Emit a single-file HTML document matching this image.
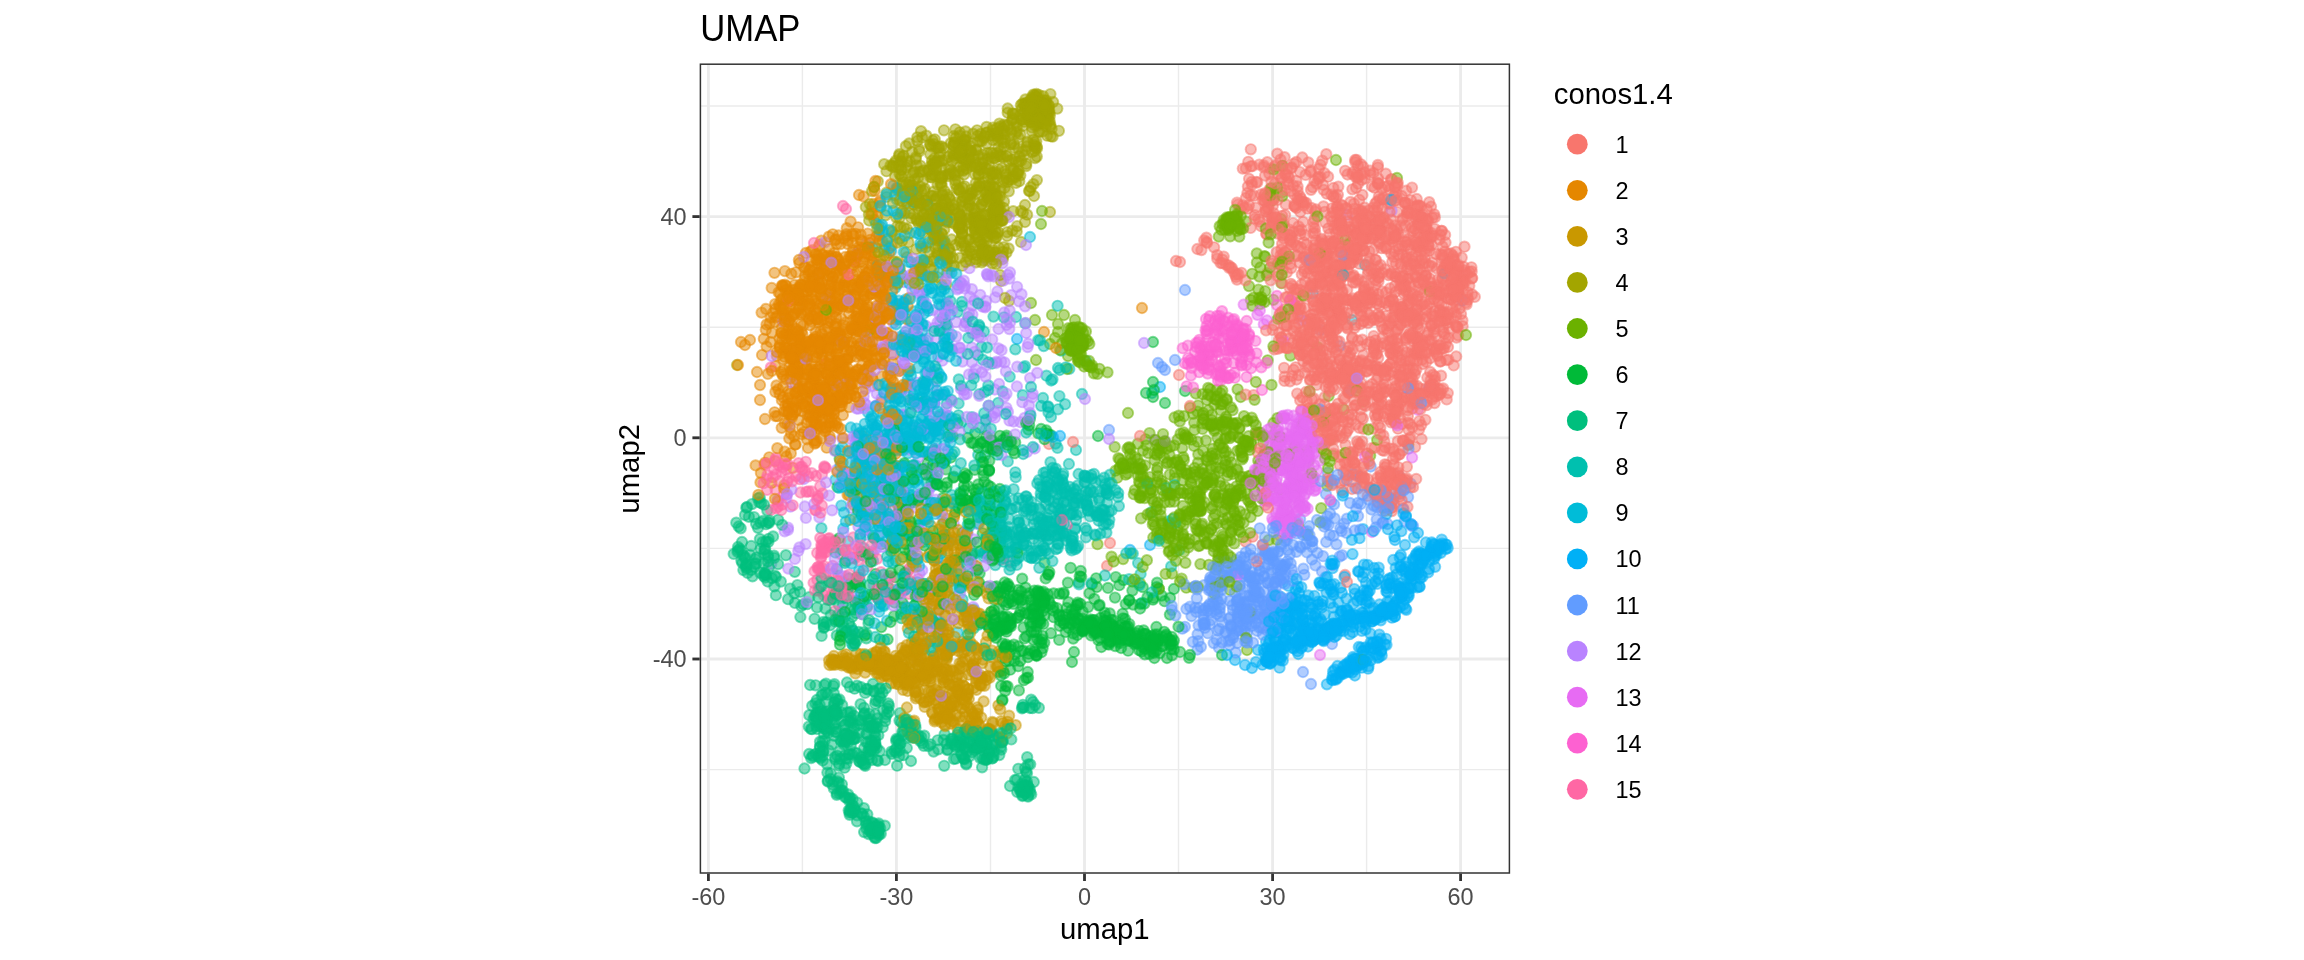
<!DOCTYPE html>
<html lang="en"><head><meta charset="utf-8"><title>UMAP</title>
<style>
html,body{margin:0;padding:0;background:#fff;overflow:hidden}
svg{display:block;will-change:transform}
text{font-family:"Liberation Sans",Arial,Helvetica,sans-serif}
.at{font-size:23.47px;fill:#4d4d4d}
.lt{font-size:23.47px;fill:#000}
.ti{font-size:29.33px;fill:#000}
.gM{stroke:#ebebeb;stroke-width:2.85}
.gm{stroke:#ebebeb;stroke-width:1.42}
.tk{stroke:#333;stroke-width:2.85}
.k1{marker:url(#m1)}
.k2{marker:url(#m2)}
.k3{marker:url(#m3)}
.k4{marker:url(#m4)}
.k5{marker:url(#m5)}
.k6{marker:url(#m6)}
.k7{marker:url(#m7)}
.k8{marker:url(#m8)}
.k9{marker:url(#m9)}
.k10{marker:url(#m10)}
.k11{marker:url(#m11)}
.k12{marker:url(#m12)}
.k13{marker:url(#m13)}
.k14{marker:url(#m14)}
.k15{marker:url(#m15)}
</style></head>
<body>
<svg width="2304" height="960" viewBox="0 0 2304 960">
<rect width="2304" height="960" fill="#fff"/>
<text transform="translate(700.3 41.2) scale(.985 1.06)" style="font-size:35.2px">UMAP</text>
<g id="grid">
<line class="gm" x1="802.4" x2="802.4" y1="64.2" y2="873.0"/>
<line class="gm" x1="990.5" x2="990.5" y1="64.2" y2="873.0"/>
<line class="gm" x1="1178.5" x2="1178.5" y1="64.2" y2="873.0"/>
<line class="gm" x1="1366.6" x2="1366.6" y1="64.2" y2="873.0"/>
<line class="gm" x1="700.4" x2="1509.4" y1="769.6" y2="769.6"/>
<line class="gm" x1="700.4" x2="1509.4" y1="548.4" y2="548.4"/>
<line class="gm" x1="700.4" x2="1509.4" y1="327.2" y2="327.2"/>
<line class="gm" x1="700.4" x2="1509.4" y1="106.0" y2="106.0"/>
<line class="gM" x1="708.4" x2="708.4" y1="64.2" y2="873.0"/>
<line class="gM" x1="896.4" x2="896.4" y1="64.2" y2="873.0"/>
<line class="gM" x1="1084.5" x2="1084.5" y1="64.2" y2="873.0"/>
<line class="gM" x1="1272.6" x2="1272.6" y1="64.2" y2="873.0"/>
<line class="gM" x1="1460.6" x2="1460.6" y1="64.2" y2="873.0"/>
<line class="gM" x1="700.4" x2="1509.4" y1="659.0" y2="659.0"/>
<line class="gM" x1="700.4" x2="1509.4" y1="437.8" y2="437.8"/>
<line class="gM" x1="700.4" x2="1509.4" y1="216.6" y2="216.6"/>
</g>
<defs>
<marker id="m1" markerUnits="userSpaceOnUse" markerWidth="14" markerHeight="14" refX="7" refY="7" overflow="visible"><circle cx="7" cy="7" r="5.2" fill="#F8766D" stroke="#F8766D" fill-opacity=".5" stroke-opacity=".5" stroke-width="1.9"/></marker>
<marker id="m2" markerUnits="userSpaceOnUse" markerWidth="14" markerHeight="14" refX="7" refY="7" overflow="visible"><circle cx="7" cy="7" r="5.2" fill="#E58700" stroke="#E58700" fill-opacity=".5" stroke-opacity=".5" stroke-width="1.9"/></marker>
<marker id="m3" markerUnits="userSpaceOnUse" markerWidth="14" markerHeight="14" refX="7" refY="7" overflow="visible"><circle cx="7" cy="7" r="5.2" fill="#C99800" stroke="#C99800" fill-opacity=".5" stroke-opacity=".5" stroke-width="1.9"/></marker>
<marker id="m4" markerUnits="userSpaceOnUse" markerWidth="14" markerHeight="14" refX="7" refY="7" overflow="visible"><circle cx="7" cy="7" r="5.2" fill="#A3A500" stroke="#A3A500" fill-opacity=".5" stroke-opacity=".5" stroke-width="1.9"/></marker>
<marker id="m5" markerUnits="userSpaceOnUse" markerWidth="14" markerHeight="14" refX="7" refY="7" overflow="visible"><circle cx="7" cy="7" r="5.2" fill="#6BB100" stroke="#6BB100" fill-opacity=".5" stroke-opacity=".5" stroke-width="1.9"/></marker>
<marker id="m6" markerUnits="userSpaceOnUse" markerWidth="14" markerHeight="14" refX="7" refY="7" overflow="visible"><circle cx="7" cy="7" r="5.2" fill="#00BA38" stroke="#00BA38" fill-opacity=".5" stroke-opacity=".5" stroke-width="1.9"/></marker>
<marker id="m7" markerUnits="userSpaceOnUse" markerWidth="14" markerHeight="14" refX="7" refY="7" overflow="visible"><circle cx="7" cy="7" r="5.2" fill="#00BF7D" stroke="#00BF7D" fill-opacity=".5" stroke-opacity=".5" stroke-width="1.9"/></marker>
<marker id="m8" markerUnits="userSpaceOnUse" markerWidth="14" markerHeight="14" refX="7" refY="7" overflow="visible"><circle cx="7" cy="7" r="5.2" fill="#00C0AF" stroke="#00C0AF" fill-opacity=".5" stroke-opacity=".5" stroke-width="1.9"/></marker>
<marker id="m9" markerUnits="userSpaceOnUse" markerWidth="14" markerHeight="14" refX="7" refY="7" overflow="visible"><circle cx="7" cy="7" r="5.2" fill="#00BCD8" stroke="#00BCD8" fill-opacity=".5" stroke-opacity=".5" stroke-width="1.9"/></marker>
<marker id="m10" markerUnits="userSpaceOnUse" markerWidth="14" markerHeight="14" refX="7" refY="7" overflow="visible"><circle cx="7" cy="7" r="5.2" fill="#00B0F6" stroke="#00B0F6" fill-opacity=".5" stroke-opacity=".5" stroke-width="1.9"/></marker>
<marker id="m11" markerUnits="userSpaceOnUse" markerWidth="14" markerHeight="14" refX="7" refY="7" overflow="visible"><circle cx="7" cy="7" r="5.2" fill="#619CFF" stroke="#619CFF" fill-opacity=".5" stroke-opacity=".5" stroke-width="1.9"/></marker>
<marker id="m12" markerUnits="userSpaceOnUse" markerWidth="14" markerHeight="14" refX="7" refY="7" overflow="visible"><circle cx="7" cy="7" r="5.2" fill="#B983FF" stroke="#B983FF" fill-opacity=".5" stroke-opacity=".5" stroke-width="1.9"/></marker>
<marker id="m13" markerUnits="userSpaceOnUse" markerWidth="14" markerHeight="14" refX="7" refY="7" overflow="visible"><circle cx="7" cy="7" r="5.2" fill="#E76BF3" stroke="#E76BF3" fill-opacity=".5" stroke-opacity=".5" stroke-width="1.9"/></marker>
<marker id="m14" markerUnits="userSpaceOnUse" markerWidth="14" markerHeight="14" refX="7" refY="7" overflow="visible"><circle cx="7" cy="7" r="5.2" fill="#FD61D1" stroke="#FD61D1" fill-opacity=".5" stroke-opacity=".5" stroke-width="1.9"/></marker>
<marker id="m15" markerUnits="userSpaceOnUse" markerWidth="14" markerHeight="14" refX="7" refY="7" overflow="visible"><circle cx="7" cy="7" r="5.2" fill="#FF67A4" stroke="#FF67A4" fill-opacity=".5" stroke-opacity=".5" stroke-width="1.9"/></marker>
</defs>
<g id="pts" fill="none" stroke="none">
<path class="k1" d="M1466.1 302.6 1431.6 233.1 1269.9 188.8 1287.8 175.6 1345.7 252.2 1270.3 168.7 1404.8 203.2 1457.8 294.4 1411.1 376.8 1399.8 381.9 1388.4 305.7 1458.9 289.6 1343.1 299.7 1437.8 285.1 1359.5 447.5 1355.4 474.3 1286.8 272.5 1327 267.9 1283.6 238.2 1356.5 308.4 1226.1 264.7 1325.9 291.8 1421.7 217.4 1308 414.7 1400.3 481.9 1434.9 376.6 1381.9 188.4 1336.7 375.6 1330.5 294.4 1412.4 427.3 1324.4 299.0 1344.2 480.8 1324.4 298.3 1333.7 409.7 1261.2 226.2 1430.2 371.9 1436.3 396.2 1418.5 237.3 1278.9 340.1 1268.3 207.4 1427.5 229.8 1388.1 203.9 1347.1 361.0 1355.6 424.4 1362.3 441.4 1351.5 419.5 1443.1 327.2 1281.3 177.8 1346.3 469.4 1299.9 196.3 1321.6 310.7 1450.6 284.1 1389.5 448.5 1366 238.7 1429.5 340.9 1442.3 277.8 1443.6 257.9 1321.7 284.7 1374.4 224.0 1389.6 189.7"/>
<path class="k2" d="M788.4 351.5 835.3 425.8 857.5 287.0 892.1 444.1 794.1 314.9 807.7 345.5 810.5 392.2 818.7 271.9 807.2 439.4 873.5 259.2 766.6 346.5 880.7 298.0 762 355.0 855.9 279.7 816.3 394.4 856.6 319.6 755.6 465.4 807.2 359.9 775.5 416.1 859.9 346.3 852.1 329.5 840 332.6 861.9 374.0 828.9 306.6 881.4 281.4 796 272.3 862.6 435.8 888.6 285.1 860.6 234.6 830.2 317.6 889.8 344.1 819.1 415.7 822.8 427.9 783.3 304.9 838 400.7 817.9 409.1 822.2 354.8 842.1 364.5 825.5 427.2 802.3 299.5 761.6 312.6 896 438.9 857.6 340.7 872.5 379.3 880.1 287.9 811.9 376.3 859.5 249.8 827.5 304.0 782.8 285.4 809.9 303.6 841.2 372.8 783.2 312.9"/>
<path class="k3" d="M982.1 678.2 869.1 662.1 925.5 655.7 947.9 705.1 959.3 669.1 955.8 579.7 939.3 573.0 915.5 653.1 977.2 721.1 829.1 660.3 906.8 651.4 913 678.4 939.7 711.7 945.9 542.5 908.3 684.4 916.6 657.4 930.6 594.2 1005.3 725.9"/>
<path class="k4" d="M936.6 208.5 1036.9 180.1 972.1 192.7 933.4 168.2 913.2 172.9 1042.8 123.2 967.2 140.7 1036.4 113.8 962.6 219.0 985.4 167.8 932.1 174.8 1040.2 113.4 1043 120.6 995.8 237.8 1044.5 110.8 891.4 230.9 991.5 212.8 955.8 154.3 976 190.3 914.8 273.3 1036.1 108.4 1009 301.0 998.2 169.1 980.7 134.0 1018.5 148.6 1036.4 94.0 1014 144.0 894.7 235.1 893.9 261.7 942.3 160.7 1031.6 109.8 962.5 206.3 922.1 171.6 999.8 155.2 961.8 220.8 980.9 216.2 946.8 213.5 967.6 256.3 949.9 217.7 973.5 155.4"/>
<path class="k5" d="M1174.8 533.9 1240.8 495.7 1236.5 468.9 1307 478.0 1079.2 344.1 1211.6 420.1 1129.1 447.2 1264.5 302.1 1215.2 514.2 1301.6 454.7 1226.7 217.5 1219.5 482.3 1180.3 465.6 1226.3 398.9 1246.3 221.6 1188.2 489.1 1408.3 444.8 1219.2 422.5 1074.9 341.6 1077.9 359.8 1140.6 497.6 1290.5 355.6 1072.9 338.3 1199.7 494.3 1185.4 562.8 1157.9 476.2 1228 554.6 1200.6 529.8 1194.2 504.6 1362.8 401.5 1083.2 332.9 1266.8 491.3 1190.5 481.9 1191.3 439.7"/>
<path class="k6" d="M1156.4 627.0 963.3 477.1 995.5 552.7 1018.3 589.9 1070.6 567.8 1133.1 604.6 1037.9 613.9 1142.7 646.9 978.2 484.4 1002.2 700.8 1093.3 620.1 996.6 626.8 1002.2 658.0 1091.9 584.3 950.8 457.5 1077.6 623.3 852.1 587.6 890.3 520.8 1100.1 638.1 883.8 477.2 1028.4 429.6 1000.5 625.4 1167 658.0 974.1 489.7"/>
<path class="k7" d="M1016.8 779.8 960.1 736.6 857 685.7 896.3 748.5 1023.7 707.3 771.9 578.2 914.6 736.8 760.1 572.8 919.1 610.2 946.7 743.8 765.2 577.5 794.4 593.3 812.2 705.8 947.3 750.1 855 633.7 957.5 734.9 850.5 735.1 923.7 649.0 980.8 732.5 837 793.4 994.3 744.0 819.4 726.2 838.2 614.7"/>
<path class="k8" d="M957.5 312.1 944.1 339.1 1060 514.4 927.6 611.9 992.3 533.8 928.6 617.7 912.2 494.9 1033.1 508.1 1084.6 482.4 992.2 363.5 995.5 553.8"/>
<path class="k9" d="M906.1 515.2 896.9 305.6 904.2 465.0 898.5 482.0 889.1 497.4 878 520.1 937.9 298.7 864.8 423.8 859.3 458.5 1352 320.0 932.3 485.9 864.9 519.9 928.2 310.9 893.9 436.6 911.6 447.3 948.1 255.8 879.1 234.2 896.7 263.6 870.5 477.1 898 473.2 922.3 416.3 912.5 443.2 907.8 453.3 941.3 305.5 890.3 534.1"/>
<path class="k10" d="M1347 616.9 1368.5 666.3 1422 564.1 1406.1 562.5 1373.6 648.7 1262.4 664.7 1310 635.8 1341.8 627.7 1330.8 634.8 1384.7 607.3 1314.5 596.0 1356.9 666.1 1362.8 617.6 1376.8 616.5 1366 603.6 1332.9 680.2 1404.5 569.0 1310.5 607.3 1294.2 623.8 1396.6 574.4 1358.1 571.2 1417.3 564.8"/>
<path class="k11" d="M1386 506.7 1209.7 604.0 1191.5 616.0 1211.6 581.3 1267.7 583.1 1400.1 494.0 1327.7 472.6 1254.5 583.8 1398.9 476.2 1251.9 616.4 1215.8 609.7 1249.2 595.3 1196.8 598.2 1271 618.9 1309.2 526.1 1219.6 611.7 1219 647.7 1370.7 466.5"/>
<path class="k12" d="M985.2 306.4 881.6 398.3 819 273.6 890.7 389.7 937.8 511.3 987.5 274.7 890.5 396.4 771.3 563.8 788 527.6 876.2 405.3 864 530.7 981.9 372.3 934.1 371.8 974.3 300.5 944.9 310.4"/>
<path class="k13" d="M1309.3 489.4 1268.5 487.1 1281.4 494.4 1295.9 461.2 1272.3 518.4 1270.5 500.1 1298.7 489.1 1238.5 337.5 1283.8 506.0 1310.6 447.6 1281.7 500.3 1264.2 500.7 1296.3 512.2 1302.4 458.9"/>
<path class="k14" d="M1255.4 340.9 1230.9 375.1 1242.3 340.7 1219.9 319.0"/>
<path class="k15" d="M824.4 466.4 786 465.2 826.9 551.9 856.7 579.1 838.2 575.6 775.5 489.6 818.3 566.8"/>
<path class="k1" d="M1366.7 293.7 1282.3 235.5 1446.6 297.9 1439.4 395.0 1341 315.2 1310.6 344.3 1443.1 388.4 1458.1 266.3 1333.2 410.9 1355.9 360.9 1412.6 332.8 1325.8 256.8 1425.8 239.8 1447.8 393.1 1300.8 347.2 1408.9 336.4 1431.6 244.8 1340.4 287.2 1405.4 202.3 1283.6 258.5 1340.5 274.4 1317.9 362.5 1332.1 252.9 1391.9 511.1 1319.8 404.2 1344.8 462.7 1330.4 425.7 1293.9 303.5 1380.7 265.2 1397.2 212.0 1372.9 274.3 1318.3 176.8 1402.4 307.1 1445.5 337.5 1327.2 363.7 1363.9 482.5 1357 249.2 1281.9 165.8 1362.3 339.7 1321.3 259.2 1366.1 395.9 1412.3 298.8 1348.2 347.7 1417.3 324.3 1350.5 353.1 1371.7 448.1 1364.8 288.9 1323.6 450.7 1407.9 410.2 1304.1 202.3 1429.2 202.2 1384.5 226.0 1284.1 367.8 1338.3 378.5 1347.5 368.8 1332.6 303.0 1391.1 274.2 1355.5 325.1 1333.7 196.4 1331.5 270.6 1411 282.6 1249.1 178.8 1290.1 300.4 1277.8 233.6 1379 404.6 1410.9 382.6 1398.1 233.7 1464.9 272.6 1301.2 343.2 1330.9 247.6"/>
<path class="k2" d="M841.6 405.8 795.7 289.6 795.4 341.3 856.1 383.8 860.9 503.6 818.9 385.3 819.7 244.6 809 392.3 864.8 314.8 878.6 277.0 891.3 414.5 818.5 341.2 830.4 321.2 802.2 383.1 852.6 330.0 874.2 326.9 848 371.7 881.7 270.5 800.4 284.7 842.5 343.9 789.4 336.3 856.1 356.5 806.8 374.4 845.4 281.6 795.8 392.8 787.9 321.3 881.6 401.9 811.2 369.2 765 419.0 873.3 364.3 840.4 244.1 798.1 330.9 822.9 315.6 868.8 307.3 825 364.5 858.6 369.9 831.1 402.6 840 305.1 800.1 343.3"/>
<path class="k3" d="M958.9 581.1 849.2 494.9 972.3 664.8 903 689.8 943 535.7 933.7 655.8 969.7 725.7 878.8 661.1 960.2 570.6 857.1 464.8 978.3 678.3 950.8 707.3 915.3 690.9 903.2 725.1 973.1 645.1 934.5 540.4 982 677.9 904.8 684.7 836 662.0 946.8 564.2 881.8 653.4 953.2 502.2 954.4 514.9 1015.7 725.2 857 663.7 966.9 696.5 997.8 666.0 977.9 709.8"/>
<path class="k4" d="M910.3 185.6 910.4 196.4 988.8 164.1 1027.6 108.0 1036.3 120.5 962.6 200.6 1002.2 220.5 895.9 160.7 1036.8 156.6 959.6 153.0 894.4 163.1 931.6 146.6 1042.5 119.1 1014.5 147.7 958.7 190.0 988.2 178.0 946.5 203.5 982.9 228.4 994.9 219.2 955.5 184.2 1037.1 125.7 949.9 258.5 975.1 230.0 942.3 195.3 909.2 143.4 938.4 148.0 865.8 207.0"/>
<path class="k5" d="M1172 573.5 1251.7 417.7 1343.8 409.5 1185.9 470.1 1197.7 530.7 1267.6 195.3 1184 416.2 1308.6 460.9 1068 356.0 1193.3 587.4 1260.1 304.1 1181.6 578.6 1161.6 445.3 1197.6 441.7 1186.3 587.7 1272.3 464.6 1273.4 299.8 1258.8 432.4 1228.6 230.2 1164.3 457.9 1231 532.9 1179.8 465.3 1226.1 416.8 1236.5 486.3 1239.7 522.0 1248 500.1 1281.5 283.2 1224.8 229.9 1313 478.6 1177.6 529.2 1153.6 501.8 1074.8 346.3 1082.8 346.1 1370.2 455.6 1325 458.6 1183.4 525.1 1276.4 446.2"/>
<path class="k6" d="M1042.9 604.8 945.4 459.3 976.9 498.9 1094.8 628.1 976.3 509.8 936.2 477.9 1129.6 633.1 1044.4 599.5 899.1 511.4 1006.3 437.6 1185 391.0 981.7 442.0 1129.6 640.1 1170.7 644.1 1157.1 634.5 1034.8 652.3 835.4 450.5 1044.5 562.6 990.4 534.1 1048.6 574.8 1044.3 599.3 987.1 536.7 868.7 517.4 1171.8 637.0 1088.6 621.1 1075.4 628.3"/>
<path class="k7" d="M825.3 715.5 866.4 638.3 1002.6 740.6 979.3 737.6 852.5 734.4 803.2 604.2 830.7 779.0 908.4 737.2 866.6 634.0 963.9 741.3 975.1 747.7 794.8 571.8 834.8 723.6 833.4 686.0 836.4 731.8 957.9 742.2 756.2 563.5 767.7 581.5 746 566.7 966.9 733.0 903.9 730.7 849.8 798.8"/>
<path class="k8" d="M942.8 425.4 1016 317.0 842.5 550.3 1066.1 540.4 1075.2 528.1 991.9 518.8 1041.5 554.6 1031.6 515.2 1107.2 502.7 1061.2 350.6 951.3 399.8 1003.5 491.2 1052.5 379.3 1000.9 526.9 1017.2 539.4 1081.2 512.6 888.5 532.1 1093.4 492.5 1063.8 533.4 908.5 419.3"/>
<path class="k9" d="M948.6 415.9 927.6 451.9 931.3 428.1 922.2 396.7 918.3 469.6 918.2 343.8 930.7 503.0 914.1 437.7 875.5 519.1 913.8 546.4 856.5 437.1 859 571.1 941.5 377.9 939.2 423.7 873 535.3 945.5 460.4 914.1 331.9 903.1 505.8 866.8 462.4 878.2 513.0 904.8 213.2 913.4 425.3 880.5 523.2 917.1 345.3 915.4 465.2"/>
<path class="k10" d="M1307.1 601.1 1393.3 611.2 1435.6 552.0 1309.5 639.3 1283.3 605.1 1301.3 587.2 1279.5 667.7 1420.1 578.5 1304.6 625.9 1392.3 577.5 1362.8 615.7 1418.7 573.0 1383.5 607.9 1399.7 557.4 1366 623.6 1417.1 587.3 1310.2 633.3 1374.7 648.7 1363.6 590.5 1411.4 574.3 1263.8 649.4 1389.6 578.4 1315.8 629.5 1311.6 628.2"/>
<path class="k11" d="M1220 586.6 1331.2 502.0 1217.3 587.9 1263.9 616.5 1213.7 643.1 1255 593.4 1306.1 543.8 1250.3 596.5 1232.5 565.5 1346.8 480.0 1198.6 625.5 1253.3 597.0 1199.3 608.0 1334.6 518.4"/>
<path class="k12" d="M878 475.9 903.9 282.1 835.1 372.9 938.2 430.8 895.8 487.3 917.2 660.4 985.6 429.6 965.8 322.9 866.1 534.9"/>
<path class="k13" d="M1264.7 450.1 1283.7 451.7 1299.5 454.3 1289.4 462.9 1310.9 434.8 1277.8 457.7 1294.7 439.8 1293.2 437.9 1273.7 476.8 1309.4 412.4 1292.1 493.4 1270.1 468.6"/>
<path class="k14" d="M1202.7 356.2 1225.6 329.0 1225.4 350.1 1245.7 343.3 1216.9 351.4 1236.5 324.1 1208.2 330.2"/>
<path class="k15" d="M833.9 547.7 829.5 546.1 848.2 590.7 772.9 477.2 1000 560.0 845.5 590.6 828.7 581.0"/>
<path class="k1" d="M1335.3 284.1 1431.2 313.8 1285.7 204.4 1397.8 441.2 1386.1 478.0 1285.6 251.4 1375.7 366.0 1445.4 272.6 1346.9 431.2 1323.7 422.5 1281.8 178.6 1415.2 266.5 1384.1 416.5 1251.9 184.8 1337.8 229.6 1387.8 497.9 1322.2 303.4 1434.3 299.1 1263.8 165.4 1431.9 266.4 1289.2 229.6 1403 508.2 1291.2 245.0 1419.3 206.0 1296.3 162.0 1448.2 266.7 1311 189.8 1437.9 279.6 1298.2 340.9 1390.9 353.3 1427.9 391.1 1382.3 208.2 1396.9 229.5 1348 244.3 1347.5 300.1 1370.9 295.0 1440.6 361.2 1439.8 310.8 1410.6 317.9 1395.8 276.5 1379.2 321.2 1355.7 234.0 1284.5 380.9 1379.9 230.5 1353.4 451.8 1311.2 319.1 1335.1 426.6 1417.3 354.7 1398.4 467.3 1347.6 378.5 1336.6 206.8 1415.2 245.5 1290.4 235.2 1308.5 366.3 1459.9 281.4 1250.6 227.9 1330.4 332.8 1419.6 289.7 1328.8 284.9 1284.6 309.2 1354.7 463.3 1297.6 186.5 1353.5 374.3 1315.2 233.1 1369.8 298.0 1377.3 370.1 1380.6 228.5 1310.9 261.1 1245.7 541.7 1240.8 209.5 1324.7 298.8 1324.7 332.4"/>
<path class="k2" d="M871.1 313.0 830 439.1 815.9 424.8 805.4 358.6 818.5 322.1 775.3 366.2 885.3 245.6 805.4 314.3 835.8 332.7 811.4 321.4 839.6 289.9 822.3 344.9 784.3 485.1 799.5 388.1 833.1 404.9 872.4 359.0 824.2 403.5 819.5 411.6 880.3 355.7 797.6 343.9 803.4 301.0 835.3 399.9 861.8 446.0 781.2 300.0 886 439.0 886.3 256.2 870.1 337.3 813.9 373.6 842.6 400.0 814.8 443.6 879.8 202.5 801.3 284.9 834.6 301.2 803.2 325.6 858.2 254.0 834.7 383.7 856.6 316.0 801.7 398.8 839.7 264.3 882.4 364.3 807.9 415.1 815 310.3 874.7 349.1 846.8 286.7 853.1 492.9 798.7 358.0"/>
<path class="k3" d="M985.8 651.4 832.7 664.8 921.2 658.4 907.8 628.5 937 552.2 891.4 662.6 840.7 663.0 919.4 679.9 936 568.7 992.3 721.9 943.2 625.9 836.9 660.9 998.8 592.2 948 569.9 949.1 684.4 891.1 683.3 935 719.7 955.1 697.7 876.8 673.6 941.7 594.5 947.8 675.4 855.4 673.4 952.8 701.2 954.2 722.4 897.1 662.1 916.7 649.5 898.2 505.9"/>
<path class="k4" d="M890.5 165.4 1029.7 113.8 971.2 150.9 959.4 189.7 1029.7 104.8 1009.2 179.8 1024.2 104.2 995.2 212.9 880.6 207.5 993.4 235.4 978.6 175.2 933.6 269.1 1001 281.0 994.6 188.2 941.1 167.4 1000.6 150.6 1001.1 157.0 959.9 257.9 985 258.3 933.5 143.9 908.4 242.2 1046.2 118.9 903.8 192.6 983 182.5 985.9 225.1 985.3 228.0 981.8 220.5 963.3 170.9 940.3 183.2 942.7 245.7"/>
<path class="k5" d="M1280.9 218.9 1139.9 583.0 1230.7 506.5 1084.1 366.5 1141.1 518.3 1265.1 256.7 1226.9 400.2 1296.8 482.0 1126.2 464.5 1170.5 494.6 1245.8 480.7 1070.5 350.0 1317.5 347.2 1068.5 328.2 1071.2 333.2 1313.2 411.2 1069.3 335.6 1272.1 200.5 1157.7 502.5 1052 315.0 1080.9 347.0 1062 343.0 1253.1 482.7"/>
<path class="k6" d="M1171.3 649.2 1095 625.9 1074 652.0 1073.2 638.6 917.5 559.2 1161.6 595.6 1067.9 582.7 1039.4 593.3 940 503.0 1113.7 635.0 1145.6 634.1 1093.9 633.6 1045.7 578.4 1108.9 644.7 1003.3 651.8 1112.2 634.1 1009.5 587.0 962.3 532.8 1074.2 621.0 1034.1 651.0 986.3 436.2 934.6 467.8 982.7 533.3 876 435.8 979 582.5 887.6 639.3 892.7 539.0 1009.9 625.1 880.7 603.7"/>
<path class="k7" d="M903.3 755.2 1033.8 782.0 862.6 614.3 901.3 722.2 741.4 550.8 933.6 751.6 848.2 587.8 1027.8 787.2 856.6 640.8 851.2 627.4 835.8 709.5 873.7 744.8 943.6 740.0 834 735.8 963.1 758.0 985.8 742.2 849.9 686.8 857 815.3 915.5 727.8 873.2 823.4 857 821.3 827.3 719.6 981.8 757.0 818 756.1 808.8 726.6 1027 773.2 930.5 744.3 746.5 565.3 854.6 688.7 980.7 740.2 876.7 747.8 875.2 703.7"/>
<path class="k8" d="M1042.6 487.5 1003.5 561.7 1011.3 547.2 1104.7 489.7 968.2 317.1 1023.4 544.1 962.5 506.0 1046 535.9 1005.4 531.3 917.9 525.3 1042.3 534.3 1034 524.2 1051 417.0 1069.6 495.0 1051.2 380.5 1074.1 505.9 1006.8 531.4 1063 482.6 981.5 346.8 1071.3 540.3 905.9 335.6 1045.9 494.0 1086.9 502.9"/>
<path class="k9" d="M901.4 392.6 901.8 508.8 867 481.2 835.5 479.7 896.6 199.3 872.8 451.5 931.6 476.1 900.9 408.1 908.1 483.6 920.8 231.2 848.1 541.3 865.5 478.7 895.2 287.8 871.6 463.4 899.3 347.0 1365 265.0 903.9 442.1 928.9 438.6 910.2 321.4 876.5 465.2"/>
<path class="k10" d="M1343.1 492.6 1381.7 655.4 1318.2 629.2 1324.6 614.5 1341.6 611.5 1367.9 618.2 1425.9 554.0 1424.5 559.7 1359.9 626.5 1245 665.0 1362.4 662.5 1270.5 662.7 1387.5 592.4 1299.6 625.5 1290.7 643.2 1349.8 634.2 1361.8 667.7 1280.9 630.5 1329 635.4 1292.4 603.1"/>
<path class="k11" d="M1230.6 617.1 1213.7 582.2 1259.3 611.1 1320 329.8 1184.9 626.8 1341.6 531.1 1222.5 584.8 1353.2 474.2 1245.8 552.3 1258.5 601.6 1192.8 641.8 1205.7 608.0 1280.1 608.9 1262.5 544.8 1236.4 631.3"/>
<path class="k12" d="M804.8 506.5 1027.6 347.1 1003.4 280.7 922.2 570.2 899.8 339.6 1016.9 386.4 874.3 498.0 863.7 396.3 980.2 294.9 976 571.5"/>
<path class="k13" d="M1296.5 426.6 1298.7 418.4 1284.3 418.3 1296.2 507.1 1292.1 528.9 1286.1 500.4 1286.3 537.3 1293.6 415.7 1298.8 477.9 1279.4 535.2"/>
<path class="k14" d="M1218 330.6 1233 348.1 1226 376.5 1206 319.0 1237.4 354.9"/>
<path class="k15" d="M820.2 486.2 822.1 567.9 852.4 558.4 908.9 593.8 855.1 600.3"/>
<path class="k1" d="M1393.8 196.0 1268.5 216.3 1444.5 333.7 1463 280.0 1361.2 315.7 1360.3 246.6 1397.5 406.7 1425.1 276.0 1418.3 282.4 1280.5 159.6 1321.4 367.4 1444 348.4 1301.6 201.8 1356.7 476.0 1351.8 377.6 1424.2 236.5 1411.9 312.9 1322 376.6 1305.1 281.5 1425.2 342.8 1299.4 230.9 1338.5 300.5 1323.1 350.7 1330.8 328.3 1416.2 252.1 1410.6 389.0 1393.9 238.8 1274.9 166.7 1398 374.6 1266 211.7 1299.3 351.4 1421.5 394.3 1459.6 308.5 1381.4 346.9 1413.8 397.7 1331.8 373.3 1334 427.6 1378 313.8 1377.4 477.7 1346 208.1 1464.4 270.4 1409.9 423.9 1355.8 258.1 1284.1 347.4 1379.6 317.3 1388.7 325.7 1438.5 346.0 1400.8 279.8 1342.6 228.2 1417.4 403.8 1408.1 444.4 1374.5 447.8 1380 496.8 1330.8 244.6 1430.1 286.6 1426.3 352.6 1302.7 354.3 1450.9 287.5 1415.8 277.1 1361.4 388.2 1334.3 228.4 1391.3 253.8 1336.3 197.7 1443.8 268.1 1308.3 162.4 1319.9 349.0 1421.2 305.5 1387.9 409.3 1394.9 286.0 1404.6 441.1 1436.9 292.0"/>
<path class="k2" d="M801.5 314.9 825.3 256.8 864.1 299.9 896.1 319.7 799.4 308.0 813 392.1 850.9 296.8 836.5 257.1 808.3 387.9 766.5 324.5 822.7 308.0 891.5 245.7 774.5 272.8 867.1 279.2 799 298.3 848.1 294.3 785.5 317.9 819.8 350.2 809.4 417.0 858.1 303.7 856.3 346.3 810.7 384.4 814.5 408.9 808.6 348.0 779.8 345.3 814.6 404.6 846.8 295.7 777.4 316.3 857 330.6 853.8 302.4 892.4 301.8 798.1 299.8 901.9 304.6 788.9 350.6 816.8 423.7 881.4 294.3 849.8 385.2 845 339.3 830.8 262.8 829 258.5"/>
<path class="k3" d="M860.2 476.8 895.2 661.3 915.8 698.4 893.7 476.0 962.6 641.7 918.5 691.5 907.1 508.7 903 676.1 969.7 708.6 971.3 614.1 954.7 686.8 983.6 701.4 991.4 730.6 909.5 623.5 866 665.1 868.2 663.4 929.8 553.6 967.4 694.8 936.4 666.2 868.2 666.7 927.2 557.2 904 680.1 948.6 717.6 947.6 552.9 900.8 517.0 919.2 661.2 896.4 674.8"/>
<path class="k4" d="M907 228.9 911.2 218.1 1007.7 112.7 964 174.5 962.5 227.6 961.9 233.7 973.4 218.8 907.2 165.3 1031.5 99.3 1033.4 184.2 971.2 189.6 935.5 199.5 901.7 191.2 1021 211.0 875.6 247.4 983.3 158.5 1042.4 105.3 986.7 143.7 918.5 223.2 936.9 236.4 953.6 156.2 916.3 249.1 930.3 226.9 984.1 138.0 1031.9 106.8 1020.9 105.0 941.1 240.0 958.8 228.5 957.9 145.1 994.5 133.6 1029.1 109.4 1042.6 112.2 940.6 211.2"/>
<path class="k5" d="M1184.8 438.0 1187.9 438.3 1216.5 390.1 1130.7 458.9 1073.8 327.3 1161 443.5 1266.6 473.0 1185.1 435.0 1089.3 343.9 1221.9 555.2 1140.2 483.5 1196.3 501.6 1092.2 365.5 1235.6 424.2 1073.7 340.9 1035 320.0 1267.7 360.3 1079.2 335.6 1224.2 575.8 1214.3 430.8 1261.5 471.2 1079 346.7 1218.5 553.8 1220.2 443.6 1203.2 413.0 1272.4 457.4"/>
<path class="k6" d="M1101.4 647.0 1167.9 638.5 987.5 620.0 943.7 522.6 1128.2 626.3 1053.1 606.9 970.3 618.0 1082.7 611.7 1123.4 580.1 1158.9 588.8 1036.6 656.0 1096.8 587.0 993.2 449.2 875.5 574.0 1111.3 619.8 952.7 436.2 1008.4 626.8 867.2 607.1 1101.9 631.3 1008.8 661.0 1026.3 636.4 1084.9 622.1 1125 619.1 1119 639.1 1099.6 604.9 1028 677.7 1149.2 642.9 879.8 639.3 1048.1 574.1 1001.5 653.0 1078.6 582.4 894.7 487.8 1031 614.3 835.1 541.0"/>
<path class="k7" d="M836.5 712.1 888.9 712.0 817.1 721.5 841.7 790.2 989.3 751.5 887.2 708.4 987.9 733.6 971.1 746.0 992.3 758.5 1022.4 791.7 837.4 781.4 824.2 626.9 852.5 723.2 971.8 734.8 821.6 635.9 971.9 752.2 840.8 791.7 828.2 732.9 759.8 497.5 815.7 753.8 861.2 720.6 761.2 503.2 1028 795.4 854 728.4 1030 792.4 842.6 739.5 975.2 744.8 869 727.2 815.5 703.4 822.3 725.8 844.3 597.5 914.4 735.3 827.7 781.5 869.3 713.7 901.1 614.1 794.9 602.9 768.6 538.8 918.8 738.7"/>
<path class="k8" d="M1073.1 513.6 1050.1 509.0 1063.2 473.7 1084.6 475.8 1025.1 532.8 1086 361.0 1077.8 485.4 980 516.8 1049.2 483.3 1005.8 502.3 1088 510.6 1055.8 468.7 1109.3 519.8 1138.1 563.1 1060.4 512.6 1095.6 482.3"/>
<path class="k9" d="M893.7 433.9 881.1 487.3 854 498.9 851.4 484.3 923.6 359.3 951.6 349.2 920.9 246.0 881.4 430.6 883.1 413.8 920.5 433.9"/>
<path class="k10" d="M1350.6 666.5 1386.9 608.5 1325 628.8 1275.3 641.3 1314.7 639.7 1395.7 602.2 1361 618.7 1378.7 567.6 1423.9 560.0 1435.1 566.8 1366.7 590.5 1280.2 619.4 1384 613.1 1270 663.9 1337.8 677.9 1315.4 636.2 1371.6 617.1 1374.1 615.9 1356.8 619.0 1285.1 604.8 1419.4 586.4 1297.6 651.2 1361.2 647.7 1357.4 663.2 1411.2 580.6 1370.3 616.5 1342 673.2 1362 599.7 1367.9 592.2 1394.4 536.7 1399.7 596.4"/>
<path class="k11" d="M1376.7 519.4 1255.9 593.0 1216.6 599.8 1281.3 546.4 1293.1 575.1 1342.1 555.2 1236.8 601.9 1243.9 576.1 1360.3 476.8 1284.5 565.4 1328.5 524.9"/>
<path class="k12" d="M890.8 425.4 788.3 568.6 915.4 428.1 985.6 420.9 931.7 431.5 928.7 474.8 1034.8 448.5 874.1 451.7 934.9 623.2 903.8 414.7 902.6 415.1 905.5 606.5 902.2 532.3 953.8 524.1 859.4 493.5"/>
<path class="k13" d="M1302.6 421.0 1302.9 485.5 1313.1 441.9 1293.5 459.1 1273.6 460.9 1271.6 472.2 1287.1 515.3 1312.6 441.7 1310.7 478.7"/>
<path class="k14" d="M1227.6 354.8 1246.5 377.0 1196.2 343.2"/>
<path class="k15" d="M826.2 363.7 815.2 510.2 811.6 473.1"/>
<path class="k1" d="M1427.1 401.4 1357.9 233.6 1398.6 493.4 1386.1 496.2 1398.9 249.0 1327.5 424.1 1286.9 325.9 1407.5 266.7 1374.4 187.7 1324.8 211.8 1303 202.1 1265.3 211.4 1416.2 218.8 1402.1 254.5 1352.9 298.4 1387.2 366.8 1110 543.0 1370.9 487.8 1328.1 382.7 1361.9 179.8 1411.4 386.6 1316.6 183.6 1417.7 327.5 1442.6 294.3 1261.1 194.4 1341.6 319.8 1280.2 318.5 1395.5 273.9 1294.8 206.5 1294.3 194.6 1455.5 270.6 1369.9 170.6 1451 253.5 1309.6 268.7 1400.8 263.9 1391.5 296.6 1357.6 177.6 1388.2 498.7 1377.9 415.7 1365.5 363.6 1300 172.1 1220.5 263.0 1318.8 168.7 1398.1 245.9 1311.4 285.8 1304.2 256.6 1438.9 294.9 1382.7 499.7 1422.9 246.2 1309.4 327.3 1329.2 312.6 1430.5 385.8 1371.2 365.4 1222.4 263.1 1426.1 285.9 1393.5 451.5 1408.3 303.6 1323.2 421.7 1321.3 308.7 1238.5 274.2 1343.4 275.5 1374.8 415.1 1453.6 277.8 1340.8 226.9 1313 267.2 1369.8 229.3 1422.2 359.6 1382.6 337.5"/>
<path class="k2" d="M809.1 280.7 884.9 317.2 796.2 373.1 877.4 216.0 875.5 349.8 879.9 276.6 795.1 412.1 863.6 196.4 812.5 250.1 802.4 334.3 831.8 282.1 785.4 290.1 844.1 303.8 822 297.2 784.9 321.1 858.1 435.5 880.3 200.4 839.4 402.7 824 361.1 787.9 313.1 822.5 372.5 797.2 369.4 808.3 274.1 849.2 346.2 797.3 355.2 812.6 392.2 791.8 325.0 893.2 308.6 741 342.0 809.2 319.5"/>
<path class="k3" d="M852.3 668.6 897.4 679.9 848.2 667.5 930.4 538.5 834 660.0 1003.2 670.8 957.6 728.6 872.5 653.5 955.3 557.6 960 716.6 833.9 656.0 882.5 490.9 968.2 645.1 942.2 653.9 841.8 665.4 942.6 639.0 946.9 715.7 944.2 677.8 905.5 521.4 957.3 611.8 934.1 589.9 967.9 727.1 883.7 488.6 974.8 715.3 859.6 666.5"/>
<path class="k4" d="M1019.8 115.7 1043.8 119.0 1034.2 113.5 884.2 164.2 944 130.3 979.7 241.7 1004 201.4 1040 108.0 933.4 217.8 948.6 209.7 937.6 277.2 948.1 176.2 1037.9 112.2 1027.9 112.2 1001.8 168.3 975.3 162.6 1041.4 113.6 946.2 284.8 1007.5 182.0 737 365.0 1031.5 112.3 1010.4 144.7 1034.1 112.1 953.4 145.3 999.7 205.5 874.5 219.9 986.9 191.5 1036.7 97.6 1019.3 181.2 995.3 200.9 1031.9 111.0 1004 146.8 1000 275.0"/>
<path class="k5" d="M1079.8 339.4 1069.8 339.3 1230.5 218.5 1217.1 523.6 1195.8 393.5 1154.6 460.2 1333.1 455.7 1207 400.0 1229.7 226.7 1201.6 525.5 1223.4 519.5 1115.6 470.7 1230 590.0 1314.8 412.3 1193.1 413.8 1078.4 343.3 1215.8 569.7 1228.1 494.4 1279.2 489.2 1227.9 499.8"/>
<path class="k6" d="M917.7 595.6 967.8 437.8 1023.2 599.5 1005.9 588.7 990.5 521.2 874.2 497.8 958.7 580.0 927.7 462.8 1149.5 654.1 1030.5 650.5 969 504.4 1134.5 641.9 1156.7 587.1 992.3 440.4 934.2 479.3 839.7 458.7 980.7 443.6 982.1 462.2 864.4 459.2 863.4 601.2 1128.9 639.9 1001 593.8 895 577.2 1009.5 653.7 935.4 549.9 993 492.1 865 635.4 983.8 516.8 973.5 442.9 1141.1 636.6 1000.2 544.5 1042.1 599.8 960.1 498.9 919.9 588.0 1153.6 641.0 979.6 573.3 942.8 498.2 1153 342.0 1013.2 603.9 957.5 423.2"/>
<path class="k7" d="M970 742.1 922.5 743.1 852.7 630.5 841.9 784.3 832.4 784.4 769 522.8 870.8 740.4 874.9 745.9 766 574.7 834 704.6 906.4 723.3 867 734.2 856.9 584.5 811.1 758.1 1000.6 747.3 819.8 753.0 835.3 759.4 964.5 730.5 844.7 755.5 848.5 736.1 998 737.7 833.8 788.3 918.5 735.7 848.7 754.3 878.1 831.2"/>
<path class="k8" d="M960.2 540.4 1053.7 501.9 917.4 347.1 952.2 454.2 981.5 518.3 947 325.6 1171.2 566.4 1009.6 534.9 1094.8 534.6 976.6 511.1 958.8 379.4 1118.2 493.0 1032.3 533.9 984.9 455.5 1023.7 522.4 995.3 565.1 1032.9 447.0 1030.6 507.2 1179.2 550.2 916.2 496.9 1085.4 527.9 1031.1 557.6"/>
<path class="k9" d="M925.6 381.8 941.1 376.8 947.1 263.3 936.9 395.1 926.3 468.9 916 350.3 879.2 611.7 882.8 521.2 893.7 450.5 914.7 502.2 903.7 533.9 922.7 304.5 896.2 465.7 869.1 473.6 889 471.4 907.6 440.5 960.9 647.0 879.2 526.5 948.3 293.4 925.2 401.7 908.6 503.8 903.9 479.2 924 380.6 930.3 437.1 940.2 414.4 946.1 303.9 864.1 548.4 908.7 488.0"/>
<path class="k10" d="M1345.7 611.1 1392.8 613.8 1303.9 627.8 1355.4 669.4 1420.4 553.5 1328 632.1 1285.4 640.4 1333.6 592.2 1387.5 614.1 1321.7 635.9 1264.5 653.2 1386.5 644.8 1418.9 551.5 1333.2 594.8 1434.2 551.2 1309.6 620.1 1303.1 629.5 1400.8 555.0"/>
<path class="k11" d="M1244.5 631.1 1289.2 528.5 1219.7 561.7 1190.1 606.6 1311 684.0 1226.9 571.0 1280.4 580.5 1290.2 531.4 1291.7 569.5 1296.2 522.5 1395.7 492.8 1411.8 525.8 1290.3 523.2 1272 615.6 1251.2 609.2 1296.5 551.8 1282.7 582.5"/>
<path class="k12" d="M837 469.6 922.4 294.0 938.2 357.1 972.4 305.7 927.3 403.0 837.7 380.5 898.8 265.5 933.1 310.1 909 449.5 981.1 337.3 841.6 597.9 975.3 566.3 936.9 559.1 858.5 408.7 928 603.2 1020.5 422.2"/>
<path class="k13" d="M1265.5 505.0 1262.5 489.9 1299.6 430.0 1309.9 477.7 1280.5 515.2 1305.2 506.6 1300.5 457.0"/>
<path class="k14" d="M1246.3 349.0 1224.9 375.8 1220.5 380.9 1208.5 361.2 1184.8 363.2 1246.3 365.2 1234.8 377.7"/>
<path class="k15" d="M843 206.0 778.2 506.4 853.2 557.3 867.3 566.4 817.2 553.0 821.6 553.6 1010 562.0 789.1 477.8 831.6 595.2 890.9 593.0 841.2 581.2"/>
<path class="k1" d="M1446.3 360.1 1395.3 276.7 1380.3 427.8 1352.6 384.3 1401.4 307.3 1285.5 174.9 1378.7 230.7 1404.7 202.6 1273.5 223.6 1406.6 480.6 1405.5 488.3 1402 355.1 1360 363.2 1237.8 204.6 1364.3 477.7 1402 480.5 1393.7 464.4 1281.4 249.5 1378.1 178.4 1401.9 401.1 1287.5 181.4 1391.5 272.9 1461.7 257.6 1370.9 298.9 1325.8 335.8 1367.2 313.1 1265.1 175.6 1399.9 370.0 1400.8 360.3 1419.4 216.8 1384.8 391.7 1398.8 454.7 1404.1 236.7 1419.7 388.4 1354.4 222.2 1340.3 248.0 1347.6 270.5 1314.1 375.9 1416.9 206.2 1359.1 229.8 1448.4 299.0 1408.2 300.4 1345.5 444.7 1324.5 404.5 1414.1 351.7 1395 225.5 1354 236.4 1236.1 277.0 1326.8 193.7 1457.8 327.4 1350.2 242.8 1311.4 410.8 1316.3 332.5 1374.5 408.1 1415.1 447.0 1348.3 393.0 1297.2 393.6 1432.5 383.8 1406 397.5 1244.4 208.0 1377.2 300.1 1328.4 228.3 1412.9 338.5 1338.4 298.5 1356 405.1 1274.1 198.7 1393.5 230.6 1406.1 256.0 1269.9 191.6 1313.9 398.4 1440.5 254.4 1253.6 395.1 1281.3 337.3 1273.9 199.0"/>
<path class="k2" d="M840.2 298.5 834.6 389.6 840.2 363.2 812.9 401.0 829.7 436.3 875.9 453.8 844.4 359.3 787.3 334.7 868.9 365.2 802.5 381.6 793.4 357.3 834 413.6 855.1 328.0 792.8 467.8 813.8 421.7 888.4 462.4 815.9 352.6 821 258.6 787.2 289.6 821.3 240.6 790.6 335.0 798.6 420.0 771.5 483.0 828 370.6 907.1 257.2 796.6 410.0 843.6 285.0 776.8 355.9 881.2 332.2 890.2 441.8 845 282.8 750 340.0 863.7 294.2 872.2 261.5 804.7 345.8 801.4 332.0 864.7 276.8"/>
<path class="k3" d="M937.9 645.3 958.1 674.6 906.4 672.1 984.5 685.8 931.8 623.3 881.5 497.8 918.7 647.8 920.5 676.6 915.4 531.8 956.5 676.7 954.2 705.5 880.4 493.0 902.8 654.5 974.9 717.6 931.4 631.3 998.4 705.3 951.2 650.2 971.4 668.9 962.8 645.4 951.9 561.7 899.2 657.5 943.1 631.8 936.1 504.7 977.1 707.5 885 492.6 918.4 614.9 902.7 664.9 959.7 695.6 854.2 476.3"/>
<path class="k4" d="M914 202.2 1025 222.0 969.3 239.4 970.9 151.3 902.4 278.6 1029.8 119.7 986.3 132.8 969.2 239.8 978.3 216.6 946.1 210.9 993.5 250.2 1052.6 136.7 911.8 199.2 1031.5 106.3 941.7 204.2 955.1 180.4 922.2 137.5 901.4 169.6 887.6 238.8 962.6 153.3 1024.2 155.2 1006.1 177.8 970.1 164.9 955.4 245.0 1048.3 112.8 961.8 201.6 1042.3 113.8 1025 205.0"/>
<path class="k5" d="M1225.3 460.7 1277.8 319.0 1263.2 442.4 1203.6 473.1 1153 491.2 1328.6 395.8 1174.8 478.3 1131 553.3 1230.8 540.1 1258.7 469.1 1202.1 468.8 1217.7 546.4 1253.3 478.5 1242.7 448.9 1214.5 475.8 1234.5 223.4 1182.6 480.2 1090 366.6 1176.5 551.4 1131.4 463.2 1198 462.7 1141.3 468.1 1189.8 498.1 1194.5 430.0"/>
<path class="k6" d="M994.1 599.4 1158 640.9 971.9 503.5 881.3 627.1 1006.1 644.5 898.8 593.5 1091.2 635.4 848.3 584.7 1009.2 599.1 1161.6 646.2 918.9 519.3 1151.3 642.8 975.2 432.6 1053.3 610.5 993 449.9 891 551.2 848.9 578.4 898.4 515.7 1020.4 611.7 1121 624.8 1042.6 648.2 887.8 518.4 1090.5 621.0 1031.4 632.1 1084.5 623.5 910.9 610.6 866.7 494.0 900.1 495.1"/>
<path class="k7" d="M896.4 752.4 746.4 568.2 1029.8 708.0 873.9 691.7 812 729.2 765.4 575.0 820.7 715.4 778.1 564.1 911.9 724.1 900 713.1 847 682.5 768.2 522.4 800.1 591.9 773.1 536.4 767.3 510.6 835.8 698.9 825.7 720.4 830.7 773.2 961.3 745.8 885 760.0 872.2 833.3 882.7 727.2 1018.4 787.2 964.1 758.6 836.8 635.4 879.4 696.3 863.8 816.6 966.3 763.3 733.7 553.9 875.2 736.4"/>
<path class="k8" d="M974 609.5 994.2 494.2 982.8 359.7 971.8 417.1 1040.9 535.9 1028.8 550.9 1039 480.1 1064.7 535.8 1057.8 503.7 1033.6 556.7 941.1 553.5 1002.5 443.1"/>
<path class="k9" d="M934.5 431.3 944.5 420.5 862.4 497.4 904.1 355.3 905.3 332.2 936.1 443.5 868.2 412.4 863.6 433.7 887.8 468.9 889.5 367.7 907.2 439.2 924.9 500.3 913.8 341.2 896.8 470.7 896.8 433.0"/>
<path class="k10" d="M1274.4 628.4 1340.4 624.0 1444.4 273.4 1426.8 556.2 1268.5 651.7 1349.2 621.8 1310.7 634.6 1335.9 679.6 1306 620.6 1312.8 293.3 1394.8 616.5 1421.6 562.8 1404.3 587.1 1416.7 553.4 1330.3 589.2 1282.8 613.6 1374.5 573.9 1353.4 603.7 1365.9 582.3 1339.7 672.1 1381.2 650.5 1283.3 641.9 1365.5 629.6 1355.2 663.9 1333.4 623.3 1354.2 665.6 1288.1 611.2"/>
<path class="k11" d="M1158 363.0 1219.4 628.8 1336.5 544.3 1285.6 564.3 1271.2 572.6 1214.3 605.5 1289.8 554.4 1232 576.2 1281.6 568.6 1408.5 448.7 1339.6 556.6 1273.6 560.5 1209.7 608.8 1244.3 614.3 1263.8 576.1 1203.3 610.4 1222.6 575.3 1204.1 585.2 1258.7 597.5 1212.4 578.6 1241.3 605.2"/>
<path class="k12" d="M961.5 353.0 1019.1 301.3 960.9 389.0 936.1 499.6 892.6 344.6 926.1 326.0 859.6 456.6 872.2 469.1 911 384.4 866.5 243.7 934.2 327.9 957.5 565.5 971.7 347.4 997.4 291.5 1391.6 210.8 805.6 544.1 905.6 498.2"/>
<path class="k13" d="M1282.9 432.4 1293.4 467.5 1299.7 486.2 1287 498.9 1301.4 461.8 1276.8 436.2 1276.5 430.0 1277.2 522.3 1275.3 445.1 1287.6 418.8 1295.1 500.6 1288.9 482.9 1304.5 456.4 1297.9 485.8"/>
<path class="k14" d="M1191.7 367.9 1226.3 362.8 1216.3 350.8 1204.4 351.9 1208.8 354.7 1215.8 374.5 1201 361.9"/>
<path class="k15" d="M832.8 573.4 798.5 463.2 823.9 566.1 800.5 492.5 908.8 568.8"/>
<path class="k1" d="M1378.6 277.4 1417.5 296.3 1423.4 345.8 1341.1 272.9 1272.7 218.6 1345.9 365.8 1415.7 353.3 1245.9 168.2 1453.8 283.3 1441.7 258.2 1399.8 476.3 1450.9 318.3 1266.1 233.5 1332.6 419.0 1354.1 363.4 1328.1 254.3 1397.7 392.1 1434.2 214.3 1376.2 418.3 1385 467.4 1422.9 222.0 1441.1 375.7 1364.7 207.7 1348.5 391.8 1301.3 409.8 1207.1 243.0 1345.7 433.3 1362.9 418.6 1362.6 237.1 1306.9 252.3 1315.9 209.5 1306.2 260.3 1297.5 292.9 1457.8 269.9 1417.4 233.0 1370.5 174.9 1334.3 256.8 1312.8 287.0 1376.7 235.1 1304.4 296.3 1333.4 448.7 1301.6 284.4 1364.3 172.4 1320.6 261.0 1332.4 337.8 1426.2 229.8 1435.2 391.6 1337 412.9 1414.6 264.5 1423.7 242.7 1344.9 368.3 1262.4 457.3 1370.2 341.9 1414.4 371.6 1359.3 297.1 1327.2 425.7 1179 375.0"/>
<path class="k2" d="M872.2 313.6 826.7 447.7 872.5 285.3 829.8 357.0 864.8 369.8 834.2 252.9 825.2 389.0 795.7 444.4 826.2 428.6 839.9 266.1 829.1 417.2 799.6 300.8 770.6 342.0 855.3 308.8 842.9 415.0 850 379.2 854.5 326.0 792.1 349.0 833.3 401.4 815.2 369.7 801.2 323.8 791.2 301.0 745 345.0 846.5 471.8 793.8 362.0 838.3 357.0 808.4 287.1 784.6 347.4 821.8 359.8 876.1 265.1 866.4 272.7 883.5 312.3 830.2 398.8 852.8 287.1"/>
<path class="k3" d="M947.2 629.3 917.3 675.0 928.9 599.1 961.5 699.7 971.7 711.6 978.5 654.5 898.4 682.0 909.4 550.7 933.1 600.3 935.5 689.5 961.6 708.6 949.3 534.1 863.6 660.8 968.2 582.8 1007.9 724.8 884.9 665.1 949.4 564.8 935.9 703.5 894.9 515.4 887.8 676.6 893.7 668.2 929.7 662.6 991.1 612.1 947 518.6 912.1 558.9 913.1 727.5 955.5 646.4 934.3 560.6 942.4 511.8 934.3 660.2 902.1 669.1 916 692.4 968.5 726.7"/>
<path class="k4" d="M994.4 158.2 994.5 207.7 920.7 268.4 1002.9 259.0 918.4 208.8 1012.4 230.6 1008.6 248.4 954.9 175.3 1033.8 107.3 1019.4 156.3 1005 134.5 981.9 141.1 947 273.0 1033.7 112.8 1032.5 103.7 979 228.5 949 208.0 1038.2 115.7 981.5 254.0 925.4 218.0 921 221.9 977.6 135.8 901 176.1 912.2 191.2 969.1 158.8 1049.6 120.8 988.3 197.1 1042.8 106.0 1007.1 232.2 1023.6 112.6 1020.3 175.3 931.2 195.8 1039.3 123.0 993.2 209.0"/>
<path class="k5" d="M1181.7 545.0 1192.9 501.2 1166.7 448.4 1071.5 338.5 1031 303.0 1174.8 462.5 1081.8 328.0 1179.9 513.9 1200.4 564.1 1150.5 483.3 1087.4 364.7 1199.8 472.7 1078.1 337.9 1317.1 423.8 1226.6 222.3 1223 536.6 1078.2 337.9 1223.7 581.1 1245.3 482.4 1107.5 372.3 1212.8 448.8 1212.6 506.5 1060 350.0 1247 650.0 1248.8 476.1 1223.7 220.2 1251 442.6 1241.1 492.6 1065.8 338.4 1273.5 423.1 1229.9 438.2 1238.5 437.5 1206.5 542.5 1198.8 501.2 1229.4 222.3 1256.2 475.7"/>
<path class="k6" d="M988.1 485.3 903.2 517.9 924.8 518.2 959.9 588.1 1063.7 623.1 908.2 535.3 1097.7 628.8 1136.1 643.0 961.6 587.7 1116.1 639.0 1001.2 626.6 1038.3 433.3 1011 649.8 894.8 536.8 888.4 587.4 1026.1 423.1 933.1 454.3 911.2 526.2 1180 652.0 1095.4 632.4 992.4 447.7 954.8 560.2 1123.6 637.0 905 572.9 894.5 602.5 1043.7 596.8 840 644.7 1164.6 601.2"/>
<path class="k7" d="M1031.2 794.4 1018.3 768.8 844.4 627.8 780.8 581.6 883.3 710.3 837.6 703.4 804.5 768.5 880.2 828.1 860.1 758.4 837.4 700.2 930.8 640.9 983.7 751.1 990.6 749.1 885.8 688.3 823.8 627.8 868.1 719.8 820 747.0 816.5 713.0 850.2 736.8 839 621.5 962 644.6 800.4 617.1 819.7 704.8 774.3 557.9"/>
<path class="k8" d="M936.8 475.1 1057.5 447.9 1069.8 486.8 1102.4 515.6 1017.9 548.2 961.1 385.9 1085.5 477.0 1106.7 491.1 1104.2 510.0 917.5 449.1 967.1 609.1 986.2 537.7 1079 584.3 907.7 527.2 987.8 554.8 913.3 565.7 852.6 631.0 961.6 305.9 1091.2 475.1 1086.1 491.5 1109.6 482.8 1061.9 480.0 982.5 506.6"/>
<path class="k9" d="M875 427.3 907.7 379.6 951.8 334.6 887 459.9 920.3 308.4 934.4 450.7 925.9 247.4 923.5 348.3 907.5 422.0 873.1 560.9 877.9 265.4 865.6 519.7 912.9 398.6 890.6 429.0 881 512.9 933.7 348.6 867.3 464.3 916.5 602.9 856.7 502.1 906.1 387.4 901.7 336.0 897.2 284.2"/>
<path class="k10" d="M1308 646.5 1340.9 674.7 1309.5 635.6 1410.1 574.5 1370.6 660.5 1413.3 558.6 1317.4 631.6 1366.7 595.7 1396.7 610.0 1398.6 590.7 1300.9 643.2 1292.3 634.1 1308.4 595.4 1360 658.6 1326.9 684.3 1281.6 623.9 1377 615.8 1288.5 585.9 1400.4 588.7 1280.7 657.6 1380.1 644.4 1386 585.1 1326.5 592.6 1363 529.2 1381.2 651.3 1418.4 555.2 1326.4 630.2 1256 661.9"/>
<path class="k11" d="M1343.9 523.6 1218.3 601.5 1410.6 483.6 1288.1 533.7 1260 570.9 1257.1 630.8 1264 605.0 1171.9 610.1 1244.7 568.5"/>
<path class="k12" d="M893.4 323.0 942.3 516.2 866.4 405.1 923 627.7 999 384.0 972.4 314.5 858.5 526.7 947.4 606.3 940.1 321.8 934.5 401.4 886 266.7 972.3 559.7 793.6 350.1 1010.2 441.4 1021.5 294.2 896.8 496.7 980.3 619.6 963.8 390.1 884 499.1 794.9 558.9"/>
<path class="k13" d="M1287.1 509.6 1304.3 432.2 1275.8 439.8 1320.1 460.5 1289.3 453.6 1283.7 526.4 1311.8 481.9 1298.5 480.3 1288.1 485.9"/>
<path class="k14" d="M1208.8 366.8 1249 334.1 1202.3 345.9 1206.7 331.1 1228.1 317.7 1234.6 328.6"/>
<path class="k15" d="M813.6 582.8 840.5 554.1 836.7 590.5 816 510.2"/>
<path class="k1" d="M1413.3 231.1 1328.9 368.1 1418.3 338.0 1386.9 328.8 1408.1 422.7 1454.2 271.2 1314.5 219.0 1323.5 256.5 1421.5 439.1 1344.7 399.1 1367.9 303.0 1392.3 241.5 1420.3 292.6 1376.4 216.9 1345.3 317.1 1429.4 391.4 1337.7 206.5 1379.8 199.2 1385.2 491.0 1443.6 311.6 1334.5 324.7 1379 396.9 1235.3 274.7 1418.8 242.9 1376.8 369.3 1448.4 359.7 1399.8 454.1 1265.1 552.3 1441.9 230.9 1397 197.5 1259.9 221.7 1366.8 344.3 1383.9 217.5 1453.1 260.2 1310.6 315.0 1384.1 450.8 1410.5 249.9 1367.6 227.5 1340.5 430.5 1426.2 275.6 1351.2 229.7 1364.2 292.2 1217.2 258.6 1358.5 279.3 1404.5 397.7 1429.4 250.9 1323.6 411.5 1439.4 316.5 1440.5 349.1 1417.1 361.0 1397.3 330.1 1332.3 221.3 1417.1 385.9 1444.4 275.9 1348.8 381.8 1356.5 233.5 1344.5 267.4 1401.5 266.3 1370.1 217.6 1378.2 502.8 1419.9 247.8 1293.6 369.8 1453.6 287.1 1308.9 339.0 1420.5 315.9 1450.9 299.1 1340.3 299.3 1357.5 255.8 1323.1 357.6 1437.3 356.0 1362.5 485.6 1320.3 343.1 1377.8 396.2"/>
<path class="k2" d="M805.5 347.1 846.4 234.1 798.3 374.7 840.4 335.3 865.9 311.9 844.3 329.2 789.3 292.1 892.9 362.3 791.4 415.3 836.7 244.1 778.3 389.4 884.9 294.8 795.4 383.8 826.6 406.5 772.8 313.1 794.6 284.9 846.9 336.6 832.2 422.7 778.6 292.4 826.7 373.7 818 387.7 805.5 374.5 844 287.0 819.5 258.5 880.1 264.4 822.3 418.4 800.6 347.4 846 372.6 866.9 373.6 791.6 356.3 858.9 247.0 907.2 319.3 834.7 326.2 869 365.9 802.5 343.1 805.2 275.9"/>
<path class="k3" d="M938.8 567.0 843.1 658.4 949.9 713.7 965.4 556.5 940.3 627.1 944.2 701.4 883.6 675.8 958.1 530.0 940.1 546.8 945.2 614.9 896.6 677.6 910.8 680.6 933.7 671.1 887.1 659.2 896 683.6 938.7 578.9 935 575.1 900.7 532.7 908.6 521.1 836.7 660.6 967.5 650.7 924.1 608.8 939.2 603.7 930.6 678.5 998.7 651.6 880.3 507.5 936.4 669.7"/>
<path class="k4" d="M975.4 234.5 905.8 252.5 917.3 220.7 1004 124.7 944.3 249.8 926.4 135.7 937.5 235.8 1013.2 168.9 962.5 158.3 1038 111.3 899.2 155.7 995.5 207.9 1040.2 99.7 985.4 236.6 1003.9 180.4 954.1 209.5 984.2 245.3 1004.6 187.9 959.5 220.1 998.2 135.8 982.6 154.6 981.3 168.9 1029.2 115.5 948.6 156.7 913.2 214.0 1005.1 131.2 943.7 148.0 1046.1 100.3 962.5 265.7 902.5 157.0 1057.3 108.6 1050.3 126.3 956.8 188.4 971.2 193.5"/>
<path class="k5" d="M1085.9 331.4 1159.4 539.1 1208.6 532.7 1255.4 476.9 1251.1 484.3 1250.6 517.0 1226.5 219.6 1072.4 336.2 1158.8 588.6 1153.5 521.7 1228.1 496.3 1203.8 479.8 1224.7 438.9 1247.5 441.8 1214.5 593.9 1282.8 165.9 1210.3 424.6 1227.9 563.0 1097.5 373.9 1211.8 414.8 1430 291.4 1205.9 543.0 1263.9 435.1 1168.6 493.7"/>
<path class="k6" d="M1031.7 606.4 1122.4 632.5 972.3 553.2 1115.5 629.6 894 616.1 1020.9 600.5 971.5 442.8 985.7 620.4 962.3 495.6 963.9 581.5 1003.3 551.0 1045.6 607.5 1119.3 585.2 931.4 483.1 1003.2 627.3 1000 533.9 837.5 487.1 1110.6 641.4 931.3 557.6 997.6 596.1 1031.1 599.9 1125 626.5 910.9 502.9"/>
<path class="k7" d="M752.5 576.3 846.3 631.2 992 732.8 1028.2 764.4 977.6 735.9 851.1 808.1 835.8 728.9 746.3 507.7 846.3 763.4 828 599.9 768.7 567.4 859 577.7 813.5 719.0 872 822.4 827.7 720.1 778.2 519.8 1024.7 787.6 767.9 555.2 988.4 757.4 850.4 798.0 912.6 733.2 765 573.1 1026 771.8 1021.3 792.2"/>
<path class="k8" d="M1086.7 504.6 1151.6 512.2 1019.1 532.4 1046.1 504.3 1078.1 545.9 979.8 502.3 1013.6 489.2 1065.1 404.2 889.7 544.7 914.4 330.9 984.5 392.1 867.8 595.1 1001.4 512.6 1002.5 496.9 1140.6 573.9 1015.7 547.9 1002.5 391.4 1073 544.2 835.3 552.5 1152 393.0 912.9 548.5 1045.7 476.8 1071.4 513.5 1047.4 517.7 1097.1 516.0 1000.1 540.3"/>
<path class="k9" d="M867.1 605.4 901.5 341.3 897.1 500.0 928.9 366.3 931.9 425.4 880.6 500.4 858 521.2 854.2 480.7 887.1 620.7 889.7 425.2 858.7 436.9 908.3 437.7 916.6 195.9 864.7 448.2 943.6 243.1 898.2 439.8 925 275.3 888.4 561.7 907 436.9 867 471.6 892 536.0 874.5 471.8 901.4 274.3 929.5 415.3 881.1 463.2 920.1 352.2 907.3 201.6 923.7 261.5 890.9 534.7 906.6 436.5 909.4 283.6"/>
<path class="k10" d="M1354.4 659.0 1405.8 566.8 1277 646.5 1297 640.5 1286.4 634.0 1334.4 629.9 1315.2 613.5 1346.9 609.4 1332.5 568.2 1280.8 646.6 1401.3 531.2 1327.5 637.1 1274.7 616.0 1359.2 660.2 1391.9 617.7 1419.5 586.8 1299 637.5"/>
<path class="k11" d="M1358.1 516.1 1312 559.5 1262.7 550.6 1247 638.8 1264.9 611.9 1239.9 562.0 1203.3 615.1 1197.5 649.5 1221.6 589.9 1237.3 643.0 1287.1 539.8 1283.8 578.4 1360.1 529.7 1370.5 489.7 1221.8 622.1"/>
<path class="k12" d="M974.9 419.0 966 531.9 867.3 441.9 885.2 394.1 1007.9 275.0 876.4 405.8 961.7 605.0 945 282.1 911 586.8 829.9 441.2 873.6 585.2 865.7 389.2 986.2 300.9 1001.2 361.4 971.9 362.3 1010 272.5"/>
<path class="k13" d="M1288.3 439.6 1304.9 433.1 1296.2 498.1 1294.9 437.0 1317 470.8 1308.2 455.6 1293.2 435.5 1292.3 428.5 1271.7 464.7 1267 320.5 1293 449.6"/>
<path class="k14" d="M1247.9 350.3 1206 349.7 1304 420.0 1191.6 362.2 1224.9 374.3 1212.5 355.2"/>
<path class="k15" d="M917.9 579.2 877.5 598.1 829 541.7 830.5 547.1"/>
<path class="k1" d="M1206.4 241.9 1407.9 416.1 1342.5 205.8 1333.8 420.3 1434.8 311.3 1325.4 222.6 1325.6 386.8 1320.7 439.4 1389.9 472.0 1457.3 294.3 1361.6 211.5 1390.2 364.0 1394.6 251.5 1343.4 472.2 1342.4 365.2 1286.4 347.9 1349.3 461.9 1302.4 316.1 1379.3 367.5 1405.7 360.5 1327.9 481.5 1352.1 338.4 1311.4 208.0 1353 371.4 1337.9 239.3 1438.2 388.6 1448.4 338.0 1333.8 330.8 1329.8 306.5 1380.6 370.7 1337.5 328.0 1420.8 206.2 1375.8 270.5 1413.7 322.6 1443.9 285.2 1282.2 192.4 1396 263.6 1269.7 203.1 1328.8 339.4 1419 282.5 1366.1 237.6 1418.3 246.5 1391.8 179.1 1415.1 229.0 1267.3 273.1 1413.6 402.0 1417.8 223.1 1360.6 305.0 1397.4 394.7 1388.1 223.6 1262.7 200.0 1296.5 348.0 1405.9 290.0 1409.4 376.7 1277.3 153.7 1267.6 200.6 1424.3 282.3 1394.1 503.3 1321 355.2 1319 344.5"/>
<path class="k2" d="M855.5 317.0 837.2 339.3 802.7 377.2 873.4 274.0 879.8 322.6 788 405.9 851.3 329.3 828.7 400.4 847.6 495.0 814.3 434.2 807.7 291.5 881.9 376.4 844.7 471.7 791.8 402.9 899.1 312.0 814.8 423.7 853.2 274.9 832.5 276.7 837.5 400.5 892.3 290.8 858.6 319.1 878.9 235.8 799.4 335.2 815.8 442.7 814.9 388.4 777.5 416.2 870.4 293.8 820.1 389.9 802.4 346.7 837.4 365.0 795.3 359.0 878.6 225.7 882 319.4 813 276.7 861.9 365.5 781.5 332.6 814.2 413.3 852.6 319.9 782.8 353.0 832.3 401.3 770.8 317.6 870.7 346.6 805 391.8 824.2 390.3 887.2 338.0"/>
<path class="k3" d="M951.5 571.6 888.5 667.8 959.5 663.4 954 539.4 928.7 594.4 869.5 663.7 875.5 662.2 936.2 718.1 964.8 610.9 880.4 486.5 985.5 676.8 951.3 568.3 939.2 546.2 908.2 651.5 896.7 661.2 906.5 677.1 946.6 659.2 884.8 669.5 857.3 496.0 875.8 666.0 876.4 651.5"/>
<path class="k4" d="M1016.2 122.9 959 146.8 917.9 190.5 938.1 209.0 1012.6 113.6 1039.2 106.6 1025.4 99.4 983.4 206.4 1042.4 119.8 1033.7 99.5 935.9 215.0 964.6 186.3 918.2 177.5 1000.6 190.9 958.7 171.4 1002.6 128.2 1015.8 133.3 932.4 228.3 1037.3 116.2 1016.5 172.9 1043.9 109.0 996 196.4 932.9 196.0 947.4 214.6 937.7 240.8 979.8 170.0 916.5 165.3 942.4 175.8 996.4 233.3 940.4 215.7 983.9 247.7 923.9 170.3 974.3 208.7 913.6 204.5 909.8 278.9 1026.1 103.4 919.1 201.2 902.1 184.6"/>
<path class="k5" d="M1219.7 543.5 1203.1 415.4 1260.3 432.7 1241.9 448.0 1192.1 511.0 1180.9 516.5 1208.2 387.9 1256.5 435.0 1145.6 439.3 1157 454.8 1228.7 226.7 1198.5 546.0 1203.2 451.0 1183.8 432.5 1198.4 510.5 1230.4 436.3 1212.6 478.5 1222.4 512.0 1242.1 459.3 1182.9 505.9 1266.8 475.0 1202.4 473.7 1230.4 493.9 1250.8 299.9 1216.1 501.8 1258.3 460.7 1237.3 519.8 1073.4 345.0"/>
<path class="k6" d="M980.3 551.1 1121.1 648.0 1036.4 632.2 1154.8 639.4 1023.5 627.5 990.7 439.9 1104 620.5 974.8 469.8 989.1 627.6 1147 642.2 1144.4 603.6 1144.8 648.9 944.6 533.9 962.2 507.1 981.4 620.6 994.2 614.9 965.2 473.5 988.1 625.3 839.1 538.3 994.4 444.8"/>
<path class="k7" d="M744.7 558.0 1028.3 787.1 899.1 756.2 861.3 759.8 920 740.8 906.8 719.2 854.6 737.5 896.4 739.0 836.1 713.4 856.4 738.0 758 527.8 823.9 733.8 838.7 604.7 849.7 814.8 853.9 806.7 759.4 502.2 738.7 526.5 944.6 734.3 827.4 772.6 1017.2 791.9 874.5 733.0"/>
<path class="k8" d="M1075.1 529.3 979.3 326.7 1046.5 375.7 998.2 402.8 1168.3 521.5 1071.8 540.7 1063.7 502.5 976.1 509.2 1023.4 367.6 994.6 531.2 926.7 482.6 821.4 528.2 1174.3 485.0 1031.3 510.1 1015.4 560.7 1098 512.4 837 569.0 937.8 484.5 1002.4 507.7 1054.8 472.5 918.4 402.9 1046.8 481.9 1003.9 495.2"/>
<path class="k9" d="M926.7 519.5 919 353.8 897 436.4 899.6 485.2 933.4 219.5 875.5 406.4 948.5 306.1 917.5 398.8 888.8 274.7 939.6 422.6 949.1 542.1 927 373.1 852.8 492.6 906.8 383.7 885.1 383.3 920.8 439.4 938.9 272.6 871.5 461.8 915.5 266.2 899.6 238.6 873.9 491.5 895.1 412.1 893.3 185.6 939.9 330.5 891 250.8 885.5 267.2 889 440.8"/>
<path class="k10" d="M1434.3 551.0 1321.1 585.7 1383.1 615.3 1310.1 641.1 1289.2 612.8 1388.1 580.0 1371.7 621.6 1367.2 601.4 1446.7 544.8 1431.2 549.4 1386 613.3 1160 387.0 1270.7 648.6 1421.2 575.1 1321.3 621.4 1302.4 607.7 1393.5 605.1 1361.9 612.1 1380.7 638.6"/>
<path class="k11" d="M1231.3 626.2 1267.6 582.9 1246.9 622.0 1182.3 628.7 1429.6 387.0 1246.2 565.7 1283.3 602.7 1195.3 586.5 1272.3 559.6 1339.9 346.0 1237.5 600.1 1255 615.3"/>
<path class="k12" d="M852.5 502.1 1154 440.0 945.4 542.0 805.9 517.9 960 281.9 987 260.6 997.9 410.8 902.7 360.1 920.4 341.2 777.3 500.2 992.2 339.4 842.1 438.1 845.5 475.9 884.4 500.6 927.4 501.7 939.8 621.2 1030.1 378.1"/>
<path class="k13" d="M1303.3 504.5 1292.4 522.9 1277.2 497.7 1279.2 489.0 1296.4 479.0 1274.7 486.2 1263.7 494.5 1281.3 449.5 1309 462.0 1312.5 441.6 1299.3 501.2 1295.3 481.4 1372 532.0 1314.3 490.9 1292.7 473.1 1297.4 480.7 1273.6 456.0 1299 485.8 1307.6 508.6"/>
<path class="k14" d="M1262 390.0 1243.3 334.4 1220.2 374.2 1225 359.0 1234.7 341.5 1234 319.1 1216.9 352.5 1231.9 331.4"/>
<path class="k15" d="M846 209.0 841.6 586.1 821.9 546.6 858 560.2 826.2 542.7 820.8 557.7 818 496.1 784.1 494.1 786.6 494.9"/>
<path class="k1" d="M1332.4 272.3 1313.4 354.1 1425.9 388.4 1392.7 417.3 1360.9 417.2 1406.2 321.1 1361 383.1 1455.5 286.8 1414.7 275.5 1280.5 255.0 1357.9 165.7 1442.1 270.4 1384.9 447.2 1379.4 243.6 1392.2 339.0 1407.8 279.0 1369.5 463.9 1389.2 505.3 1375.4 340.3 1378.4 294.3 1396.8 307.4 1325.4 285.2 1448.8 285.0 1354 203.7 1411.9 227.2 1285.1 215.0 1442.7 270.4 1314.7 310.4 1447 323.0 1355.3 368.0 1378.2 357.9 1460.4 296.4 1369.3 251.3 1405.8 312.3 1357.5 450.5 1414.9 206.8 1409.5 334.4 1375.2 344.1 1264.7 201.0 1321.5 368.8 1413.1 299.4 1355.5 177.0 1276.6 224.1 1333.9 321.4 1389 419.2 1380.1 216.7 1311.8 376.3 1378.9 196.5 1312 399.2 1303.9 242.3 1405.6 479.7 1406.3 388.0 1472.2 278.1 1386.5 371.2 1339.8 273.6 1392.2 371.8 1386.5 486.7 1364.7 400.5 1386.4 222.9 1315.6 240.2 1369 392.6 1321.7 281.6 1407.9 204.2 1351.2 372.6 1367.6 453.8 1384.9 464.3 1365.3 238.4 1250.8 149.3 1237 202.6 1354.8 254.5 1445.7 343.6 1362.6 228.5 1289.4 338.5 1330.5 361.6 1395.6 456.8 1374.1 273.1 1394.8 308.3 1333.8 241.7 1424.1 292.4 1409.4 438.7"/>
<path class="k2" d="M886.8 266.3 875.5 319.2 833.8 263.3 831.5 256.0 829.6 364.3 863.3 326.9 834.6 346.7 799.1 287.6 833 307.6 838.8 369.9 837.9 361.0 822 341.4 794.5 293.1 867.7 233.6 884.9 348.9 769.2 457.3 876.6 322.9 809.9 414.8 779.8 306.4 835.1 293.2 791.1 433.6 818.6 390.5 789.5 366.9 882.2 296.8 795 444.5 831.4 260.3 811.7 284.4 834.5 339.6 802.1 411.1 850.4 357.3 854.7 328.7 824.7 298.7 816 357.5 821.4 402.1 839.4 273.1"/>
<path class="k3" d="M910 657.5 977.4 581.8 866.2 665.5 953.2 644.8 886.1 511.1 924.9 681.0 969.8 730.1 879.3 666.0 965.1 711.4 888.6 663.1 873.6 665.2 986.7 543.9 939.3 694.4 877.9 498.9 834 660.4 915.9 642.2 951.2 706.7 958.2 690.2 880.8 664.1 944.6 682.0 937 509.7"/>
<path class="k4" d="M892 232.1 897.5 188.1 1034 107.1 933.8 191.7 979.4 185.8 896.3 217.3 976 262.3 941.5 219.9 1042.5 104.7 1006.6 155.6 1040.9 116.2 932.7 239.3 973.5 220.9 1026.5 146.4 916.3 218.9 1007.1 236.0 1035.8 106.9 950 173.7 1037.6 109.5 1037.4 105.8 915.9 157.2 1003.4 157.4 1045 109.7 953.9 208.7 962.1 211.8 997.4 178.2 989.7 188.6 1042.6 131.6 1021 242.0 995.4 230.9 942.3 194.0 972.2 218.5 1034.9 118.6"/>
<path class="k5" d="M1199.5 502.4 1083.4 346.5 1226.3 419.3 1240.2 489.4 1161.4 480.8 1178.3 535.1 1080.9 346.8 1277 539.8 1249.7 502.1 1232.5 410.2 1194.7 509.7 1075.5 346.6 1178.8 518.1 1282.4 224.4 1215.7 454.1 1231.1 471.9 1167.9 492.9 1183.9 459.8 1239.6 224.2 1208.9 564.8 1265.8 228.5 1345 240.0 1214.3 429.0 1076.7 346.7 1213.4 539.8 1097.5 544.2 1210.2 389.3"/>
<path class="k6" d="M1011.2 618.8 918.2 498.6 1154.4 658.0 1026.3 678.1 1066.8 607.9 990.4 589.2 1153 599.7 1048.8 600.4 1002.9 439.8 1071.8 624.3 1044.4 615.4 889.4 447.3 1115.8 577.1 1039.8 601.8 1153.5 597.9 1007.6 686.4 1025.2 613.0 1063.3 593.9 999.2 444.3 954 476.6 1128.1 650.7 903.9 495.2 947 482.8 996.6 586.4 901.8 532.0 914.2 605.5 1083.6 629.1 1038.4 595.7 855.1 583.9"/>
<path class="k7" d="M827.7 730.5 1022.5 707.3 859.8 602.1 989 752.1 875.8 700.6 878.6 835.2 737.5 551.9 790.1 588.6 947.8 749.4 830.7 599.8 986 743.0 1030.2 764.3 952.6 738.7 891.4 751.6 736.3 522.7 845.4 632.5 809.1 754.0 854.5 739.1 833.8 693.2 1002 733.8 833.7 781.8 871.2 832.9 829.5 728.3 852.3 616.7 807.2 604.2"/>
<path class="k8" d="M1056 549.2 1110 474.7 954.5 452.0 1021.5 528.4 993.2 524.0 912 534.9 999.8 524.4 1057 494.2 845 616.9 996.8 505.6 1085.9 537.3 999.3 516.5 968.1 560.3 1054.4 527.6 1069.3 368.9 999.5 523.5 999.8 536.9 944.1 535.5 946.8 403.5 949.4 569.7 922.3 629.5 977.8 355.1 1152 592.3 1000.8 518.0 905.3 575.0"/>
<path class="k9" d="M864.7 505.6 868.7 448.5 923.1 451.8 903.6 309.2 913.9 202.1 915.1 288.3 898 522.3 866.5 515.4 919.2 566.0 902.6 440.1 893.2 417.4 862.7 555.2 902.7 466.4 898.6 317.0 911.6 559.3 931.8 544.3 916.8 356.2 934.8 230.2"/>
<path class="k10" d="M1291.5 606.2 1399.4 589.3 1425.9 542.5 1353 627.0 1396.2 584.7 1435.3 553.2 1302.3 646.3 1309.1 628.8 1362 663.8 1235 660.0 1337.5 666.0 1351.1 615.0 1302.9 636.9 1271 649.7 1377.9 645.7 1283.5 641.8 1377.1 646.8 1400 607.0 1401.9 570.3"/>
<path class="k11" d="M1253.2 618.1 1237 573.5 1377.6 496.6 1234.6 573.3 1219.3 584.2 1244.1 614.0 1329.7 534.9 1233 609.9 1272.5 587.5 1255 594.5 1387.4 502.1 1287 535.0 1236.9 560.1 1271.6 600.4 1263 628.0 1231.1 626.6 1410.8 523.9"/>
<path class="k12" d="M891.7 440.6 916.7 507.9 893.3 396.7 853.2 449.5 834.8 450.9 855.5 443.2 842.7 472.5 876.8 393.6 885.1 346.5 903.8 301.7 1009.7 310.5 918.1 352.8 878.5 535.9 949.4 272.4 1006.4 407.8"/>
<path class="k13" d="M1269.4 479.2 1269.3 455.5 1258.5 467.9 1281.7 416.3 1309 468.1 1294.1 445.1 1273.4 521.0 1315.6 486.3 1288.5 466.1 1304.3 465.3 1282.5 509.4 1280.8 461.3"/>
<path class="k14" d="M1205.5 330.3 1199.2 372.2 1230.1 339.8 1231.7 342.5 1218 374.5 1198 361.1 1238.2 342.3"/>
<path class="k15" d="M822.5 493.4 877.1 558.8 821.3 545.0 821.5 556.5"/>
<path class="k1" d="M1352 489.0 1418.1 398.4 1391 318.1 1411.9 350.6 1402.1 397.1 1319.4 257.3 1404.5 284.7 1342.8 365.9 1363.6 467.1 1394.5 340.6 1405.2 291.2 1372.9 238.9 1233.6 271.6 1349.7 249.5 1392.6 349.4 1353.5 171.8 1398.9 478.5 1335.3 407.7 1298.3 350.3 1381.2 404.8 1400.9 225.7 1457.1 327.0 1373 297.0 1356.6 377.1 1272 221.5 1399.2 480.2 1247.4 193.0 1455.9 265.1 1449.8 268.3 1214.1 247.3 1337.3 208.5 1313.2 354.3 1315.1 211.6 1292.4 296.3 1423.1 214.8 1384.6 388.6 1440.3 291.7 1315.1 250.2 1407.4 211.2 1364 250.7 1343.1 306.2 1339.7 359.8 1377.6 183.3 1351.1 276.9 1417.4 340.1 1419.8 263.1 1388.5 482.2 1274.3 349.4 1429.7 387.2 1372.2 384.0 1362.3 245.0 1259.3 164.6 1327.5 330.0 1336.1 232.7 1398 428.7 1245.9 198.0 1350.5 201.9 1300.3 212.0 1295.6 367.3 1295.3 306.5 1428.4 236.6 1417.6 244.4 1278 173.9 1324.5 245.8 1457.5 295.5 1313.2 314.3"/>
<path class="k2" d="M817.4 255.7 797.6 366.9 884.7 446.4 863.6 296.2 794.2 436.5 812.8 271.5 822 400.0 806.6 358.0 846.5 301.0 883.1 333.8 866 252.8 812.1 417.0 834 410.0 861 240.2 867.5 304.8 849.2 407.1 813 372.7 837.9 285.4 775 322.1 812.5 286.8 860.9 350.6 855.1 297.1 816.1 418.0 855.2 374.5 828.3 344.5 826.7 374.5 880.3 440.4 815.9 388.5 868.6 333.2 889.2 252.9 798.8 371.3 855.6 376.2 830.5 379.9 816.6 413.0 833.8 402.7"/>
<path class="k3" d="M954 619.7 936.5 547.6 960.8 552.5 898.9 684.5 922.1 630.4 962.2 557.1 911.5 655.1 953.3 671.1 905.5 681.9 943.3 682.9 938.6 718.8 905.8 683.9 907.6 674.8 914.2 720.7 895.8 662.2 874 665.7 943 679.6 937 552.7 968.7 674.7 882.9 671.1 875.3 499.2 976.1 682.6 926.4 539.2"/>
<path class="k4" d="M1033.3 94.7 1039.4 122.6 1037 148.2 935.3 164.0 1040 104.7 984.2 224.2 973.5 213.7 970.4 250.7 981.4 204.6 924.5 274.8 961.8 158.6 951.4 222.1 998.2 232.0 946.3 258.6 923.3 243.6 1049.9 115.4 950.2 252.6 902 241.0 912.5 185.6 1030.8 187.2 966.5 168.6 910 233.1 877.8 181.3 990.3 232.5 947.4 194.8 872 206.7 976.1 149.9 1032.6 109.8 981.7 249.4 1021.7 109.0 998.5 213.7 1036 97.0 944.5 191.2"/>
<path class="k5" d="M1202.6 394.2 1225.1 429.2 1222.1 448.0 1273.3 435.1 1216.2 467.3 1200.2 510.3 1074 330.0 1168.5 525.4 1235.2 518.7 1227.5 475.6 1273.7 169.4 1201.3 483.8 1327.3 485.9 1144.7 498.1 1195.6 520.8 1282.3 196.1 1253.4 421.4 1210.9 396.2 870 330.0 1066.4 341.1 1141.4 496.5 1245 440.6 1074.4 348.2 1078.4 357.0 1219.7 226.2 1143 476.3 1233.8 512.1 1186 473.3 1225.7 225.3 1189.9 493.1 1072.7 345.7 1130.4 448.5 1249.1 446.9 1218 560.4 1227.5 465.4 1302.8 424.6"/>
<path class="k6" d="M1092.9 622.9 856 473.7 904.3 463.2 1153.9 652.9 1142.8 633.9 1107.7 626.6 1152.3 639.9 1037.8 590.7 892 531.2 1005.6 661.2 1050.2 604.4 943.1 586.5 990.7 487.0 1169.9 614.6 1029.9 419.1 915.7 596.4 1041.1 429.0 999.8 556.5 1042 595.2 1118.2 632.2 994.1 610.3 1065.7 632.0 874.3 538.5 1138.2 639.8 956.8 560.5 1153 397.0 1125.7 627.7 1039.9 619.5 1098.9 605.7 880.8 453.2 1019.5 615.2 1104.6 632.7 1088.5 626.0 928.4 455.2 1114.2 628.2"/>
<path class="k7" d="M768.4 542.0 998.9 737.4 986.6 760.0 951.2 743.4 1023.2 786.8 834.5 702.3 866.6 688.8 898.8 740.8 738 547.0 884.8 825.7 994.1 751.5 901.9 607.6 797.4 585.1 931.2 616.6 774.4 586.4 850.1 723.1 1029.8 789.0"/>
<path class="k8" d="M933 647.7 1017.9 520.0 983.5 556.3 1007.8 461.4 1057.6 305.8 1071.5 545.8 1009.1 519.1 1091.3 583.1 910.1 370.9 1047.7 406.9 915.9 356.9 961 422.7 898.8 398.6 983.9 331.4 968.8 428.3 1052.4 561.1 1025.3 323.4 1019.2 557.1 1041.5 550.7 940.4 459.4"/>
<path class="k9" d="M946.5 578.7 872.1 485.6 937.9 558.1 841.6 487.0 898.3 427.1 881.5 470.9 914.4 311.4 874.2 432.2 900.4 449.9 901.6 420.2 882.3 464.2 930 349.3 922.9 494.6 886.5 417.6 924.1 391.2 945.6 346.6 944.1 392.0 866.6 491.1 919.2 424.3 922.3 520.7 876.6 427.8 891.5 298.6"/>
<path class="k10" d="M1280.7 596.9 1340.4 614.2 1281.1 633.0 1318 604.5 1295.7 589.8 1287.3 628.3 1408.7 588.0 1355.3 665.2 1291.3 597.8 1352.2 622.1 1356.7 658.8 1349 672.0 1351.2 615.9 1394.9 616.4 1378.6 573.3 1353 614.7 1304.6 630.6 1412.6 578.7"/>
<path class="k11" d="M1216.6 639.7 1242.1 608.7 1195.1 607.9 1462 300.3 1268.5 554.3 1269.2 612.3 1230.2 640.0 1264.8 567.6 1277.5 577.3 1226.7 561.5 1242.8 624.7 1203.6 624.6 1332 644.0 1356.3 508.7 1209.5 588.5 1250.1 577.5 1200.9 646.8 1219.7 608.5 1165 370.0"/>
<path class="k12" d="M851.7 439.6 977.7 524.2 871 450.5 918.8 315.0 886.1 579.3 976.9 331.7 890.4 595.7 783.1 321.7 1010 322.4 991.7 416.2 969 313.2 994.8 389.5 945.4 319.8 918.3 457.6 1030.1 413.0 939.7 394.6 868.6 374.6 970.9 542.9 1011 295.2 939.5 464.6 784.7 531.3 969.4 268.2 856.7 253.6"/>
<path class="k13" d="M1262.7 470.6 1287.4 498.0 1264.9 452.8 1269.1 446.1 1283.9 519.9 1294.6 478.3 1279.9 436.6 1302.8 471.2 1283.8 518.9"/>
<path class="k14" d="M1280 313.0 1249.1 335.8 1217.6 365.1 1217 316.0 1232.6 335.5 1243.4 328.4 1223.3 321.1 1203.6 360.0"/>
<path class="k15" d="M840.6 592.2 865.1 556.2 764.5 464.8"/>
<path class="k1" d="M1291.9 285.7 1330.1 391.3 1284.6 157.2 1297.6 190.9 1407.5 365.8 1340.5 215.1 1466.6 304.3 1402 424.0 1405 245.9 1424.7 252.2 1413 487.2 1379.9 316.2 1299 309.8 1457.7 287.7 1368.6 285.4 1453.7 275.2 1406 258.6 1332.9 212.6 1390.4 405.0 1298.5 200.3 1336.6 322.0 1456.4 304.9 1361.4 301.6 1357.2 258.8 1241.4 272.8 1390 323.6 1381.8 388.1 1302.8 334.8 1302.3 157.5 1293.5 231.6 1386.5 344.7 1427.2 237.4 1377.3 303.7 1313.8 259.1 1266.9 234.7 1360.4 346.4 1300.4 233.9 1419.6 353.8 1336 329.7 1265.6 469.2 1256.4 433.9 1331.7 285.4 1316.7 384.9 1279.3 226.0 1308.5 408.5 1379.3 306.0 1355.6 305.0 1314 301.2 1434 385.1 1411.6 228.4 1306.2 320.4 1330.1 298.7 1406.7 269.3 1416.5 392.7 1414.5 239.9 1373.9 348.5 1308.1 341.6 1400.6 362.9 1348.7 226.9 1340.7 221.5 1381.7 496.2 1443.8 289.8 1356.1 232.4 1384.5 246.6 1373.1 428.6 1360.8 324.0 1394.7 415.6"/>
<path class="k2" d="M775.4 391.9 786.2 285.8 830.7 298.8 836.2 390.7 808.8 286.3 838.2 360.7 882.3 288.4 838.6 396.9 840 333.4 815.7 286.4 863.3 318.8 799.8 288.7 786 319.2 825.5 388.5 876.4 321.9 801.3 395.1 780.3 293.9 817.5 260.4 839.9 371.0 786.2 379.3 860.9 355.4 877.6 385.2 842.2 391.5 891.1 392.2 812.6 341.8 778.9 304.4 862.3 248.0 871.7 315.9 791.9 290.2 819 246.3 817.2 312.5 847.5 358.5 877 317.7 862.4 306.3 828.1 323.1 867.9 317.7 886.4 277.2"/>
<path class="k3" d="M933.5 591.4 898 671.9 887.5 668.7 931.2 691.4 968.3 616.4 924.2 619.5 967.2 641.3 979.8 684.3 959.6 544.6 877 669.4 885 666.6 963.9 606.6 863.7 659.4 928.7 700.8 875.6 660.3 967.9 623.4 847.2 658.0 958.5 691.0 946.3 669.6 962.9 546.3 920.2 698.1 982.5 622.9 897 466.3 899.5 484.3 879.5 667.5"/>
<path class="k4" d="M1033 118.8 987.5 194.6 1028 118.5 958.3 227.0 986.9 241.6 1034.4 146.3 939 177.1 970.4 152.3 990.4 135.4 1018.5 137.5 872 191.1 1022.6 103.5 1036.3 141.3 1042.9 106.8 930.7 268.9 1024.9 111.9 910.5 199.1 869 248.0 1048 109.8 947.5 222.3 1026.1 119.1 929.2 228.2 913.5 277.8 967.4 196.0 939.1 161.5 1038.4 116.5 919.4 151.3 989.9 233.0 906.7 203.1 1049.4 112.9 1005 298.0 1023.9 121.8 965 245.8 1021.1 160.6"/>
<path class="k5" d="M1230.8 407.2 1226.1 451.7 1295.5 446.5 1073.2 347.4 1076.1 334.5 1149.5 433.1 1207.7 460.9 1250.9 475.5 1198.1 405.5 1223.2 447.8 1222.6 539.4 1195.2 524.1 1093.9 373.3 1271.5 384.9 1175.9 560.8 1074.9 334.6 1268.7 540.1 1256.8 253.4 1225 509.3 1377.2 439.9 1325.2 412.8 1215.1 399.2 1227.1 223.5 1133.8 494.2 1397 178.0 1117.3 477.7 1068.7 344.9 1270.6 192.4 1230.2 236.3 1220.5 393.2 1206.8 483.0"/>
<path class="k6" d="M899.8 507.6 891 474.1 982.5 470.2 1006.2 605.0 1037.4 639.1 1108 587.9 891.3 547.5 1015.2 442.4 900.1 532.2 1044.3 642.6 925.8 493.8 983.2 442.5 1134 634.3 856.4 577.7 974.1 594.9 1010.1 620.6 914.7 585.9 1094.7 629.7 967.7 485.9 1033 610.2 1151.6 636.2 1091.8 623.1 1010.9 646.5 1159.4 640.0 992.9 635.8 994 587.2 987 586.8 1056.9 608.1 1154.5 643.8 1170 597.9"/>
<path class="k7" d="M1026.9 785.7 983.6 759.3 1032.5 708.2 774 555.7 964.5 759.1 873.9 750.4 847.9 735.5 924.3 735.7 758 498.3 766.2 524.2 877.2 830.0 875 830.4 841.2 721.0 822.9 745.9 852.3 805.3 1038.9 707.8 822.1 726.3 1024.9 793.5 809.3 597.2 868 751.6 876.1 728.4 820 741.7 839.6 793.4 925.7 623.0 1025 768.1 815.3 716.4"/>
<path class="k8" d="M1090 516.4 1019.1 522.1 1059.4 396.1 1061 509.0 1088.1 492.9 1004 558.3 1108.6 524.3 1001.9 509.1 996 491.1 942.2 318.2 1044.1 531.8 1141.9 603.0 1106.8 493.4 1075.8 498.1 1061.8 517.7 1018.8 498.3 1093.4 511.8 1096.5 515.2"/>
<path class="k9" d="M905.8 516.8 907.7 354.7 886.5 196.9 926.6 290.1 900.1 436.3 939.5 221.7 922.3 430.8 873.4 472.1 879.2 517.0 884.4 492.9 940.6 329.9 947.9 450.4 938.9 373.5 903.1 447.6 948.5 435.1 924.5 519.5 914.6 482.3 878 445.9 871.3 486.0 915.8 314.9 931.7 374.7"/>
<path class="k10" d="M1430.7 549.5 1414.3 569.8 1323.6 641.1 1430.7 552.7 1375.5 581.5 1335.1 624.4 1340.8 672.9 1359.7 665.0 1362.7 651.4 1405 545.0 1289.5 623.9 1273.2 653.3 1266.6 661.4 1296.1 598.1 1387.3 601.8 1296.3 608.4 1328.5 627.5 1377 613.8 1302.7 614.7 1392.1 587.8 1341.2 610.9 1369.3 602.5 1362.8 613.0"/>
<path class="k11" d="M1209.9 580.2 1244.4 557.4 1239.7 621.6 1325.9 494.0 1251.6 626.0 1371.5 509.5 1277.8 569.8 1305 532.2 1277.8 551.9 1243.7 602.8 1253.9 590.4 1322.6 521.5 1285.3 572.5 1207.8 633.2 1245.4 601.6 1244.3 613.0 1233.2 634.9 1252.6 584.0 1285 541.0"/>
<path class="k12" d="M883.6 282.2 984.3 566.2 1027.1 452.0 858.9 507.4 902 274.7 924.3 273.9 866.5 482.7 950.5 347.9 965.7 322.0 937 338.7 989.8 585.9 921.1 531.7 939.5 314.5"/>
<path class="k13" d="M1241.8 338.1 1276.3 468.5 1288.3 492.0 1283.6 534.1 1301.1 411.0 1412.1 457.5 1280.9 440.1 1272.2 466.0"/>
<path class="k14" d="M1204.3 354.4 1243.7 339.1 1277 305.0 1232.4 347.7 1296 306.0 1203.7 368.7 1244 352.6"/>
<path class="k15" d="M836 589.0 779.1 481.3 873.1 553.1 884.5 335.5 822.4 548.0 824.5 552.5 846.7 549.7 832.6 565.8 816 476.0"/>
<path class="k1" d="M1403.8 293.5 1456.5 337.6 1345.1 263.2 1431.6 325.6 1377.9 413.8 1387.4 235.8 1342.2 417.4 1378.2 266.4 1435.5 335.9 1394 320.2 1397.1 410.6 1367.2 234.5 1286 335.0 1372.8 492.4 1383.3 218.6 1390.7 498.6 1320.1 251.6 1320.3 355.8 1392.2 299.4 1397.1 474.1 1315.3 284.4 1242.8 168.6 1334.4 389.5 1321.7 239.0 1320.1 242.6 1257.9 452.7 1338.3 418.0 1434.8 322.9 1410.2 361.4 1049 444.0 1329.5 280.5 1376.1 354.3 1252.6 536.7 1365.9 391.9 1385.8 173.7 1395.6 367.1 1372.5 234.4 1265.1 197.1 1372.3 357.7 1303.3 257.8 1375.2 259.8 1407 261.2 1405.6 225.8 1419 429.6 1338.2 284.4 1329.7 233.9 1381.6 401.9 1324.1 254.8 1275.9 165.0 1332.7 387.0 1389.2 301.3 1351.3 300.2 1428.4 244.8 1323 243.4 1354 399.6 1311.8 431.8 1252.4 166.1 1396.1 423.5 1328.6 328.7 1416.5 215.4 1369.3 488.0 1382.1 326.8 1434.9 217.4 1230.7 267.4 1435.9 254.0 1327.5 478.7 1374.6 220.5 1416.7 199.0 1394.8 422.7 1379.3 273.8 1370.5 303.2 1204.2 240.4 1333.4 187.9 1444.2 313.2"/>
<path class="k2" d="M850.6 221.6 800.7 298.1 870.8 440.1 860.5 405.4 792.2 330.3 895.3 315.3 899.3 388.7 787.8 403.8 864.2 311.1 851.1 395.4 907.7 306.0 898.5 447.5 860.1 304.2 837.5 348.6 804 432.1 828 255.8 876.2 320.8 828 307.1 835.8 337.8 851 260.1 788.6 411.3 790.5 358.8 783 286.4 855.6 371.7 892.3 279.0 813.2 381.4 829.3 293.3 791.5 370.7 824.7 329.3"/>
<path class="k3" d="M947.2 679.0 973.3 663.4 965 716.9 900.3 516.5 937.7 633.9 908.6 673.6 970.9 720.2 988.3 676.0 975.8 659.4 966.1 547.0 928.3 674.1 860.8 654.1 852.9 666.9 926.5 702.0 942.2 672.0 1000.9 742.2 972.3 586.7 917.9 555.7 929.6 697.6 853.5 494.3 905.2 649.9 954.7 702.3 892.1 668.1 970 609.9 931.3 660.7 941.4 570.6 875.6 663.7 853.1 504.6 937.2 690.8 907.5 679.4 926 641.1 831.5 662.5 1006.2 657.3 973.1 665.3 945.2 726.1 864.4 659.1 857.9 669.1 942.5 715.7 949.5 706.3"/>
<path class="k4" d="M899.5 174.1 951.8 266.1 1037.4 113.3 1012 120.3 934.7 158.0 919.9 171.9 1031.9 131.2 996.4 133.1 988.2 198.4 1048 104.3 989.2 186.1 905.9 185.1 964.5 141.3 970.8 246.9 977.9 141.6 941.5 284.7 1043.7 104.9 944.2 229.4 938.2 245.9 998.4 147.0 1002.8 256.8 1014.3 159.0 966 162.4 939.2 156.8 1053.1 102.0 942.9 208.2 915.6 159.1 969.6 195.3 959.6 225.4"/>
<path class="k5" d="M1139.1 481.9 1307.6 534.9 1328.1 468.2 1194.2 422.6 1223.9 558.0 1119.9 459.5 1161.2 483.6 1191.1 511.2 1079 339.7 1330.3 439.5 1091.7 367.7 1270.1 267.5 1236.8 516.0 1155.4 440.0 1123.2 467.8 1277.9 263.6 1227.2 541.2 1071 335.7 1239.6 428.0 1166.9 494.7 1195.8 498.6 1194.6 471.9 1214.4 404.5 1147.5 514.5 1151.1 489.7 1311.4 473.5 1243.1 476.9 1221.4 545.4 1160.3 509.7 1217.2 396.6 1197.9 587.0 1226.4 504.3"/>
<path class="k6" d="M998.9 608.6 955.5 512.0 1142.7 587.1 942.2 505.5 1103.6 627.4 1034.4 608.3 1105.9 620.8 917.8 592.3 1135.4 640.1 965.5 499.9 1017.4 595.3 975.8 493.1 934.2 450.0 1156.3 650.9 1089.5 627.7 893.9 516.8 935.3 453.8 1109.8 642.3 1038.3 615.5 988.2 517.8 1096.2 632.2 995.4 619.5 1017.5 552.9 1004.7 582.5 1143.7 630.5 1038.3 591.9"/>
<path class="k7" d="M869.7 830.4 865.1 692.9 867.9 726.4 878.7 833.7 852.6 799.0 1024.9 779.6 821.5 717.7 813 755.2 900.5 743.4 878.4 701.3 875 838.1 938.5 634.3 1032.9 702.0 986.6 759.0 785.9 555.2 868.5 623.2 1026.9 787.5 852.1 812.7 762.5 542.2 809.3 715.2 868.3 824.4 824.4 685.1 849 623.1 990.2 732.4 823.3 751.0 878.7 826.9 937.7 740.3"/>
<path class="k8" d="M1055.8 486.7 962.5 599.5 860.4 581.9 1047.6 526.1 984.8 515.4 923.7 402.1 978.9 523.6 1042 529.8 1099.6 513.9 1033.7 538.8 1104.2 477.7 931.6 650.9 1044.8 496.6 1039.8 509.4 958.6 403.4 1058 368.0 1084.9 482.3 1004.5 505.3 1009.7 376.7 1082 394.0 1026.4 545.7 958 574.1 1060.9 522.6"/>
<path class="k9" d="M923.3 299.1 864.8 454.1 907.9 348.5 925.5 352.6 872.2 424.0 841.4 505.6 909.4 430.5 925.5 372.7 952.2 350.5 944.2 240.8 889.3 248.2 957.4 284.8 903.4 424.7 921.8 493.9 883 231.9 926.6 642.4 947.7 220.6 909.7 338.2 868.9 525.0 945.1 336.6 892.9 471.9"/>
<path class="k10" d="M1375.1 619.6 1410.6 577.3 1312.5 608.5 1415.4 559.9 1347.1 610.0 1416.2 572.1 1297.8 631.8 1379.3 634.6 1362.5 660.0 1380.7 617.2 1279.9 647.6 1412.9 560.4 1312.5 641.4 1428.2 572.4 1346.4 598.7 1318 601.7 1355.3 615.0 1297.8 586.8 1269.4 663.2 1420.8 564.2 1287.2 619.0 1401.4 587.9"/>
<path class="k11" d="M1350 503.0 1262.8 601.3 1265.3 554.8 1332.7 565.2 1195.9 585.9 1217.8 567.0"/>
<path class="k12" d="M814.1 504.0 1009.5 420.7 994.9 448.0 825 242.3 914.9 344.6 944.9 312.3 1301.4 320.3 965.6 553.7 962.4 361.6 1347.2 214.9 834.8 559.0 964.9 286.1 949.4 437.9 881 364.5 959.4 431.4 972.7 333.3 982.5 306.7 826.6 295.3"/>
<path class="k13" d="M1286.2 470.8 1267.5 436.5 1295.3 464.9 1417.9 409.8 1306.4 458.6 1292.4 487.9 1287.2 489.4 1304 430.6 1306.7 434.4 1265.4 499.9 1279 528.8"/>
<path class="k14" d="M1230.8 341.2 1242.7 336.9 1246.7 321.0 1207.7 373.6"/>
<path class="k15" d="M819.6 568.2 805.8 461.8 828.5 538.9 908.6 570.7 767.1 489.8 824.8 592.6"/>
<path class="k1" d="M1410.3 487.4 1456.1 315.4 1408.7 316.8 1390.8 490.3 1446.6 264.0 1319.9 431.7 1395.7 236.8 1338.6 310.0 1425.6 263.1 1345 246.6 1322.3 160.6 1295.5 245.2 1399.5 314.2 1345.4 388.1 1329.9 358.7 1348.8 428.5 1328.8 440.8 1290.6 191.1 1364.4 229.3 1323 184.8 1237.1 274.4 1340.2 436.1 1300 306.1 1412.8 368.6 1377 353.6 1406.2 340.1 1346 231.4 1370.8 369.8 1340.6 220.9 1381.4 389.3 1301.9 341.6 1467.2 273.8 1320.4 299.1 1355.3 215.3 1401.8 196.0 1450.7 266.0 1406.9 257.7 1339.3 313.9 1347.6 369.2 1420.5 345.1 1434.6 403.1 1328.7 309.0 1336.3 417.9 1414 353.3 1448.6 253.9 1436.6 268.4 1423.9 404.1 1417 352.2 1463.8 266.9 1361.6 479.4 1337.4 311.0 1395.1 349.2 1331.8 338.6 1300.2 333.1 1323.6 412.4 1457.9 300.3 1336.8 281.5 1400.3 325.1 1426.7 405.2 1366 221.8 1176 261.0 1366.6 265.1 1366.3 371.0 1395 310.6 1339.7 307.2 1315.2 271.0 1380.5 471.9 1453.8 260.7 1419.2 393.7 1324.1 307.3 1386.1 476.7 1390.9 484.5 1342.4 407.9"/>
<path class="k2" d="M811.9 340.0 853.9 294.9 810 269.7 875.2 290.5 860.3 351.1 821 348.8 865 308.1 791.2 296.3 786.8 347.9 812.7 278.1 870.6 294.2 824.4 348.1 856.6 257.7 794 367.9 841.1 318.6 781.9 285.5 760.9 473.1 837.5 309.7 857.3 290.0 865.2 484.2 834.9 337.7 836.3 340.4 833.9 399.5 862.3 241.8 812.5 298.9 789.9 307.2 893.5 354.6 846.8 228.2 830.3 406.8 838.1 427.4 852.4 254.4 802.1 427.7 775.3 461.3 857.5 369.4 848.5 282.8 832.8 234.3 888 374.7 781.9 400.2 802.7 403.9"/>
<path class="k3" d="M948.6 505.9 875.6 659.8 976.4 566.0 906.9 707.5 992.1 650.6 967.8 693.4 978.1 613.6 935 671.1 902.2 647.9 999.7 671.3 997.1 655.2 907.9 685.5 1002.7 723.3 963.9 652.3 914 646.7 1001 737.0 962.6 661.7 964.2 579.5 887.5 468.9 952 581.0 958.3 651.1 979.1 724.8 911.8 642.4"/>
<path class="k4" d="M892.6 165.6 1026.7 103.2 978.6 174.1 1013.4 118.5 1008.9 161.0 897.5 226.1 1038.2 110.7 1038.5 131.6 950.7 169.7 961.7 149.8 1033.7 114.5 1041.7 114.7 910 161.5 1007.7 108.5 1036.7 146.8 945 200.3 974.9 212.5 945.3 243.2 954.2 173.3 1040.2 108.1 1004.8 139.4 974.6 228.6 1018.6 170.6 981.7 244.5 915.7 188.5 985.6 254.8"/>
<path class="k5" d="M1242.1 456.5 1296 485.4 1067 369.0 1267.7 456.4 1200.4 496.8 1196.4 491.6 1261.3 297.1 1156.7 538.0 1183.5 493.1 1160.3 532.3 1306.8 450.6 1073.4 341.7 1231.9 521.9 1182.2 448.1 1152.4 515.4 1202.4 423.4 1250.6 498.6 1166.1 542.6 1240.7 229.4 1237.6 470.1 1237.1 230.9 1078.1 332.9 1064 315.0 1246.2 446.0 1237.6 389.3 1215.2 544.6 1171.4 529.6 1298.1 525.1 1172.1 462.8 1156.8 506.2 1142.4 469.1 1159.9 535.1"/>
<path class="k6" d="M1005.9 646.2 1081.2 576.8 1159.9 653.1 953.3 477.7 1115.8 626.8 1115.7 635.7 1116.6 628.8 1036.6 626.2 1090.4 619.5 1077.7 605.0 995.3 447.0 1104 631.9 885.6 482.0 1008.2 621.4 1059.4 615.7 1046.4 430.5 902.5 603.1 1043.3 591.6 861.7 507.6 1081.9 630.5 924.6 583.8 1134.5 644.1 966.5 500.1 1033.1 609.0"/>
<path class="k7" d="M849.7 812.7 982.1 767.3 763.6 575.8 899.5 720.6 838.9 777.6 824.1 728.4 888.9 706.0 867.3 814.3 816.4 716.5 873.8 830.2 818 712.4 987 758.7 862.7 658.1 1024.4 785.0 923.8 745.9 894.5 750.6 751.1 570.0 825.4 729.1 1022.9 704.8 839.5 699.5 1023 795.2 843 791.1 759.9 539.0 958.5 732.3 865.2 765.8 964.2 742.9 964.4 747.6 955.7 747.2 1023.8 786.3 983.7 746.7"/>
<path class="k8" d="M1032 533.3 1060.3 535.9 857.7 600.4 1072.1 536.2 1048.3 406.5 1016.3 507.2 1067.2 491.5 979.7 427.7 1062.8 484.9 983.3 553.1 915.6 627.3 1098.7 520.7 1016.2 538.2 1046.5 491.1 1031.3 501.7 1049.2 538.9"/>
<path class="k9" d="M860.8 456.8 895.4 547.6 894.7 420.5 930.7 404.7 868.9 513.3 896 539.3 923.1 340.6 879.6 485.7 951.5 588.0 926.2 340.0 909.5 495.0 922.7 279.1 879 462.4 874.8 486.8 908.9 262.0 888 516.4 909.9 413.1 871.3 459.5 901.3 390.0 935.8 431.0 891.5 432.2 918.6 321.9 897.8 535.1 896.4 344.8 918.5 269.9 932.9 347.9 881.3 472.6 891.7 311.6"/>
<path class="k10" d="M1418.4 567.9 1298.3 654.0 1280.9 649.4 1298.4 644.4 1426.9 554.7 1283.9 607.9 1318.7 636.8 1286.3 640.1 1370.7 642.4 1349 620.6 1440.8 552.8 1325.7 577.2 1411.3 588.2"/>
<path class="k11" d="M1280.1 579.6 1295.5 530.2 1408.1 497.1 1292.5 580.8 1259.9 614.5 1312.3 547.1 1239.8 616.3 1252 588.1 1241.2 573.9 1307.4 531.2 1175 360.0 1300.1 518.9 1239.6 612.5 1272 553.5 1271.9 624.4 1393.2 500.1 1323 556.2"/>
<path class="k12" d="M939.5 609.9 856.5 408.5 1037.2 372.9 863.9 408.3 919 291.5 880.6 502.3 867.1 505.4 832.1 510.3 973.6 373.9 819.4 517.4 998.4 348.4 948.2 328.8 964.4 326.2 841.7 341.9 851.7 452.4 1006.6 325.0"/>
<path class="k13" d="M1279.5 501.3 1274.2 464.9 1306.6 431.1 1365 457.0 1284 520.5 1282.7 456.5 1288.7 489.2 1308.5 423.1 1291 475.6 1309.3 453.7 1298 454.1 1275.9 522.5 1291.6 440.7 1275.4 454.5 1313.9 453.8 1285.7 526.8"/>
<path class="k14" d="M1231.2 344.0 1217.6 324.7 1242.2 358.5 1190.9 375.6 1241.8 348.0 1223.5 338.1 1218.5 323.1"/>
<path class="k15" d="M816.9 499.6 821.8 505.5 817.4 567.6 883.5 587.9 806.2 491.8 889.9 578.7 770.9 367.4"/>
<path class="k1" d="M1407.8 399.1 1346.6 208.7 1472 294.3 1345.9 385.1 1357.2 366.8 1328.9 241.1 1362.7 251.1 1363.7 219.4 1355.7 282.6 1432.5 217.9 1381.4 301.9 1327.4 253.5 1441 320.6 1344.9 259.3 1447.7 291.9 1326.7 425.8 1313 299.4 1312.7 284.2 1376.9 395.7 1301.8 274.3 1389.3 239.3 1425.7 275.3 1353.2 235.8 1400.8 304.2 1352.4 337.3 1400.1 281.4 1405.5 286.0 1426.9 209.5 1320.2 421.7 1320 373.3 1289.8 287.9 1406.6 352.4 1431.4 293.6 1362.8 307.1 1370.9 225.2 1355 227.5 1319.9 325.1 1332.7 379.5 1403.5 277.2 1360.5 311.0 1369.2 216.6 1237 279.6 1456.2 356.5 1471.7 271.3 1432.2 315.9 1468 299.5 1258.3 219.3 1310.7 413.8 1401.7 500.2 1409.4 292.3 1383.6 384.3 1307.6 208.7 1377.9 405.6 1395.5 386.2 1303.8 291.7 1363.1 166.9 1309.4 333.4 1388 332.8 1407.5 304.6"/>
<path class="k2" d="M866.2 383.0 838.5 368.4 795.4 368.7 869.4 242.9 818.4 353.0 834.2 371.8 791.6 357.6 802.1 304.8 882.1 292.4 887.1 333.5 796 374.6 817.6 375.6 870.9 323.6 852.1 285.0 809.1 408.9 819.9 288.2 758.4 494.8 779.7 394.2 803.7 359.8 855.8 396.7 788.4 391.3 760 385.0 830.8 354.1 851.6 389.3 791.3 374.2 882 274.5 786.4 337.7 827.3 410.9 869.3 327.9 836.1 317.5"/>
<path class="k3" d="M938.8 610.0 846.8 663.4 921.4 656.2 948.1 648.8 968.4 689.4 948.4 562.8 932.8 713.5 874.3 512.9 883.7 651.1 908.7 668.1 947.7 550.9 864.8 654.1 879.2 472.0 939.1 529.3 939 627.2 919.4 681.5 920.6 659.8 888.4 670.0 917.6 675.4 856.4 653.0 924.7 689.9 912.7 737.0 851.8 665.7 893.4 550.7 881.9 669.3 884.8 651.9"/>
<path class="k4" d="M991.9 172.3 953.8 223.5 980.3 241.5 929.7 229.5 1034.5 108.4 885.4 215.3 1044.7 113.2 975.2 218.1 961.7 142.2 1045.9 103.2 1012.2 179.3 1027.4 141.5 994.4 136.0 995.8 194.0 993.2 259.7 975.1 174.2 980.4 231.1 901.1 161.4 1045.1 114.7 936.3 198.9 972.4 208.0 1030.3 109.4 897.3 190.2 974.9 221.7 991.5 157.4 979.3 183.2 988 255.9 969.6 205.4 1033.9 110.0 941.2 233.0 1022.4 119.7 932.7 165.0 1010.6 129.6 917.3 141.0 920 205.8 952.7 172.2"/>
<path class="k5" d="M1180.6 433.7 1188 513.5 1222.1 421.5 1072.9 351.0 1247.6 420.3 1272.5 482.5 1264.3 256.1 1082.7 339.5 1201 510.6 1236.5 220.2 1111.5 556.7 1132.5 581.6 1066.7 343.0 1130.1 454.1 1261.5 498.3 1058 324.0 1253.5 297.7 1176.9 460.1 1243.1 228.6 1079.6 343.6 1073.6 337.2 1157 444.8 1240.1 476.6 1227 498.5 1074.7 344.6 1050 344.0 1180.3 489.8 1075.4 341.3 1240.3 450.1 1210.8 469.3 1249 286.1 1080.6 348.9 1156.5 509.6 1321.2 508.2 1223.4 550.3 1139.6 495.0 1252.4 508.3 1268.6 242.5 1076.4 341.3 1162.4 524.1 1074.6 334.1 1217.5 566.6 1202.2 523.6 1083.1 342.7 1225.3 464.8"/>
<path class="k6" d="M972 555.1 1041.4 652.2 1053.7 617.2 1010.2 669.7 1000.8 533.2 1104.4 626.2 1012 601.6 971.9 501.2 1013.8 644.6 851.4 488.0 1108 629.6 961.2 500.3 1031 626.4 993.6 559.0 1169.8 645.4 977.7 569.9 861.4 514.7 1146 393.0 999.7 537.1 910.6 521.7 1098.5 640.2 1110.7 629.0 1015.1 654.6 1222 655.0"/>
<path class="k7" d="M764.6 573.5 978.5 746.2 864 707.8 844.1 740.8 1031.1 699.7 967 751.8 982.7 743.8 767.8 561.5 775.9 595.2 853.4 812.4 837.3 715.1 872.1 741.9 738.2 550.4 743.4 570.1 863.3 632.4 743.3 555.3 868.8 754.8 863.9 808.2 896.2 741.0 819.6 757.0 742 542.0 864.2 748.0 817 729.0"/>
<path class="k8" d="M977.9 329.7 1048.7 500.1 1090.1 491.8 1023.2 454.0 1022.7 450.2 1086.7 530.6 1051.5 531.5 1129.1 579.2 1050.2 522.4 971.3 385.2 1003.9 317.3 987.1 347.6 1041.1 497.2 1139.4 585.1 1024.6 506.7 989.9 545.1 1084.5 475.7 1026.2 536.2"/>
<path class="k9" d="M889.5 439.2 899 300.7 905.2 496.3 917.7 479.9 877.5 270.3 905 497.5 936.9 381.3 888.6 531.0 927.9 308.5 907.1 446.4 909.3 402.8 918.4 496.2 842.1 483.7 913.3 449.2 925.2 425.4 931.6 502.7 930.4 557.0 876 223.5 886.2 434.5 877.7 480.2"/>
<path class="k10" d="M1421.9 558.9 1293.5 624.8 1330.9 624.5 1283.1 608.0 1352.7 632.2 1292 596.7 1317.6 638.4 1405.4 571.9 1385.1 614.6 1321.8 607.5 1286.7 605.0 1321.2 634.3 1311 604.0 1347 671.4 1361.8 630.9 1150 545.0 1407.5 597.7 1299 593.0 1279.5 649.6 1324.7 638.3 1305.5 634.1 1341.8 592.8 1306.6 631.2 1365.4 647.5"/>
<path class="k11" d="M1238.3 630.5 1302.8 535.0 1245 596.0 1281 570.6 1274.2 632.0 1162 367.0 1229.6 645.0 1225.3 631.8 1269.8 618.2 1269.6 623.8 1235.7 652.7 1303 672.0 1211.7 586.3 1259.7 593.3 1241.6 630.6 1109 430.0 1249.8 617.6 1283.6 566.9 1229.2 577.7"/>
<path class="k12" d="M970.3 328.4 1001.6 455.0 872.1 386.1 975.7 369.4 917.5 268.4 851.1 507.9 916.9 382.7 864.2 382.5 883.4 593.7 941.4 627.9 933 386.3 978.9 336.6"/>
<path class="k13" d="M1292.6 463.0 1295.1 479.5 1262.3 489.5 1275.5 486.5 1301.9 491.3 1280.8 449.3 1280 470.2 1243.7 304.6 1289.1 467.9 1296.5 492.6 1299.4 463.2 1278.2 427.0 1304.3 470.0 1297.3 423.9 1276 445.1"/>
<path class="k14" d="M1199.8 348.3 1249.7 354.3 1241.4 364.4 1227.7 378.2 1199.4 339.8 1222 330.4 1224.6 321.2 1245.7 329.1 1216.6 325.8 1256.3 362.5"/>
<path class="k15" d="M782.9 467.3 875.9 596.4 853.3 537.4 1067 525.0 818.1 590.6 775.8 474.6"/>
<path class="k1" d="M1425.4 419.8 1430.2 358.2 1319.7 267.2 1295.5 308.2 1341.9 292.4 1434.9 380.4 1422.8 364.0 1359.3 263.7 1401.3 366.5 1383.6 329.3 1323.6 430.2 1451 299.2 1347.2 289.7 1398.1 472.7 1357.3 280.4 1439.5 309.6 1393 420.2 1368.8 210.5 1378.6 224.9 1379.4 230.4 1349.5 346.2 1399.2 310.5 1312.7 329.2 1455.9 251.8 1460 284.0 1317.6 262.9 1423 263.7 1338.3 186.6 1322.7 377.7 1387.3 495.0 1358.9 375.1 1353.1 246.0 1316.7 363.5 1432.7 286.8 1332.4 437.4 1314.9 228.4 1394.6 420.6 1437.8 286.9 1330.7 376.9 1393.5 317.3 1353.5 275.2 1339.9 360.2 1333.6 196.9 1304.4 307.9 1359.4 388.0 1321.2 276.9 1398.1 406.8 1430.7 237.8 1457.8 293.1 1314 276.8 1414.3 315.0 1407.4 212.7 1338 212.3 1288.5 258.8 1310.6 172.0 1402.3 245.8 1385.5 375.6 1307.5 324.4 1392.8 392.6 1298.5 323.5 1433.8 348.4 1330.8 216.6 1217.2 255.1 1361.7 174.3"/>
<path class="k2" d="M821 401.2 808.2 434.0 836.1 257.2 789.1 322.6 806.6 367.9 783.1 397.1 862.6 391.6 892 387.2 811.9 398.5 878.8 310.7 835.1 240.2 845.1 295.9 794.1 314.4 832.9 277.2 858.5 331.1 827.3 280.2 796.3 360.4 868.9 254.6 884.6 361.0 802.2 370.8 868.6 487.8 860.2 283.8 830.5 337.8 823.2 397.1 886.5 283.3 844.2 392.9 787.9 398.2 796.8 366.0 765.8 329.8 837.7 385.7 788.6 328.9 844.5 342.0 883.4 348.9 873.3 204.0 821.8 385.4 832.7 404.2"/>
<path class="k3" d="M971.8 717.6 907.7 691.0 967.3 727.4 922.3 596.0 914.5 644.4 968.6 629.0 970.5 510.2 877.6 666.8 901 668.6 923.6 598.8 972.3 671.7 1007.6 721.8 876.3 652.3 976.3 648.2 879.7 507.7 923.1 534.5 863.4 470.4 963.1 620.8 948 545.4 961.6 693.2 994.9 539.7 899.9 657.4 886 658.6 924.1 701.5 982.6 621.2 926.6 666.3"/>
<path class="k4" d="M1037.1 106.5 920.2 186.5 1028.3 111.0 919.1 149.0 906 167.3 931.7 174.9 1044.7 100.7 962.1 228.7 1008.8 191.3 993.9 218.8 981.3 254.5 1015.4 176.8 1006 174.4 977.1 130.3 986.1 185.8 998.7 247.5 962.9 158.1 992.9 130.1 924.8 188.7 922.9 232.7 1036.9 112.3 987.8 251.3 989.1 225.3 980 186.5 990.2 191.5 994.4 158.1 1034.4 142.3 959.7 228.7 1017.1 226.1 1022.9 126.0 1007.7 124.9 1035.2 147.4 1037.8 110.7 987.4 152.9 902.6 201.6 985.9 193.8 994 254.5 960.3 192.0 948.7 249.4 949 197.2 931.9 177.4"/>
<path class="k5" d="M1250 612.0 1084.5 360.7 1074.4 340.5 1176.5 545.4 1147.4 482.0 1256.9 262.4 1036 360.0 1114.7 446.9 1254.6 491.1 1169.8 474.5 1287.1 457.5 1258.5 474.0 1152.1 498.9 1174.2 445.4 1238.6 489.5 1207.4 457.0 1143.1 450.6 1166.8 463.5 1212.4 453.2 1189.3 539.2 1210.6 484.8 1157 482.1 1213.6 518.1 1207.2 424.3 1188.3 547.4 1223.5 422.0"/>
<path class="k6" d="M946.6 487.1 1129.3 624.1 1083.3 630.0 1139.6 640.2 986.8 508.8 905.6 544.1 1080.7 571.0 1190 655.0 1110.8 623.5 912.7 499.6 998.7 622.3 1104.6 612.7 1129.1 600.4 1072.7 615.7 993.3 512.2 1009.5 591.1 1050.8 435.1 988.9 627.3 905.2 549.7 1005.2 629.6 1140.5 603.8 1034 632.0 944 462.9 1007.6 616.7 1034.3 590.6 1107.9 631.6 859.2 608.8 1014.3 660.9 1023.4 650.7 1109.7 623.5 1128.7 640.9 881.7 544.2 1076.7 605.1 990.8 449.3 994.2 619.6 1090.7 627.5 1150.5 646.7 1105.7 621.8 888.8 449.6 1044.6 439.2 861.5 551.7 1085.1 626.4"/>
<path class="k7" d="M917 649.0 746.3 564.6 840.8 740.2 874.6 836.8 843 604.3 823 725.5 788.1 599.2 837.3 755.8 859.2 761.2 857 725.4 747.6 572.9 863.3 760.1 838.3 620.3 910.5 736.0 870.3 719.1 877.6 825.0 740.7 528.3 836.7 794.9 844.9 733.6 853 739.2"/>
<path class="k8" d="M1106.8 493.5 1040.7 493.7 1050.3 484.8 989.2 546.0 1003 546.7 953.5 499.3 1058.4 522.0 951.8 495.1 985.9 419.6 978.2 454.9 1106.4 532.6 1060 516.2 1057.8 483.3 1070.6 548.0 1166.2 488.0 992 530.2 1048.5 412.4 968.3 337.9 979.4 394.1 1059.1 528.9 1075.6 503.1 897.8 542.7"/>
<path class="k9" d="M903.1 450.3 912.3 191.5 895.3 278.2 915 427.5 897.3 427.5 883.8 249.9 903.4 534.8 894.8 195.3 922.9 324.4 867.3 472.2 860.5 470.1 869.8 492.0 921.3 419.1 905.9 299.4 944.4 289.1 921.4 259.8 905.6 428.4 924.7 385.1 925.7 400.4 877.7 542.6 862.3 459.7 900 480.2 904.9 235.8 929.5 583.2"/>
<path class="k10" d="M1281.4 650.2 1331.6 591.9 1314 639.6 1296.8 622.9 1292.9 634.9 1376.9 654.9 1290 628.2 1316.1 635.3 1402 595.0 1386.1 638.8 1340.4 587.7 1389.7 601.1 1273.6 651.9 1412.8 567.8 1275.4 639.7 1277.8 632.2 1319.4 582.4"/>
<path class="k11" d="M1265.3 549.7 1204.9 622.9 1413 525.8 1237.9 619.0 1351.1 389.7 1236.9 607.6 1266.2 614.7 1246 625.7 1325.1 522.5 1204.9 627.9 1319.8 409.5 1271.2 557.5 1263.6 576.4 1238.9 567.0"/>
<path class="k12" d="M856.1 458.2 967.7 532.8 985.3 307.3 876.4 342.5 864.6 341.4 898.1 392.4 916.2 336.3 928.5 491.5 791.5 383.1 991.7 275.1 915.8 264.8 857.2 597.8 771.7 356.0 920.3 530.4 986.9 273.9 791.5 489.5 946.3 407.7"/>
<path class="k13" d="M1305.1 462.7 1264.1 477.0 1282.1 437.7 1280.7 469.8 1304.5 450.4 1274.6 466.2 1300.4 420.1 1291.5 533.0 1297.3 468.1 1281.8 470.1 1315.7 489.7"/>
<path class="k14" d="M1213 342.3 1186.7 386.3 1229.8 348.8"/>
<path class="k15" d="M778.7 465.2 821.9 474.4 828.9 599.1 766.6 478.9"/>
<path class="k1" d="M1372 186.2 1407.4 373.8 1338.5 223.6 1403.5 481.3 1294.4 289.4 1346.5 214.7 1338.5 223.6 1345 575.0 1336.9 219.6 1408.1 278.5 1394.7 187.2 1374.3 210.2 1454 301.1 1416.5 316.5 1406.2 190.7 1427 247.9 1297.3 303.4 1417.2 246.7 1335.8 352.4 1390.9 179.6 1402.8 450.5 1380.9 477.9 1441.3 230.9 1389.8 321.2 1107 566.0 1354.2 462.2 1197.4 249.0 1404.6 320.7 1343 276.0 1362 474.9 1448.5 312.1 1390.1 301.0 1427.3 377.6 1396.5 182.9 1341.8 490.3 1282.1 311.7 1324 274.5 1306.2 202.8 1359.4 427.9 1329.8 374.2 1355.5 382.4 1395.3 388.2 1440.6 393.4 1434.7 329.1 1338.2 246.2 1360 299.9 1345.8 374.8 1397.1 404.5 1422.5 304.3 1420 269.3 1383.1 507.8 1358.5 212.6 1378.2 377.2 1358.2 443.7 1325 412.2 1381.5 248.2 1337.5 243.8 1311.1 256.7 1294 163.7 1300.1 355.1 1360.2 218.7 1463.5 280.6 1417.5 337.0 1416.8 318.9 1302.6 397.6"/>
<path class="k2" d="M828.9 236.7 856.2 328.0 854 262.1 861 326.2 829.1 422.9 815 300.6 799.4 401.3 806.9 368.7 883.4 317.7 858.3 327.0 776.5 385.4 836.1 354.1 789.3 320.0 830.4 288.2 864.2 455.8 814.8 372.4 850.6 381.5 875.4 181.0 809.7 287.0 823.2 298.0 771.9 332.8 869.7 342.3 829.3 410.1 891.6 274.8 897.7 369.3 813.6 339.0 852.4 351.1 820.1 291.5 840.4 362.5 794.5 338.5 874.7 351.0 787.3 423.6 840.5 381.1 785.3 405.4 842.8 306.9 835.4 286.8 866.2 356.9 859.5 317.6"/>
<path class="k3" d="M953 646.9 953.9 517.5 925.5 670.9 997.1 599.1 946.8 718.2 921.1 513.8 964.8 610.0 921 644.4 947.2 634.8 941.4 549.0 989.9 677.6 873 669.3 998.2 672.1 947.5 583.4 972.6 713.8 964.2 686.5 980.2 619.0 941.5 722.3 895.5 677.3 907.6 732.0 839.2 662.9 946.9 653.8 892.5 671.5 880.5 669.8 1007 733.3 926 644.0 981 675.6 986.9 593.6 948.2 639.1 906.7 645.2"/>
<path class="k4" d="M990.6 195.8 947.5 174.6 925.1 199.9 997.1 212.5 1015.9 162.0 1016.7 131.3 1035.1 158.1 1006.6 215.4 975.6 237.4 1018.1 174.0 954.7 142.7 1034.8 150.9 1029 191.0 976 259.2 994 238.3 1047.1 135.7 939.4 220.5 932.8 140.5 997.5 223.0 899.8 268.7 934.5 239.3 996.7 135.7 943.7 199.6 886.6 192.6 995.7 252.7 977.7 237.0 981.2 167.2 976.2 194.1 961.8 246.1 982.8 163.1 937.6 184.7 1000.3 126.4 914.8 179.6 1000.8 220.0 914.5 171.9 901.3 161.9"/>
<path class="k5" d="M1071.9 344.3 1157.1 532.6 1183.9 538.9 1181.6 472.3 1232.1 226.5 1264.3 454.6 1157.5 467.5 1127.5 448.5 1219.1 471.6 1271.5 470.9 1157.2 470.5 1270.9 470.0 1229.6 501.6 1220.4 582.3 1137.3 459.2 1279.9 436.8 1183.8 542.6 1081.2 354.7 1236.5 491.2 1227.7 228.7 1187.1 474.3 1269.1 475.9 1076 338.0 1226.2 430.4 1085.9 339.3 1217.2 459.2 1215.3 586.2 1266.7 275.5 1323 422.3 1204.7 502.5 1078 346.6 1221.9 534.6 1222.6 224.2"/>
<path class="k6" d="M1077.4 635.0 964.9 477.7 1147.5 597.2 1036.3 655.1 983.3 462.2 1082.9 630.9 900.8 492.5 904.3 576.9 1090.4 623.2 858 510.8 1156.1 638.6 945.9 469.4 1077.8 602.7 1075.4 609.5 1007.1 585.8 1153.3 645.0 1141.6 651.5 1036.4 655.0 1063.7 592.6 1049.3 435.0 903 557.0 893 466.8 1166.1 634.5 1165 403.0 933.1 530.9 935.9 453.0 995.2 627.7"/>
<path class="k7" d="M898 739.7 988.6 729.7 846.7 798.0 874.9 744.7 1020.5 788.4 1001.3 749.6 872.9 683.9 861.6 756.7 842.2 705.2 747.1 507.0 865.4 764.0 848.1 794.4 986.9 743.4 864.1 764.4 961.1 754.0 861.1 813.5 829.2 582.2 1010.7 728.3 801.3 606.1 860.6 704.2"/>
<path class="k8" d="M1038.2 340.2 992.3 521.8 978.9 624.7 1118 497.0 985.2 551.6 937.5 378.4 986.5 546.8 1027.6 500.2 881.9 585.3 1039.1 521.9 1023.5 544.4 1092.1 478.7 1047.3 486.7 887.2 556.3 1015.7 477.2 960 439.4 1060.5 488.9 1057.8 529.3 884 605.9 1022.8 395.2 988.4 552.9 1025.8 496.5 1045.3 534.9"/>
<path class="k9" d="M903 442.9 873.2 418.0 943.7 250.7 884.9 490.1 917.3 582.3 879.2 526.0 913.6 395.5 947.7 339.2 842.6 447.0 957.5 632.4 920.7 339.3 889.2 410.7 880.3 274.6 935.5 513.9 924.1 435.3 918.9 485.1 896 433.1 910.9 339.6 882.2 225.0 868.4 458.4 897 388.7 936.3 230.1"/>
<path class="k10" d="M1377.6 657.8 1283.4 654.5 1317.1 628.4 1354.2 619.7 1280.3 660.1 1333.2 627.4 1320 583.2 1367.6 564.9 1297.9 605.9 1293.7 648.3 1266.1 658.0 1296.6 579.1 1300.1 641.0 1301 648.2 1406.3 609.8 1298.4 642.1 1303 621.1 1347.8 664.8 1053 437.0 1268.6 657.1 1282.8 660.6 1324.4 629.7 1365.5 615.9"/>
<path class="k11" d="M1213.5 597.2 1278.7 551.6 1246.9 633.0 1237.6 616.6 1290.7 563.5 1274.6 601.8 1267.5 553.2 1239.5 585.4 1228.7 618.8 1233.1 638.0 1231.1 628.8 1258.8 617.5"/>
<path class="k12" d="M1032.7 393.8 1025.6 322.8 803.9 479.0 846.5 383.8 826 482.5 870.9 475.8 900.4 370.5 789.6 425.2 870.8 609.7 907.2 330.3 842.3 576.1 888 311.2 886.8 450.9 957.3 289.3 882.3 347.3 942.3 360.7"/>
<path class="k13" d="M1299.5 497.1 1283.6 341.2 1283 495.8"/>
<path class="k14" d="M1209.8 316.2 1242.7 330.0 1240.8 362.2 1201.1 349.7 1203.6 365.4 1249.1 356.9 1182.7 348.2 1220.6 367.4 1277 296.0 1218.1 380.7 1216.8 344.3"/>
<path class="k15" d="M774.2 469.5 894.5 589.7 786 469.8 823.6 594.8 841.5 589.7 767.5 475.2 902.8 591.5 881.1 572.2"/>
<path class="k1" d="M1301.7 229.8 1280.8 187.1 1381.2 397.3 1310.5 379.7 1352.3 174.0 1329.7 380.5 1391 228.6 1328.8 376.3 1333.6 282.1 1390.4 353.0 1336.8 365.5 1433.5 236.0 1373.3 207.6 1307.7 273.2 1319.1 365.3 1419.1 351.3 1430.6 380.2 1275.7 217.1 1405.8 338.6 1276.7 252.2 1324.4 173.2 1358 299.0 1335.3 378.3 1339 457.0 1367.6 303.8 1430.7 389.5 1351.6 259.8 1308.7 408.5 1397.8 182.9 1281.4 342.3 1277.8 276.3 1342.6 291.4 1319.7 415.4 1426 309.8 1447.9 263.3 1384.7 377.9 1402.4 314.2 1398.7 255.2 1424.6 230.2 1256.3 181.9 1373.2 292.2 1415.6 402.6 1358 340.6 1326.4 355.0 1355.1 380.6 1462.8 283.5 1379.8 218.4 1296.7 255.5 1369.8 314.7 1370.4 299.5 1320.1 262.2 1418.3 217.7 1390.7 406.2 1393.4 473.7 1392.2 352.8 1348.2 390.1 1389.6 212.0 1382.2 450.2 1342.2 235.2 1431 206.6 1318.1 257.5 1333.4 263.4 1315.4 408.1 1412.6 379.5 1293.1 242.2 1413.1 261.5 1430.4 384.9 1316.8 426.8 1290.9 168.2 1373.9 350.1 1426 220.2"/>
<path class="k2" d="M775.1 304.1 844.8 271.5 900.9 339.8 862.5 285.3 808.1 387.1 880.8 334.5 847.8 332.9 799.5 298.5 853.2 389.8 821.8 264.5 852.4 329.1 784 488.3 849.8 280.5 836.4 423.3 849.1 313.2 871.3 446.7 838.6 235.5 829.3 360.1 867.4 296.4 850.5 306.7 887.4 332.9 836 239.3 832 384.3 819.6 285.0 814.9 339.5 826.8 340.0 874.6 190.8 847.2 398.2 796.3 372.1 851 351.0 873.5 289.9"/>
<path class="k3" d="M896.7 502.8 973.7 613.8 854.6 661.0 945.7 616.1 923.6 663.9 943.6 646.2 904 668.5 984.3 528.7 982.7 659.5 943.2 645.2 945.8 696.7 973.9 726.5 986 642.2 948.8 632.6 939 609.1 893.2 668.7 969.7 615.4 941.9 671.3 918.9 647.9 977.6 723.2 988.7 598.4 946 578.9 952.3 537.4 955.9 647.1 873.4 655.7 948.8 625.7 967 532.4 844.2 661.1 871.7 664.3 893.5 670.0 941.7 592.0 977.3 713.6 929.9 681.7 944.3 639.4 966.1 642.9 915.2 650.5 981.5 685.3 874.2 487.6"/>
<path class="k4" d="M924 190.7 996.9 218.9 1022.3 151.5 1036.8 98.7 1034.3 95.2 1043.4 118.2 1036.2 105.8 987.8 158.9 1001.6 212.0 990.1 256.2 930.5 144.6 1016.9 126.3 961 216.2 1036.6 104.4 994.3 213.9 1027.7 142.6 995.8 171.9 963.3 242.5 941.3 183.2 959.7 132.3 926.6 200.4 895.1 176.4 946 265.9 1035.1 107.1 936.4 147.6 1050.8 136.2 994.3 207.0 1002.9 252.0 966.1 250.3 996.3 220.5 963.6 169.5 1040 131.7 1039.9 109.7 954 265.9 1033.6 109.9 995.7 214.7 869.8 204.1"/>
<path class="k5" d="M1203.3 419.0 1213.4 458.9 1174.7 486.3 1221.9 548.5 1231.2 462.3 1070.5 348.4 1078.7 358.4 1235 497.3 1190.2 407.8 1134.9 490.1 1251.3 444.6 1169.6 550.8 1206.9 476.2 1078.7 347.5 1155.1 526.2 1177.7 462.0 1236.8 215.8 1270.5 195.7 1239.3 236.6 1322.1 448.4 1080.1 362.3 1191 473.0"/>
<path class="k6" d="M991.1 514.6 857.9 607.1 1115.4 632.5 1062.6 615.8 1135.9 636.3 1025.5 587.7 975.3 496.9 1004.1 593.1 894.1 429.4 1107.3 643.9 1158 640.4 1165.9 635.9 1041.8 602.7 1022.2 578.7 1189.1 657.8 1002.4 629.2 1122.1 631.7 1043.3 624.0 1171.7 641.4 1125.7 604.1 996 637.8 1050.9 633.2 1085.4 625.0 1059.4 593.7 1128.5 632.8 1004.1 673.3 1075 615.1 988.9 470.2 917.8 500.4 1089.5 593.3 953 598.4 885.3 482.7 870.9 561.9 1027.7 672.0 835.2 593.8 1153 382.0 1004.7 648.3"/>
<path class="k7" d="M921.2 736.9 1026.9 781.6 846.9 738.8 842.2 634.2 762.9 520.9 880.4 688.0 914 636.7 938.4 749.3 875.2 714.5 899.7 750.3 954.7 744.5 825 720.8 978.3 737.0 838.3 594.3 928.4 746.1 981.4 742.8 984.1 648.3 821.6 695.2 874.1 746.4 877.5 828.5 867.7 742.4 891.7 753.8 968.8 742.9 878.6 823.4 834.1 725.1 870.3 751.0 969.3 756.4"/>
<path class="k8" d="M1105.9 523.3 1023.5 540.9 913.4 465.6 1001.3 538.4 1087.7 505.8 1060.2 533.1 997.5 454.7 992.9 511.7 1088.8 477.6 1009.3 551.9 873.2 537.1 1038 516.9 860.4 538.1 1026.1 533.1 1042.7 519.5 1059 481.4 1028.4 556.7 1073.4 493.1"/>
<path class="k9" d="M895.9 324.3 899.1 267.8 869.5 486.5 889.7 397.8 884.8 541.9 862.8 509.8 941.8 463.7 930.8 286.5 880 499.5 903.1 443.6 929.7 437.3 870.7 419.3 933.4 426.3 889.1 524.9 905.6 589.6 872.6 247.1 923.9 313.5 912.3 404.2 863.8 440.2 914.7 447.2"/>
<path class="k10" d="M1331.8 564.2 1299.7 616.9 1294.5 605.3 1336.3 625.0 1342.3 671.4 1434.1 559.0 1330.4 625.8 1337.7 629.4 1301 626.2 1389.4 584.3 1326.8 629.1 1304 630.3 1130 550.0 1377.2 641.9 1355.7 665.0 1277.8 617.7 1405.9 515.6 1370.7 649.7 1416.4 575.3 1285.8 611.4 1323.6 583.3"/>
<path class="k11" d="M1334.1 504.3 1249.4 578.0 1244.5 611.6 1271.6 629.0 1240.6 557.0 1251.7 609.0 1184 584.1 1320.9 481.2 1236.9 627.5 1296.5 533.4 1255.9 585.1"/>
<path class="k12" d="M802.1 477.6 993.9 276.5 935.4 449.2 892.5 598.0 998.5 329.0 974.7 351.8 1025.1 306.3 1004.6 362.5 891.9 353.4 912.8 467.7 790.4 506.7 884.7 476.9 925.6 469.5"/>
<path class="k13" d="M1238 575.0 1260.6 462.4 1296.5 440.2 1293.6 501.9 1290.2 486.0 1306.8 480.5 1295.5 430.5 1298.8 504.6 1304.2 506.8 1277.9 509.4 1278 434.6"/>
<path class="k14" d="M1330 500.0 1219 366.2 1216.9 334.3 1220.3 371.4"/>
<path class="k15" d="M800 479.2 775.9 458.2 871.3 551.8 788.3 301.0 889 575.9 855.2 261.3 770.9 510.0"/>
<path class="k1" d="M1279.2 332.8 1392.7 359.5 1407.7 239.5 1352.9 256.7 1347.8 300.3 1284.7 376.7 1310.8 170.5 1436 290.3 1296.3 180.8 1371.4 320.6 1395.7 484.6 1357.7 221.7 1339.9 378.4 1421.9 274.8 1298.6 375.2 1342.9 420.3 1394 405.4 1291.5 237.4 1201.4 250.1 1398 411.8 1338.3 266.0 1343.3 262.3 1303.4 361.2 1439.5 239.5 1324.6 308.5 1399.8 480.0 1390 364.0 1435.3 293.9 1322.1 333.2 1286.3 259.4 1362.4 195.0 1409.3 369.0 1306.8 358.3 1312.3 341.5 1391.4 507.5 1391.4 503.1 1354.6 327.9 1392.9 417.8 1298 314.6 1408.5 295.3 1394.5 379.9 1416.2 478.9 1390 288.4 1339.3 210.1 1340.5 379.5 1320.4 350.9 1332 208.3 1294.1 318.3 1306 392.0 1383.5 492.9 1228.7 265.3 1423.9 236.5 1364.6 178.4 1352.3 213.6 1384.4 441.5 1385.2 303.0 1395.3 410.6 1382.7 199.3 1300.9 247.3 1451.7 281.9 1280.4 347.6 1395.9 395.3 1317.3 376.7 1439.1 303.1 1406.9 478.4 1355.4 162.2"/>
<path class="k2" d="M830.8 272.8 879.3 335.4 820 366.5 760 400.0 889.1 267.8 805.6 346.2 801.5 434.3 874.2 451.3 817.8 319.9 888.7 411.8 830.5 292.4 879.1 510.3 861.1 354.5 860.6 281.1 829.9 370.1 849.1 375.8 807.1 290.7 792.2 408.2 874 187.0 804.4 393.5 880 408.3 858.6 328.6 849 354.5 821.1 438.4 875 290.7 881.8 307.8 785.3 321.9 899.1 387.7 845.6 322.6 818.3 274.2 787.8 353.5 803.3 403.5 862.2 280.6 811.2 260.8 839.5 345.2"/>
<path class="k3" d="M958.7 688.5 881.2 467.6 914.8 557.8 961.3 604.3 850.1 519.8 979.7 613.6 950.7 669.5 951.5 693.7 934 556.4 923.8 674.2 911.9 616.5 932.4 580.6 892.7 522.0 831.7 659.2 914.5 681.5 967.2 705.9 959.2 568.4 919 620.1 913.4 559.4 961.8 677.7"/>
<path class="k4" d="M933.3 234.4 930.3 177.0 950.8 143.2 1043.1 96.2 867.9 247.5 1050.3 124.6 1033.5 105.7 937.7 214.3 970.4 260.4 937.1 253.0 1038.2 121.8 951.6 239.5 953.9 146.2 968.8 202.8 958.4 181.4 930.1 144.9 978.4 167.3 869.2 220.5 932 160.8 1040.7 116.6 970.6 163.2 1043.8 106.5 874 187.0 1026.6 107.3 954.2 142.5 994 252.3 976.9 221.7 927 204.4 935.6 216.6 1043.2 111.3 949.1 248.8 943 260.5 1011.9 159.8 1031.9 113.0 1042 107.5 994.6 173.5"/>
<path class="k5" d="M1203.7 419.6 1259.4 276.6 1137.8 443.7 1222.4 404.2 1081.4 345.0 1239.6 438.0 1255.7 432.4 1142.4 487.1 1138.1 475.8 1277.3 187.6 1220.6 424.9 1075.2 349.7 1191.1 483.4 1232.7 529.4 1259.7 464.0 1243.4 537.2 1183.9 551.9 1200.5 511.3 1153.3 537.5 1271.3 188.2 1119.4 468.7 1185.4 439.3 1076.4 344.1 1175 472.3 1246 638.0 1237 422.8 1128.9 467.1"/>
<path class="k6" d="M1173.9 589.0 1060 620.7 1162.9 637.1 1112.6 625.9 1123.1 618.3 839.1 620.8 1117.5 639.1 922.6 469.0 904.3 444.2 1023.9 680.2 958.8 508.1 1039.2 608.3 1113.3 620.2 868.4 554.3 1170.2 640.2 1002.5 643.5 1037.3 615.4 967 475.5 910.8 469.4 1069.9 622.7 1162.5 646.4 1021 591.4 1053.6 593.4"/>
<path class="k7" d="M878 761.0 865.8 821.6 955.9 758.7 814.6 618.8 846.7 598.5 782.2 524.9 748.9 516.8 816.4 726.0 821 711.8 974.2 750.0 821.1 715.9 1023.7 790.5 961.1 743.5 848.7 810.3 871.7 828.0 854.1 609.7 973.5 628.3 902.4 731.8 864.1 832.1 872.2 726.2 823.6 624.5 854.4 752.5 823 752.0 946.4 655.3 841.4 712.6 846 758.6 872 760.0 814.6 716.2 845.3 742.4"/>
<path class="k8" d="M950.2 435.0 981.6 493.8 1034.3 531.4 967.2 564.7 1086 504.6 1100.3 514.5 1001.1 530.2 1039.3 567.8 1077.1 498.4 1064.6 492.9 1073.1 538.1 969.7 526.0 1076.5 515.0 1019.7 537.6 1105.2 484.2 1065.7 494.3 939.3 331.1 1095.8 511.5 942.4 503.0 1006.8 533.8 1092.2 501.1 1026.5 496.6 1175.5 522.6 1100.3 533.6"/>
<path class="k9" d="M893.1 524.5 939.9 434.4 936.5 426.9 908.6 471.9 888.3 496.9 894 471.3 855.7 483.1 896.5 188.2 923.7 388.8 840.5 450.6 936.5 369.4 920.1 429.2 934.3 431.0 876.8 463.2 917.5 324.9 915.9 441.3 879.2 606.7 929 406.8"/>
<path class="k10" d="M1315.3 633.9 1332.3 560.6 1403 591.4 1342.9 621.5 1258 650.0 1289.7 614.2 1362.9 577.1 1434.7 556.1 1401.5 597.4 1292.3 647.6 1331.2 584.8 1418.8 565.0 1301.6 600.1 1341.3 621.9 1352.5 554.1 1431.7 542.5 1380.8 620.3 1274.3 638.6 1291 644.9 1440.8 545.8 1364.7 619.6 1390.6 611.2 1373.6 531.0 1408.9 588.2 1266.1 641.5 1279.1 652.2"/>
<path class="k11" d="M1259.5 571.1 1278.6 579.5 1259.7 528.3 1249.2 581.0 1274.9 611.8 1304.3 574.8 1272.4 600.3 1387.5 524.0 1315.4 565.4 1249 624.1 1258.1 578.7 1326.2 542.0"/>
<path class="k12" d="M996.2 363.0 872.9 508.8 842.1 609.7 973.2 607.1 973.9 539.4 931.8 587.0 1004.3 312.5 916.8 618.9 973.9 417.7 1008 411.9 929.1 488.4 919.7 293.9 887.7 301.2 949.7 307.8 968.1 571.6 902.4 491.3 974.6 586.8 883.4 449.8"/>
<path class="k13" d="M1298 522.3 1309.4 458.0 1299.7 530.5 1323.2 443.2 1272.8 450.2 1301.9 425.0 1269.8 472.5 1256.5 469.9 1277 478.3 1302 488.1 1301.2 434.9 1276.1 481.2 1262.5 481.4 1283.1 440.0 1273.5 498.8 1310 434.1"/>
<path class="k14" d="M1195 351.7 1233 351.1 1187.9 345.6 1243.4 345.8 1200.2 365.3 1225 331.2 1206.7 334.1 1233.8 363.1"/>
<path class="k15" d="M824.6 548.7 853 548.4 808.5 491.5 800.1 467.1 802.3 469.3 792.7 505.3 877.8 589.2 834.7 543.1 834.8 611.2"/>
<path class="k1" d="M1332.1 242.3 1431.1 287.8 1362.5 316.0 1431.6 235.7 1422.3 280.3 1319.5 277.1 1368.4 271.1 1306.5 244.5 1250.7 166.3 1336.1 436.6 1326.2 254.2 1357 441.5 1359.6 361.7 1248.3 161.8 1356.6 248.0 1428.5 246.1 1314.5 325.8 1326.1 295.7 1282.9 254.4 1410.6 315.3 1272.6 329.8 1454.7 295.8 1376.7 201.8 1332.5 297.6 1271.5 226.6 1397.4 356.7 1455.9 295.6 1385 368.6 1368.3 361.3 1254.9 215.2 1313.2 301.2 1414.9 374.3 1369.1 239.0 1406 337.8 1382 291.4 1247.7 208.7 1373 237.7 1428.2 332.2 1341.7 454.9 1387.4 199.4 1274 213.5 1445 320.2 1402.3 377.7 1435.4 349.2 1400 376.7 1333 286.2 1304.3 271.4 1399.3 496.7 1334.4 241.1 1386 315.9 1428.8 339.6 1331.2 347.1 1408.4 244.9 1374.2 319.5 1395 406.7 1403 440.4 1432.7 397.1 1340.7 316.1 1377.8 167.4 1373.5 172.9 1421.2 425.1 1452.5 308.5 1378.5 241.6 1407.9 213.2 1402.3 220.4 1332.2 319.6 1344.7 377.2 1394.1 482.3 1324.1 318.1 1376 368.9 1296.4 208.0"/>
<path class="k2" d="M783.4 376.2 907 385.6 866.3 369.4 806.8 422.7 799.5 263.0 839.6 406.8 766 308.9 844 343.5 847 398.4 876.1 333.0 797.7 292.4 868.1 272.3 757 372.0 826.2 313.4 855.2 396.5 847.7 240.4 811.6 430.7 864.4 326.5 851.6 256.6 784.9 423.2 785.8 333.7 835.4 298.5 907.6 344.9 824.4 268.8 830.7 302.0 813.3 379.0 853.9 374.7 820.9 421.1 856.2 338.4 811.2 430.6 826.4 402.1 822 345.6 829.9 426.5 808.1 402.4 861.8 378.6 814 396.9 804.1 267.5 841.1 429.1 801.3 340.1 822.2 333.9 779.8 348.0 815.5 284.0 838.5 334.6 804.3 356.5 797.1 398.1 830.3 290.8 851.2 257.5 801.3 357.4"/>
<path class="k3" d="M975.2 647.5 977.1 591.6 901.2 676.5 934.6 721.3 901.7 666.8 939.7 654.3 947.9 644.8 916 639.7 950.3 560.6 854.6 663.8 965.1 645.7 961 548.7 901.3 541.8 946.8 657.8 887.9 502.6 872 665.0 950 676.0 848 662.2 868.5 666.1 856.1 665.5 923.1 673.1 936.8 573.8 911.3 660.4 938.4 709.6 881.4 677.2 937 623.8 964.6 704.1 871.5 666.2 915.2 652.5 931.5 681.2 855.8 471.8 891.3 544.0 969.6 645.6 935.4 672.1 914.1 661.0 914.8 692.2"/>
<path class="k4" d="M999.9 196.4 986.6 126.9 919.8 269.0 899.4 154.1 1032.3 116.3 959.7 215.8 947.3 258.7 965.6 131.4 961.2 223.7 1040.4 104.7 1025.3 104.7 974.5 226.3 992.5 174.6 1035.1 109.3 1030.8 122.1 899.8 200.5 1027.1 214.7 1050 212.0 930 277.4 1034.3 144.8 917.4 262.3 1040.2 122.2 1043.7 102.9 933.4 221.5 1041.4 111.6 933.8 261.0 1002.1 214.3 1036.9 108.3 1038.5 113.0 941.7 186.0"/>
<path class="k5" d="M1055 338.0 1146.9 560.2 1268.5 452.2 1249.7 449.9 1260.3 267.5 1134.6 579.3 1164.9 485.6 1238.1 525.1 1073.2 331.5 1195 539.4 1319.7 253.0 1099.4 368.8 1221.5 229.8 1220.8 486.0 1165.6 573.9 1145.2 465.4 1267.8 479.3 1189.1 517.0 1081.9 345.7 1250.1 532.9 1223.5 493.6 1119.9 467.0 1258.2 472.5 1280.8 317.4 1182.9 533.8 1163.7 496.0 1228.7 228.7 1170.4 493.3 1273.4 346.3 1167.6 462.2 1277.4 418.2 1075 320.0"/>
<path class="k6" d="M890.5 622.0 1038.7 599.4 1028.6 653.7 1003.9 618.3 1135 638.5 980.7 457.3 912.8 536.2 1028.1 614.0 1077.9 618.3 1013.1 450.2 1040.6 623.0 1008.5 602.7 1082.9 631.6 1066 614.4 1043 611.0 1162 640.6 1083.6 627.7 1106.3 637.7 894.1 499.2 1044 601.5 1011 623.4"/>
<path class="k7" d="M853.3 645.7 1022 708.3 850.3 609.5 859.1 732.9 869.3 584.8 855.9 613.1 1006.8 729.1 888.3 703.5 850.9 717.9 873.9 724.9 858.6 632.0 824.7 740.8 820.4 758.2 850.3 736.1 975.6 748.2 988.1 733.3 855.1 602.5 879.1 688.9 750.1 554.9 861 687.2"/>
<path class="k8" d="M1025 366.2 1062.7 532.4 1060.4 524.7 1036.7 533.9 908.3 372.0 980.6 507.0 924.7 519.4 1063.8 501.9 1051.7 491.4 1062.7 476.1 1039.1 508.3 990 502.8 939.5 416.7 973.9 378.4 1026.2 432.5 1057.8 548.1 950.5 301.1 995.2 523.6 1098.7 516.1 977.9 517.2 956 419.2 1027.2 509.1 1017.9 530.0"/>
<path class="k9" d="M885.9 463.4 879.6 535.3 892.5 483.9 840.5 466.2 926.5 404.8 901.3 467.1 915.7 421.6 880.4 488.5 857.7 454.0 934.4 403.8 845.8 521.5 889.5 405.5 876.7 463.6 906.1 420.6 907.8 437.2 949.4 337.8 918.7 336.8 859.6 508.6 908.7 339.4 922.8 542.1 883.6 507.2 879.7 515.4 917.6 280.8 862.7 448.6"/>
<path class="k10" d="M1422.4 576.9 1266.5 648.0 1349.8 616.8 1403.6 604.3 1361 662.0 1401.9 596.1 1372.6 643.5 1442.1 543.6 1414.4 570.2 1046 436.0 1271.6 605.0 1278.4 608.0 1266.6 659.3 1311.1 614.5 1335.5 678.6 1399.9 587.0"/>
<path class="k11" d="M1240.5 589.3 1243.3 603.1 1232.4 605.2 1283.1 565.6 1196.2 611.9 1266.9 630.4 1230.8 574.6 1241 569.4 1258.9 579.6 1332.8 483.5 1234.8 592.2 1402 486.8 1375.9 527.3 1209.7 624.2 1346.9 518.7 1293 545.0"/>
<path class="k12" d="M798.3 551.0 934.2 403.7 1002.4 263.2 866.4 337.7 900.4 594.9 909.5 444.1 1017.1 286.8 1024.6 417.9 891.4 509.0 927 410.3 908.3 397.1 996.5 361.7 799.4 547.4"/>
<path class="k13" d="M1303.7 488.3 1290.1 469.3 1299.5 434.0 1304.4 448.8 1301.9 483.5 1275.8 489.6 1274.3 498.3 1306.1 457.7 1273.4 457.9"/>
<path class="k14" d="M1232.1 341.0 1219.7 315.9 1261.3 367.3 1223.3 364.1"/>
<path class="k15" d="M805 471.0 825.8 468.2 811.7 491.5 882.3 589.3"/>
<path class="k1" d="M1422.5 218.0 1395.7 193.2 1285.3 297.5 1367.9 364.4 1346.1 351.3 1406.1 315.5 1419.3 224.0 1300.6 316.4 1342.2 373.9 1365.8 405.8 1440.3 235.0 1413.5 216.9 1429.2 303.7 1291.4 316.0 1402.9 376.3 1319.6 326.4 1305.1 235.0 1393.2 354.1 1374.6 392.0 1445.1 234.9 1349.6 356.1 1413.2 341.1 1410.9 200.2 1426.7 335.5 1344.6 383.0 1332.6 270.5 1301 198.7 1402.9 218.3 1354.9 249.7 1424.9 227.8 1270.6 280.3 1322.2 423.2 1363.3 321.1 1342.7 374.6 1343 252.5 1322.2 322.3 1338.3 312.8 1330 273.3 1382.2 482.2 1318 322.4 1290 381.3 1272.4 222.3 1329.1 312.2 1323.5 206.4 1303.1 221.9 1367.6 495.9 1356.6 159.9 1353.3 276.7 1357.6 384.0 1358.1 183.7 1375.3 280.3 1428.2 221.0 1417.1 304.5 1444.9 251.6 1282.1 215.8 1412.4 408.5 1284.4 325.6 1389.5 474.8 1400.5 479.6 1271.4 227.1 1384.9 392.4 1229.1 267.8 1310 380.3 1288.5 348.1 1306.8 401.0 1356.9 173.5 1392 507.7 1426.3 361.8 1323.3 309.0 1445.7 264.3 1450.7 269.7 1359.8 296.3 1347.6 221.5 1324.6 274.3 1453 255.8 1315.1 319.3 1469.3 285.8 1313.2 233.3 1341.6 269.2 1454.4 312.3 1417.8 256.6 1296.6 379.5 1329.7 330.2"/>
<path class="k2" d="M782.1 314.4 781.7 427.8 823.7 383.1 846.9 349.9 814.8 285.9 842.6 387.5 836.5 360.8 805.5 266.9 823 273.6 821.2 369.1 877.9 267.9 795 356.1 788.6 297.4 791.3 273.8 868.8 314.8 844.3 382.7 830.9 378.2 884.5 273.4 816.4 303.4 842.9 398.1 870.2 239.8 784.8 316.1 775.3 308.9 804.7 279.0 882.3 465.2 874.7 253.0 834.8 379.8 846.9 358.7 863 353.5 821.8 282.5 836.7 401.8 867.7 380.8 782.7 298.3 819.3 260.4 819.1 288.8 760.5 482.4 850.7 385.4 817.4 369.3"/>
<path class="k3" d="M905.5 528.1 944.4 530.4 833.1 663.7 921.2 508.7 904 667.2 883.5 657.6 934.7 623.2 922.3 645.6 997.6 667.1 944.1 668.7 904.3 718.0 895.3 667.1 981.8 620.1 884.6 661.1 886.9 674.8 933.1 693.9 989.6 728.8 940.7 600.8 939.5 587.1 915.7 566.8 970 641.6"/>
<path class="k4" d="M901 212.7 1041.7 103.1 953.3 205.0 923.9 213.8 912.3 175.4 928.6 170.3 974.5 242.2 970.1 199.1 953.9 154.6 965.7 145.5 1033.3 139.8 983.2 248.9 1030.9 121.8 909.8 197.9 897.9 282.8 1015.9 182.9 1003.8 134.1 979.9 141.2 959.8 241.5 969.9 150.3 927.5 262.2 923.1 180.7 1047.5 115.7 1049.1 105.9 882.4 241.2 994 220.5 981.8 262.4 971.5 166.2 918.7 198.8 1029.3 117.0 1032.2 152.1 934.5 223.9"/>
<path class="k5" d="M1234.3 543.4 1171.9 494.2 1163.6 442.9 1218.4 557.1 1196.4 529.1 1309.5 391.4 1233.5 427.8 1075.5 331.6 1077.7 336.8 1227 524.8 1211.3 425.3 1244 416.2 1215.4 496.9 1239 428.7 1211.3 426.2 1083.3 340.6 1241.1 480.4 1229.3 456.6 1244.8 514.4 1303.2 295.3 1320.4 522.5 1174.2 501.6 1356.5 390.9 1071.6 350.6 1089 360.9 1041 224.0"/>
<path class="k6" d="M1029.2 425.3 938.5 591.4 989.3 460.8 855.8 489.8 1154.3 634.7 1072 662.0 989.6 506.1 896.2 517.2 1064.1 623.7 1096.7 633.4 989.9 499.7 924.4 545.5 1164.2 631.8 845.5 561.1 992.4 560.6 1132.4 590.6 1082.3 618.6 1002.8 587.3 883.1 506.4"/>
<path class="k7" d="M769.5 520.7 876.2 833.0 834.4 684.1 981.9 746.7 1027.2 784.7 819.3 587.6 866.1 742.2 827.3 714.7 873.7 690.8 850.3 721.2 1015 780.0 1035.2 705.1 993.6 756.2 996 744.6 886.6 714.3 755.4 559.2 760.5 522.6 825.6 712.3 859.1 720.1 834.2 709.8 961.1 739.8 844.9 735.0 745 515.0 985.7 733.0 832.4 712.4 826.8 711.4"/>
<path class="k8" d="M914.6 538.7 1099 498.3 1005.7 414.0 1020 535.5 909.9 399.9 1018.6 522.9 960.2 492.4 1008.3 527.0 995.9 504.4 988.1 390.2 1081.7 502.5 1031 387.0 1041.4 519.4 1010.4 551.3 1064.7 487.8 1037.3 483.4 908.9 632.8 935 623.1 883.4 574.6 1006.4 536.8 895.8 560.9 1066.6 504.6 1055.3 472.4 1023.8 511.2 1111.5 510.4"/>
<path class="k9" d="M856.6 501.5 880.5 205.8 875.9 453.9 898.2 415.0 892.2 410.4 898.4 471.1 907.7 498.5 899.5 319.5 867.1 440.0 850 481.1 932.5 447.6 913.9 345.8 897.8 450.3 873.5 458.9 928.3 242.6 893.4 434.6 872.6 429.2 939.6 424.1 927.3 205.0 939.5 622.6 956.3 273.9 922 301.5 903.5 311.8"/>
<path class="k10" d="M1379.2 657.0 1344.5 577.0 1429 569.0 1354 658.7 1363.5 650.8 1340.6 630.5 1400.7 597.5 1375.4 617.9 1274.4 657.2 1363.7 572.4 1303.8 640.9 1359.9 595.3 1359.7 596.9 1017 339.0 1364 564.7 1350 614.8 1409.3 577.7 1372.5 618.5 1420.3 553.5"/>
<path class="k11" d="M1197.1 589.3 1403.5 509.4 1253.2 581.6 1239.2 603.6 1246.8 609.5 1330.1 513.5 1275.4 631.1 1229.8 600.9 1360.9 503.9 1260.8 627.3 1258.1 565.3 1333.5 535.8 1225.8 633.0 1245.3 641.5 1175.4 615.5 1310.2 540.3 1269.3 611.0 1210.4 577.3 1264.1 591.5 1383.2 522.3 1243.1 611.7"/>
<path class="k12" d="M891.1 367.5 805.5 358.6 988.2 558.5 835.8 385.0 887.1 266.5 918.5 595.3 958.8 288.1 911.4 274.4 1007 319.2 1109 439.0 840.2 483.5 862 614.1"/>
<path class="k13" d="M1279.2 487.9 1290.6 490.9 1261.1 472.6 1303.9 496.2 1278.8 525.4 1297.9 510.9 1254.9 469.7 1263.4 466.3 1298.8 466.0 1273.4 498.0 1303.3 446.3 1302.1 487.4"/>
<path class="k14" d="M1196.2 347.0 1187.7 364.1 1218.8 346.9 1215 344.6 1241.7 365.5"/>
<path class="k15" d="M891.6 599.2 833.7 587.2 787.7 464.0 821.4 572.3 787.2 481.8"/>
<path class="k1" d="M1269.3 173.8 1314.2 259.4 1413.7 323.5 1401 324.4 1400.9 306.6 1293.2 331.1 1289.1 177.7 1353.6 302.5 1363.8 463.6 1369.1 487.5 1351.6 258.0 1413.6 385.5 1409.3 333.1 1348.2 422.2 1293.2 185.6 1378.4 277.7 1313.9 305.5 1442.2 279.1 1384.9 510.9 1306.7 367.0 1361 164.3 1337.9 403.8 1421.7 259.2 1311.7 322.2 1350.9 389.1 1462.6 326.2 1367.9 402.0 1334.3 319.6 1396.3 484.5 1333.8 439.4 1424.9 319.0 1441.1 389.7 1403.1 440.7 1467.4 297.1 1355.3 374.1 1300 290.1 1386.3 248.7 1471.4 267.3 1263.8 167.3 1395.4 187.0 1340.9 270.2 1369.1 293.0 1377.4 396.0 1304.2 330.3 1326.4 280.9 1404.3 369.6 1458.1 335.3 1449.1 328.7 1292 375.9 1289.9 241.0 1392.1 238.3 1313.6 264.1 1385 269.4 1297.9 343.9 1401.5 317.8 1426.5 316.8 1298.5 226.4 1433.9 332.4 1370.8 298.3 1346.3 264.2 1352.2 414.6 1320.6 164.8 1375 495.5 1288.7 234.5 1414.2 263.8 1429.1 265.4 1390.2 203.3 1315.6 261.5 1303.5 345.1"/>
<path class="k2" d="M879.7 441.1 866.8 355.5 837.3 471.8 776.8 352.0 834.9 389.5 860.4 282.9 816.5 396.0 783 386.8 846.4 235.9 873.7 293.6 880.5 316.4 789.3 438.4 838.5 396.6 851.3 268.5 829.2 248.9 846.5 300.5 838.8 394.7 844.1 346.3 827.7 343.0 784.7 451.6 889.6 277.3 886.4 281.2 794.9 334.7 832.9 404.0 869.4 323.0 833.7 405.8 887.5 313.9 870.3 315.5 800.3 346.6 807.8 300.1 835.9 323.8 879.3 240.4 843.3 438.1 837.8 303.8 862.9 290.6 877 328.9 838.2 259.3 890.8 370.7 1044 332.0 823.9 339.2 815.6 332.2 830.5 268.4 783.7 335.4 824.2 319.4 819 282.4 810.1 289.3 796 356.2 844.2 370.8"/>
<path class="k3" d="M889.2 659.6 935.3 575.5 902.8 677.0 960.7 665.8 862.3 659.1 1001.2 721.2 954.4 552.2 878.8 665.7 845.9 654.3 957.3 705.7 886.2 675.0 892.8 540.5 982.1 663.3 902.5 655.1 972.3 731.6 917.9 652.5 943.4 706.7 843 655.6 929.7 676.0 1009.1 715.7 912.1 620.4 939.3 580.6 942.7 640.6 981.3 717.5 941.3 647.3 976 678.3 931.3 617.5 965.6 695.9"/>
<path class="k4" d="M963.8 196.7 941.4 255.1 921 131.2 1018.8 162.0 974.2 200.9 907 161.5 993 178.8 1036.4 108.4 971.7 254.2 1029.6 119.5 1029.4 101.7 930 222.6 1044.1 106.2 948.8 167.0 1040.6 109.2 1025.5 150.5 940.5 153.1 993 214.2 943.7 255.5 1013.1 113.6 956.1 202.6 997.1 153.1 997.4 206.1 946.2 221.1 1042.5 119.0 900.5 226.9 952.8 153.3 901.6 170.0 906.8 196.6 905.9 146.2 1036.5 112.3 988.2 228.5 942 177.7"/>
<path class="k5" d="M1118.5 458.2 1216.5 399.9 1234 511.2 1077.4 342.5 1221.9 468.3 1074.8 339.8 1225.5 523.5 1198.7 506.2 1212.2 423.5 1197.9 496.9 1183.2 457.2 1158.6 450.3 1150.4 513.1 1180.3 469.1 1161.5 523.0 1081.6 341.9 1202.9 488.0 1363 660.0 1076.1 338.9 1073.7 342.4 1159.8 452.9 1218.8 236.5 1197.4 411.6 1212.9 482.9 1233.1 434.2 1172.4 555.2 1317.4 216.4 1127.5 473.3"/>
<path class="k6" d="M1006.5 435.6 1004 617.1 1079.3 619.2 1059.7 625.8 1068.6 628.0 1042.4 635.8 1116.5 637.9 992.7 526.2 1127.1 627.4 1042.7 599.1 1142.8 644.2 1149.8 637.0 1080.3 603.8 992.9 632.9 983.7 475.5 855.7 473.8 889.4 454.6 1135.5 633.0 855.7 485.8 1006.5 631.7 894.6 522.8"/>
<path class="k7" d="M845.6 741.1 817 607.4 815.7 721.6 848 742.6 878.3 735.2 867.1 596.2 849.9 637.7 880.8 833.8 866.3 828.3 822.7 755.6 847.7 712.4 835 757.1 812.8 756.6 972.7 735.4 849.7 712.6 905.2 613.3 833 598.9 977 731.0"/>
<path class="k8" d="M1048.8 514.8 987.8 516.0 1095.8 535.3 955.5 470.7 1086.1 500.1 1055.6 443.6 1012.3 509.1 1031.1 550.4 974.6 553.7 1147.1 483.9 921.8 536.6 1081.2 495.6 1090.7 489.8 984.2 413.2 952.4 503.3 982.7 491.6 1047.1 521.2"/>
<path class="k9" d="M877.3 425.6 875 504.3 896.7 303.9 891.5 301.0 931.5 356.3 929.3 420.9 887 386.1 873 526.3 913.6 394.5 854.3 518.7 922.8 584.2 929.3 288.7 877.8 435.6 921 404.3 905.6 480.2 923.9 409.7 844 512.7 883.7 470.1 896.8 263.7 884.6 434.8 874.1 576.9 934.9 509.6 902.6 313.7 932 402.8 859.1 462.3 918.7 407.2 944.5 445.3"/>
<path class="k10" d="M1352.9 516.2 1400.7 583.4 1322.7 601.2 1284.2 622.0 1334.4 637.0 1357.3 600.8 1334.8 669.6 1329.4 627.8 1375.1 619.2 1384.8 644.5 1314.2 616.0 1278.1 628.6 1439.1 544.7 1301.3 608.5 1400.3 567.2 1299.9 638.6 1373.6 607.9 1294.6 642.1 1342.3 625.6 1405.5 589.0 1371.8 584.6 1365.9 661.5 1387.7 611.7 1328.8 627.8 1269.1 654.7"/>
<path class="k11" d="M1207.4 610.9 1357.8 503.0 1245.1 613.1 1340.3 528.2 1408 388.2 1387.7 497.0 1322 571.4 1378.3 495.5 1272.2 604.7 1368.3 499.5 1404.5 521.3 1210.9 620.1 1275.7 587.4 1212.9 567.2 1343.3 255.7"/>
<path class="k12" d="M806.7 602.1 995.3 297.4 1017.2 366.7 836.5 569.9 961.5 283.4 1026.2 333.0 896.6 516.2 876 548.6 875.2 317.5 878.1 308.2 878.4 306.2 925.2 514.5"/>
<path class="k13" d="M1286.7 520.2 1267.7 429.8 1289.8 443.4 1312.8 437.3 1295.9 476.6 1305.4 493.7 1302.4 429.3 1282.7 488.3 1263.8 324.2 1280.3 518.4 1286.4 522.0 1289.3 515.3"/>
<path class="k14" d="M1228.8 378.1 1206.6 326.2 1290 300.0 1206.5 341.0 1208.5 354.9 1237.2 329.4 1198.5 342.1 1215.9 327.5 1206.7 363.2"/>
<path class="k15" d="M818.6 497.9 817.3 579.8 877 589.6 829.3 538.2 900.9 589.5"/>
<path class="k1" d="M1463.7 275.6 1363.1 214.0 1391.1 219.7 1309.3 391.8 1324.4 445.5 1308.1 358.9 1401.1 489.9 1328.2 437.9 1331 479.9 1406.7 241.7 1432.1 262.6 1363.6 249.5 1421.8 242.0 1363.3 355.1 1467.6 292.3 1295.6 327.5 1281.8 166.9 1285.7 173.8 1401 286.3 1384.3 413.5 1374 249.5 1331.6 422.0 1321.8 240.7 1436.4 347.1 1416.2 276.4 1320.4 177.1 1419.9 329.1 1248.9 205.2 1349.1 246.9 1419 394.1 1255.7 207.7 1361.5 477.7 1341.4 204.8 1272.6 263.5 1383.6 486.7 1389.9 374.9 1340.4 219.2 1430.6 282.5 1364.4 281.4 1312.9 341.6 1304.3 268.8 1303.7 205.4 1292.7 343.0 1378.2 184.0 1398.1 329.1 1340.1 482.9 1394.2 306.4 1362.5 239.2 1352.3 456.0 1460.3 277.3 1281.7 282.7 1376 260.1 1463.1 286.6 1342.7 437.9 1474.8 296.9 1360.2 370.4 1357.6 393.3 1457.8 290.1 1349.2 376.1 1374.1 352.5 1360.1 374.5 1418.3 346.0 1375.2 203.8 1456.4 296.9 1317 287.1 1426.1 225.9 1312.8 340.6 1386.4 471.1 1389.7 410.5 1364 290.3 1430.6 393.0 1326.3 272.2 1320.4 308.4"/>
<path class="k2" d="M883.5 354.0 848 451.0 834.3 376.9 825.1 261.0 816.9 286.6 876.8 305.5 837.5 382.9 835.9 265.2 823.8 412.9 834.4 420.6 881.3 276.8 777.3 448.2 876.5 236.3 814.1 440.7 841.7 387.8 881.5 452.9 805.1 286.3 829.3 380.6 784.4 356.8 820.6 295.8 820.3 348.2 829.1 397.8 820.5 331.3 783.4 309.7 790.8 349.5 793 371.9 872.4 341.5 871.3 376.4 825.2 341.2 891.7 389.3 1142 308.0 878.8 321.5 763.8 338.8 831.3 412.0"/>
<path class="k3" d="M953.6 604.3 945.7 592.4 859.4 664.8 861.4 658.7 942 650.2 979 677.3 924.1 533.3 914.5 649.9 944.6 713.5 987.6 728.7 916.7 649.5 945.8 653.4 882.9 667.4 942.1 676.8 914.6 678.2 915.9 619.0 887 670.7 941.7 696.7 850.2 482.5 933.3 603.9 915.7 541.7 990.3 667.0 924 537.8 934.1 560.7 957.9 692.8 886.8 665.5"/>
<path class="k4" d="M985.2 233.5 1030.9 105.9 1006.5 252.6 987.5 132.3 1021 119.7 1013.2 211.2 1030.9 113.4 935.6 208.9 997.1 205.0 984.7 215.6 990.6 174.1 987.6 224.4 967.5 209.1 976.4 254.9 937.1 196.1 1012.8 119.4 1012.7 176.8 1040.3 108.4 981.7 204.6 1040.3 102.9 982.4 230.0 995.7 257.0 923.7 260.5 903.6 155.8 958.1 212.9 983.5 200.2 997.4 132.6 964.4 139.8 993.3 213.2 962.3 234.8 1039.3 105.3 899.5 218.0 1040.8 113.3 966.3 198.1 1001.4 139.3 965 140.4 939.2 210.8"/>
<path class="k5" d="M1238.6 224.8 1214.3 495.5 1200.1 491.1 1070.7 329.1 1345.5 452.8 1227.9 472.0 1219 445.0 1158.3 448.4 1236.6 586.3 1255.9 382.0 1284.5 316.6 1205.9 440.5 1213.6 546.6 1142.7 567.0 1233 423.2 1072.5 328.1 1204.8 532.5 1240.7 397.0 1216.6 424.6 1211.2 529.0 1233 504.0 1071.9 340.4 1237.5 450.8 1288.3 309.5 1144.7 480.5 1199.4 531.6 1237.2 214.0 1186.9 436.8"/>
<path class="k6" d="M1145 633.9 989.1 470.1 1123.5 639.9 932.8 555.2 997.8 632.4 1002.4 699.7 906 510.0 835.2 619.7 1027.9 657.2 894.1 548.2 1002.2 616.4 986.8 447.3 859.2 585.3 998.5 592.1 1049.3 572.0 967.7 576.1 1178.5 626.7 1129.9 635.3 1148.8 644.7 1107.6 628.4 890.9 572.7 999 497.1 960.7 500.5 1144.8 654.3 1028.7 593.5"/>
<path class="k7" d="M820 746.9 825 723.9 879.7 751.2 842.5 622.4 810.1 685.0 839 765.6 775.9 576.8 966.4 729.2 852.3 754.6 828.6 750.4 901.4 618.2 825.9 701.7 847 733.7 760.6 548.8 827.2 764.3 838.6 782.9 754 517.1 999.3 755.1 817.9 706.6 752 504.1 847.5 739.8 849 800.6 826 683.6"/>
<path class="k8" d="M1040.1 526.1 1010.8 565.9 1078.1 497.8 878.5 599.2 937.3 641.4 1059.7 370.0 1040.4 486.7 1043.6 472.8 947.8 436.9 979.1 325.0 1043.3 529.9 990.8 428.7 851.9 643.7 916.9 472.7 1052 529.8 1070.9 514.5 1052.2 473.3 1103.6 524.8 1012.6 532.2 892.6 562.6 967.8 524.5"/>
<path class="k9" d="M941.3 263.4 903.7 344.3 945.6 417.6 856.5 428.6 881 481.9 850.7 427.5 917.6 434.3 911 262.0 860.2 485.0 909.2 445.3 898 439.0 890.2 387.9 949.4 356.4 906.4 444.1 913.7 355.8 855.9 476.8 886.5 477.7 893.4 210.7 919 589.7"/>
<path class="k10" d="M1408.8 595.5 1443 546.4 1283.6 648.9 1323 639.9 1387.2 612.2 1368.1 668.7 1434 544.9 1376.9 641.7 1332.1 633.9 1369.3 608.8 1369.7 590.7 1336.4 635.5 1436.6 554.8 1344.1 673.5 1378.5 579.0 1289.2 610.6 1391.3 200.0 1299.5 610.6 1429.1 561.3 1323 636.9 1410.9 575.8 1334 616.7 1286.4 626.1 1327.3 577.1 1271.3 633.3 1424.9 557.3 1393.3 559.9 1354.9 675.5"/>
<path class="k11" d="M1281.3 565.4 1326.2 524.2 1283 569.0 1276.8 564.2 1273.7 532.2 1284.9 583.9 1240 610.1 1250 555.1 1317.1 520.0 1204.6 624.7 1222.2 571.8 1220.5 616.4 1278.4 595.5 1248.4 602.0 1355.5 488.1 1274.8 582.2"/>
<path class="k12" d="M788 529.9 876.9 436.2 913.3 385.4 891.7 476.5 879.2 519.2 933.8 453.1 882.3 506.2 864.4 402.9 897.1 266.2 914.8 546.6 947.5 303.4 1005.9 371.3 927.7 338.3 943.2 449.0 851.6 473.0"/>
<path class="k13" d="M1304.6 511.2 1289.3 474.8 1320 655.0 1268.8 501.5 1263.2 480.6 1285.9 433.8 1268.6 438.4 1286.6 509.0 1312.5 448.2 1298.6 470.2 1298.3 441.2"/>
<path class="k14" d="M1244.3 336.7 1218.6 338.8 1235.6 325.8 1251.1 368.2 1248.5 339.6 1209.2 369.8 1220.6 376.6 1228.4 326.0 1239.4 340.7"/>
<path class="k15" d="M778.2 501.4 855 558.1"/>
<path class="k1" d="M1323.6 189.8 1378.4 424.9 1442.2 313.4 1352 460.5 1262.8 544.6 1411 394.8 1409 211.5 1385.2 492.4 1327.6 439.9 1364.1 396.6 1315.1 363.8 1339.5 341.5 1406.9 466.8 1367.8 274.3 1421.7 216.3 1424.6 302.8 1456.5 326.6 1356.1 187.8 1333.9 408.8 1392.3 261.8 1297.5 246.3 1339.1 308.6 1341.1 264.9 1376.7 223.2 1267.3 162.2 1352.8 262.4 1338.7 285.3 1409.7 360.1 1377.7 230.1 1347.3 328.5 1300.1 337.9 1336.5 349.7 1353.1 463.0 1277.7 348.9 1274.9 183.5 1373.7 336.1 1357.8 488.6 1336.1 376.9 1350.9 372.4 1442.5 255.0 1308 412.3 1366.7 300.0 1427.2 305.6 1386.8 465.1 1453.7 258.2 1314.5 181.0 1424.3 393.5 1343.7 422.0 1461 314.1 1415.2 242.1 1403.2 309.4 1325.4 258.2 1412.1 256.7 1408.7 430.1 1393.1 300.4 1435 316.1 1381.2 232.2 1358.5 229.4 1419.2 320.2 1281.3 337.4 1355.1 160.0 1368.1 262.1 1382.4 272.7 1418.1 225.3 1326.7 301.8 1350.9 254.3 1347.5 174.5 1451.7 268.6 1405.7 482.9 1346.7 375.6 1315.7 379.8 1190 406.0 1442.6 348.6 1349.4 264.4 1291.9 167.5 1386 292.5 1284.4 190.1 1206.4 237.7 1336.6 372.7 1427.4 219.7 1396.5 200.2"/>
<path class="k2" d="M791.4 370.4 797.2 391.5 872.5 214.0 792.6 401.1 842.8 271.4 799.7 346.3 792.6 332.7 809.2 318.4 870.9 255.2 775.6 317.5 786.4 456.4 796.4 347.6 871.4 265.1 827.3 411.5 818 308.1 790 393.8 838.5 261.0 804.7 406.1 813 346.7 851.3 326.5 826.3 409.4 831.9 379.8 842.8 362.7 891.1 378.5 817.2 409.1 883.7 308.0 895.7 453.7 891 184.2 842.6 462.4 823.6 255.4 798.9 338.1 825.1 431.2 909.1 298.0 852.9 250.3 880 307.9 796.7 379.8 829.6 399.3 804.2 290.3 880.6 260.3 836.2 332.8 829.1 276.0 864.1 256.9 815.9 254.2 846.8 360.6 779.6 338.4 802.8 389.2 819.3 378.4 859.2 401.9"/>
<path class="k3" d="M938.7 708.7 941.1 669.2 957.5 683.1 922.3 635.0 870.8 665.1 865.2 672.6 875 518.8 941 596.6 907.3 619.9 986.7 544.6 1000.2 709.3 910.7 675.6 850.1 666.6 984 650.3 860.6 658.1 879.4 669.2 929.9 667.5 949.8 684.8 850.3 659.2"/>
<path class="k4" d="M1036 109.6 984.4 136.2 975.7 226.8 978.1 155.7 930.6 212.8 902.3 211.1 955.4 158.2 902.7 193.3 1034.6 109.7 996.1 173.9 1016.7 231.5 922.1 248.2 878.3 252.2 1049.2 110.2 977.1 187.1 1045.9 104.6 903.9 227.4 931.5 165.0 1011.3 132.6 1043.7 104.5 983.2 260.6 944.3 160.1"/>
<path class="k5" d="M1248.1 441.3 1162.8 447.0 1170.6 446.7 1259 297.9 1135.1 457.2 1197.7 511.4 1288.9 454.3 1230 489.3 1240.8 216.0 1227.9 218.2 1255.8 425.1 1169.7 523.5 1224.4 222.9 1169.8 501.9 1087.8 341.2 1142.5 491.2 1217.5 438.0 1165.6 534.7 1164.5 502.5 1219.1 502.3 1234.8 494.3 1161.5 521.1 1186.4 511.4 1289 256.3 1070.5 333.1 1125.3 468.5 1233.9 217.3 1230 217.0 1221 410.4 1243.4 441.2 1071.9 333.4 1279.4 455.5 1238.6 530.1 1173.3 540.6 1228.9 219.2 1240.4 532.0 1175.2 495.6"/>
<path class="k6" d="M1063.9 620.0 899.5 569.9 963.8 490.5 1017.9 597.6 1116.3 634.5 1156.5 644.6 929.2 536.4 1018.2 646.5 1037.3 621.9 968.7 519.1 1070.1 618.8 1032.4 622.5 936.3 483.8 1002.5 627.7 992.6 624.0 1112.1 627.7 1118.4 631.4 1001.2 685.9 985 616.9 936.5 548.4 997.5 549.7 928 509.1 976.7 542.3 844.9 612.0 992.5 555.2 1108.2 634.4 999.8 489.0"/>
<path class="k7" d="M850.7 745.7 876.9 760.1 835.5 621.7 953.8 759.0 857.2 802.6 1028 796.7 868.6 834.1 859.9 761.9 993.3 735.7 841.8 630.8 844.6 767.7 944.2 765.8 839.1 763.7 959.8 747.5 828 780.7 851.9 635.5 897.1 765.7 765.2 549.0 1026.7 790.1 848.1 720.6 847.6 737.8 811 728.8 853.8 715.8 830.7 615.1"/>
<path class="k8" d="M1031.6 558.1 1172.8 519.0 1115.3 490.1 1071.1 494.3 1000.5 530.9 1001.7 525.6 1106.9 489.0 1064.5 510.1 999.6 543.4 987.4 500.6 1074.2 488.7 1044.5 496.4 1048.5 553.7 1057.8 543.5"/>
<path class="k9" d="M941 291.4 911 439.1 916.3 342.0 886.3 446.4 864.4 512.5 910.3 298.9 924.6 512.2 842.1 476.3 956 360.8 950.4 442.5 893.5 538.9 887.1 490.1 855.2 471.3 933.2 276.7 924.4 389.6 874.6 623.3 886.5 194.4 950.2 314.8 883.9 392.6 875.5 430.1 908.1 354.1 893.9 344.3 864.4 462.4 873.3 441.2 932.6 293.0 931.9 288.2 886.7 438.4"/>
<path class="k10" d="M1288.1 620.9 1377.2 583.9 1405.4 608.3 1380.9 610.7 1395 540.0 1331.8 679.5 1328 585.2 1286.2 645.9 1431.5 546.5 1268.6 643.5 1395 608.7 1277.6 647.0 1418 533.0 1358.8 647.0 1330.9 627.9 1404.1 592.9 1386.4 514.1"/>
<path class="k11" d="M1247.3 610.7 1277.9 603.8 1269.2 581.1 1362.8 494.6 1268.7 559.1 1237.3 600.4 1252 572.1 1281.3 575.0 1270.2 620.5 1309.6 260.1 1303.4 568.7 1212.8 603.3 1221.1 585.6 1259.7 558.7 1312 541.3 1275.1 582.7 1237.8 565.0 1273 594.0 1327.4 516.3 1216.7 614.0 1259.8 601.6"/>
<path class="k12" d="M952.4 310.1 893.5 517.2 1015.1 434.4 893.2 336.9 969 618.3 969.1 374.4 938.4 542.6 866.3 522.6 919.5 573.4 916.2 406.2 945.2 414.4 907.7 511.6 1007.7 441.2 956.3 336.6 925.8 303.4 964.3 394.6 869 279.8"/>
<path class="k13" d="M1292.6 484.9 1291.9 470.9 1278.9 451.5 1311.4 438.4 1267.9 455.3 1286.2 454.4 1292.5 477.0 1270.3 476.9 1277.3 430.3"/>
<path class="k14" d="M1237.7 326.2 1209.7 352.1"/>
<path class="k15" d="M857.5 578.1 847.6 560.1 781.4 510.0"/>
<path class="k1" d="M1260.1 448.3 1431.5 326.1 1358.7 210.0 1418.1 205.2 1448.3 319.1 1347.4 327.2 1286.2 325.7 1418.3 343.5 1328.1 176.7 1296.7 335.6 1380.3 434.2 1410.5 264.7 1377.5 501.8 1242.7 205.5 1313.8 248.7 1287.7 296.8 1367.8 479.0 1433.1 388.4 1333.6 453.7 1271.4 181.6 1403 315.1 1290.7 239.9 1313.7 222.2 1291.2 268.1 1317.8 370.7 1277.5 199.9 1308.8 255.3 1389.9 389.5 1314.9 254.5 1331.3 372.6 1314 352.5 1376.4 408.7 1381.6 238.4 1354.8 405.5 1464.5 246.7 1416.7 300.4 1416.3 369.5 1140 436.0 1264.7 194.5 1413 403.9 1311.4 283.3 1433 374.9 1453.3 290.9 1378.4 346.0 1353.5 255.7 1332.3 247.1 1332.3 257.9 1455 272.7 1396.8 483.9 1387.9 185.9 1402.4 400.6 1392.1 341.1 1326.6 431.3 1377.7 207.0 1332.1 485.2 1310.6 318.8 1330.1 344.1 1285 252.5 1395.6 331.8 1363.7 297.1 1415.7 321.0 1307.8 412.1 1347 582.0 1442.8 332.1 1294.5 204.7 1349.3 392.8 1413 293.7 1350.9 313.1 1280 259.9 1306.8 355.9 1383.4 435.5 1403.2 286.7 1363.3 428.8 1295.7 256.4 1346.5 324.8 1363.5 400.3 1373 317.6"/>
<path class="k2" d="M828 391.2 811.6 266.6 875 363.7 909.4 368.3 864.8 276.8 883.9 352.8 890.3 311.1 831.9 417.5 781.1 371.9 817.3 428.5 843.5 367.2 876.6 268.7 779.8 347.1 800.9 353.1 811.9 291.9 795.1 392.3 798.7 336.3 886.3 315.1 811.6 282.3 792.3 358.4 817.6 263.1 834.3 311.6 874.1 315.5 860.6 343.3 868.9 354.6 834.1 366.2 830.6 309.1 843.7 238.5 787.9 347.9 801 312.7 792.6 414.8 861.5 332.2 833.8 335.2 798.4 309.8"/>
<path class="k3" d="M928.8 691.5 944.9 724.6 954.7 636.8 996.4 666.3 888.4 667.8 935.5 637.1 942.1 524.3 986.3 680.0 931.6 637.4 949.5 691.7 937.5 665.7 912.2 562.5 842.6 661.5 972.5 589.4 956.3 643.7 960.6 693.8 934.6 510.7 911.5 681.3 922.2 668.0 866.9 505.9 973.7 667.4 859.7 660.4 991.3 656.7 914.9 683.0 868.4 658.7 900.8 559.5 959.4 685.0 953.1 721.1 896.3 671.9 918.6 670.5 924 675.0 944.1 545.2 886.7 669.6"/>
<path class="k4" d="M970.4 146.1 939.2 146.7 918.3 284.2 886.5 171.2 1050.4 94.1 958.9 155.3 895.9 166.6 987.3 196.6 921 202.9 990.6 152.8 993.8 188.2 985.1 256.9 994.5 194.5 990.9 256.2 949.9 199.3 909.3 182.2 1010.7 143.3 992.6 221.2 985.6 214.6 959.8 135.6 1047.4 111.0 992.9 140.1 1029.1 105.4 983.8 172.8 937.5 255.1 1013.3 170.7 962.1 149.6 1038.7 94.8 967.9 161.6 1034 111.2 1002.9 182.3 992.2 233.1 1034 196.0 979.7 221.0 1043.3 109.4 991.6 196.8 1036.5 95.8 960.6 239.4 965.7 262.1 1022.9 212.7 1003.5 142.7"/>
<path class="k5" d="M1123.8 465.5 1079.7 342.0 1261.3 299.9 1270.7 234.3 1202.5 428.9 1148.2 453.1 1150.1 493.1 1214.6 494.7 1186.1 519.7 1079.2 331.3 1208.5 481.6 1180 581.5 1229.6 217.4 1179.8 421.3 1179.3 493.0 1075.8 337.2 1226.2 437.4 1162.4 533.6 1206.4 459.6 1122.5 463.0 1203.8 536.3 1223.1 401.5 1239.8 229.0 1275.4 458.4 1222.2 426.4 1174.5 417.5 1139.7 497.7"/>
<path class="k6" d="M1044.6 601.1 1138.8 630.8 1024.6 638.4 925.8 474.6 1071.6 610.0 978.4 489.0 949.6 425.1 1000.7 512.3 911.4 555.7 1022.7 606.4 1119.6 643.2 960.4 493.9 1016.8 617.9 1139.2 650.2 932.9 464.9 894.7 467.7 1059 614.6 903.6 481.6 1100.5 618.0 1005.8 686.1 911.8 472.4 1039.6 641.8"/>
<path class="k7" d="M873.6 727.6 910.4 727.2 830.2 720.4 911 761.0 885.1 721.2 876.3 838.0 831.7 744.4 988.2 752.2 870.6 726.2 1011.3 739.4 837.7 714.3 1002.6 741.7 869.1 620.2 763.9 563.5 985.4 759.6 844.9 796.9 774.7 575.6 917.4 622.1 907 722.4 870.4 746.3 1020.2 790.2"/>
<path class="k8" d="M1058.2 499.2 1076.7 547.7 910.3 534.5 1046.1 497.3 1024 534.5 1108.9 511.7 1104.9 575.5 1007.1 552.6 909.5 342.5 922.9 382.5 958.5 415.3 1042.9 523.1 1059.8 519.7 1017.1 558.7 910.5 582.4 988.5 362.3 1105.6 515.6 1005.1 500.9 971.2 646.5 1045.9 472.1 1047.5 487.5 1005.5 490.4 884.1 640.3"/>
<path class="k9" d="M880.8 474.3 856 463.9 891.1 298.0 849.4 483.6 890.3 500.6 895.5 444.4 927.2 516.7 916 453.2 901.3 401.5 1343 275.0 895.4 280.6 893.5 368.8 921.6 324.2 916.8 479.5 925.2 345.7 867.4 476.4 922.4 330.7 904.5 466.8 915.6 232.8 939.9 216.4 911 433.3 919.3 234.1"/>
<path class="k10" d="M1379.6 604.4 1369.8 647.9 1300.9 635.1 1352.2 672.5 1273.3 649.3 1296.4 640.9 1367 658.7 1397.4 599.5 1374.2 568.0 1338.9 627.0 1370.3 633.6 1353.2 623.7 1354.8 593.6 1414.1 537.3 1334.3 584.1 1353.1 656.9"/>
<path class="k11" d="M1262.9 634.8 1380.7 490.1 1220.2 605.1 1246 566.5 1307 552.4 1354.7 530.5 1333.9 480.3 1254.8 597.7 1377.1 507.3 1382.3 523.2 1281.1 544.2 1268.9 556.3 1273.9 593.3 1197.6 634.3 1273 605.0 1270.7 598.6 1317.4 553.0 1264.1 617.8 1198.3 641.2"/>
<path class="k12" d="M882 546.8 912.4 290.0 874.3 286.7 1085 399.0 883.5 489.0 971.8 289.2 1004.2 396.8 874.7 460.3 922.5 429.2 786.4 498.0 941.5 579.3 999.4 447.2 1006.5 393.6"/>
<path class="k13" d="M1286.8 510.1 1265.8 460.1 1276.1 512.8 1290.4 436.1 1306 483.6 1289.5 442.0 1270.2 483.8 1266.8 469.3 1296.3 484.0 1287.2 497.8 1296.1 446.5 1306.8 419.0 1291 517.3 1397.3 425.4 1296.4 485.5"/>
<path class="k14" d="M1229 350.6 1200.9 358.8"/>
<path class="k15" d="M775.5 460.1 782.1 504.7"/>
<path class="k1" d="M1368.6 461.5 1356.9 472.2 1416.1 339.6 1331.4 194.7 1377.7 488.1 1294.5 324.4 1266.1 330.4 1353 255.9 1265.5 493.0 1335.7 307.4 1350 263.8 1363.8 404.8 1445.5 242.5 1384.9 187.2 1456.2 283.3 1380.5 475.5 1384.8 370.2 1353.1 282.5 1434.7 351.5 1345.1 170.8 1421.9 352.1 1389.2 475.6 1314.2 354.1 1312.3 350.5 1378.8 394.5 1271.8 216.8 1354.7 304.8 1463.7 299.8 1397.5 351.4 1367 453.3 1326.3 154.2 1410.9 213.3 1337.1 277.5 1378.7 183.1 1305 372.6 1322.3 297.5 1305.2 335.9 1354.3 238.0 1450.1 262.5 1423 280.7 1430.7 299.2 1309.7 330.7 1318.2 290.3 1339.9 465.2 1390.5 347.9 1324.7 397.2 1347 312.8 1322.5 362.7 1440.2 294.0 1338.7 354.6 1441.4 313.2 1380.9 234.4 1418.3 347.9 1331.5 263.9 1326.4 266.7 1231.9 268.0"/>
<path class="k2" d="M838.8 340.5 862.8 268.2 867.9 281.2 810.4 251.7 811.1 406.9 827.5 269.1 855.8 233.8 811.5 316.1 809 346.3 853.7 236.1 829.7 380.2 888.8 313.8 786.2 299.1 790.8 453.3 914 273.1 868.2 315.4 877 469.7 844.8 263.8 769.6 323.5 822.4 254.8 848.1 387.4 816.7 440.9 798.9 388.0 893.2 270.7 816.6 319.2 813.4 357.4 738 365.0 790.2 378.6 782.4 374.3 790.3 357.5 837.4 308.0 892.2 336.0 896.7 447.0 812.7 377.5 831 259.5 849.7 256.3 847.9 244.1 848.7 307.5 805.9 253.0 814.8 377.4 785 284.7 824.3 285.1 817.3 342.1 804.5 407.1 875.1 447.7 857.7 307.2 893.1 381.6"/>
<path class="k3" d="M934.7 694.8 965.1 659.1 988.2 729.3 947.2 590.2 974.8 672.8 949.5 575.2 918.1 544.1 914.3 737.8 968.8 698.8 922.9 649.6 949.8 651.1 962 653.3 925.9 669.7 931.6 605.7 850.2 667.1 945.9 499.3 919 638.2 935.9 586.5 933.9 658.4 904.8 661.0 942.1 697.2 934.5 550.7 965.9 611.7 965.7 543.7 893 660.3 908.9 528.2"/>
<path class="k4" d="M985.7 201.4 921 271.4 935.1 247.3 902.1 176.7 998.1 206.5 1035.4 119.1 955.8 137.5 1037.6 111.4 971.6 231.2 1004.9 126.4 969.7 223.2 990.1 199.1 921.4 191.5 939.2 236.2 1045.4 116.1 922.5 204.1 963.2 166.2 961.9 233.1 917.3 137.3 923.8 221.3 1003.6 207.8 935 175.5 941.5 146.3 969.7 251.9 1040.9 108.7 1045.9 126.5"/>
<path class="k5" d="M1252.5 305.8 1080.5 328.5 1186.8 494.1 1178.8 415.7 1239.9 511.4 1466 335.0 1257.7 511.0 1218.6 497.8 1174.1 517.5 1113.6 561.5 1258.5 289.6 1211.2 465.5 1197.5 491.4 1194 445.9 1282.1 261.7 1199.8 545.6 1228.2 423.1 1224.9 486.6 1233.5 501.0 1183 536.1 1080.5 344.2 1228.7 227.1 826 310.0 1262.6 479.0 1215.7 494.1 1198.4 500.4 1246.3 421.4 1207.8 394.5 1137.9 467.5 1230.8 557.2 1186.7 515.4 1180.3 523.2 1194.6 468.0 1263.6 481.0"/>
<path class="k6" d="M1173.9 640.5 1105.7 626.7 1041.6 592.6 1137 643.1 987 519.1 1173.8 649.6 1154 390.0 840.5 636.4 1037.7 600.5 993 539.7 1126.3 632.8 1115.2 646.1 1105.4 616.1 1039.4 621.3 944.1 538.7 1129.3 600.1 912 541.4 1007.5 441.5 945.9 569.0 1020.3 661.0 1027.6 421.1 997.8 552.7 1105.6 625.7 944.4 502.2"/>
<path class="k7" d="M816.8 700.0 902.5 735.4 875.4 743.2 872.6 578.9 854.8 643.9 932.6 621.1 854.2 643.1 882.5 692.7 955.3 745.3 766 541.7 815.6 685.3 756.4 557.3 952 741.3 756.1 523.8 968.2 741.0 992.7 757.8 821.5 578.1 877.5 718.4 835.3 715.3 839.7 751.2 830 625.2 844.7 725.1 977.4 748.4 854.6 810.1 739.6 548.8 990.9 654.5 899.7 744.3 859.7 724.4 869 748.9 841.6 741.5 986.9 732.5 854.8 809.4 754.8 564.0"/>
<path class="k8" d="M1016.8 564.9 1159 540.8 1015.3 472.3 1040 340.4 1015.3 349.3 1073.4 503.3 1076 450.0 1057.9 535.2 946.4 324.3 1088 510.3 931.5 619.1 1050.5 462.2 1094 474.0 1043 398.0 875.2 637.0 967.7 354.0 972.7 321.7 1044.5 548.2 1111.6 483.4 1071.8 550.3 1054.6 536.5"/>
<path class="k9" d="M895 401.8 944.4 343.1 896.9 542.4 868.1 514.7 937.2 436.3 898.2 490.9 923.5 259.9 895.3 537.0 861.8 431.6 895.5 525.4 881 226.4 888.9 528.9 888.9 427.1 927.4 423.5 914.3 357.2 886.1 441.6 938.2 395.2 917 317.6 903.8 252.2 933.8 457.2 908.1 444.5 880.7 509.5 917.2 385.2 917.9 367.8 945 394.4 880.6 420.4"/>
<path class="k10" d="M1303 639.5 1392.8 605.8 1272.9 631.7 1359.5 538.2 1333.3 607.7 1347.1 663.5 1406.7 577.9 1439.4 549.5 1343.3 666.6 1272.5 661.2 1266.6 661.6 1268.5 657.3 1404.6 599.2 1348.1 668.1 1342.5 625.0"/>
<path class="k11" d="M1273.9 551.6 1228.5 576.4 1271.4 569.9 1217.9 630.5 1305.5 534.8 1250.8 549.3 1276.3 525.9 1250.1 576.1 1267.8 601.8 1258.5 591.5 1255.9 623.1 1239.8 586.1 1280.4 601.6 1237.6 613.6 1421.4 403.0"/>
<path class="k12" d="M853.5 436.6 994.8 412.8 928.6 372.6 863.6 530.4 1165 441.0 874.6 370.3 938.2 472.9 1022.3 402.2 920 494.3 956.8 604.8 918.6 541.2 910.5 279.0 990 435.5 953.8 427.0 856.5 545.5 831.3 262.7 1028.3 343.7 960.1 593.4 951.7 401.4 1000.8 259.6 925.3 351.3 964.5 288.4 934.6 416.6 1001.5 350.2 1009 217.0"/>
<path class="k13" d="M1288.2 518.5 1270 477.5 1290.4 424.9 1289.9 483.0 1286.4 455.6 1286.1 472.7 1299.2 461.6 1269.7 485.9 1302.4 411.8 1300.5 440.5 1288.6 520.8"/>
<path class="k14" d="M1256.5 353.3 1201.7 365.3"/>
<path class="k15" d="M814.9 590.6 818.6 569.3 825.6 574.8 848 596.4 860.1 574.7 802 466.8"/>
<path class="k1" d="M1389.6 472.3 1376.5 379.7 1302.2 352.7 1348.8 475.3 1397.5 402.0 1293 223.1 1430.6 324.4 1445.8 319.7 1441.8 321.1 1306.9 293.9 1283.8 223.7 1345.4 229.1 1359.3 199.8 1335.8 213.6 1362.7 220.1 1385.7 238.0 1364.2 478.1 1333 269.4 1365.6 214.5 1394.8 200.9 1341.4 375.4 1465.3 281.5 1357.2 391.7 1413 314.1 1327.1 302.2 1401.3 314.5 1448 347.0 1315.1 268.1 1337.9 194.8 1403.6 317.4 1386.6 247.4 1328.9 388.1 1417.1 309.5 1438.2 322.1 1383.3 343.2 1402.8 275.9 1254 195.7 1455.7 274.0 1318.8 178.9 1357.9 176.6 1391 422.4 1288.3 184.2 1257.2 182.5 1458.7 265.2 1398.1 347.2 1383.2 198.1 1401.5 277.3 1394.4 232.5 1409.6 286.3 1396.1 235.2 1362.1 210.9 1377 211.6 1361.4 219.4 1395.5 396.0 1374 228.6 1431.3 340.5 1376.3 482.6 1377.9 164.9 1313.6 249.5 1279.7 314.5 1424.8 258.1 1318.2 432.3 1267.5 208.1 1322 315.2 1414.6 337.2 1421.2 251.7 1271.4 260.9 1455.8 325.5 1413.2 359.6"/>
<path class="k2" d="M853.6 264.9 868.5 248.3 879.7 296.9 838.1 283.7 784.1 411.4 860.7 261.8 771.7 287.9 850.2 374.0 803.2 285.4 821.2 272.4 838.3 287.6 795.9 308.2 816.3 259.9 885.7 298.6 886.9 282.1 827.4 373.2 811.6 341.2 808.1 447.9 891 460.9 774.6 412.3 822.9 305.2 792.5 407.4 830.7 365.3 791.8 316.3 886.1 419.1 869.1 285.3 808.7 270.7 798.3 347.4 898.9 371.2 871.5 277.6 806.8 356.4 842.2 305.9 781.5 333.1 868.6 271.5 792.2 349.1 864 276.5 821.3 288.6 879.9 286.5 764.9 462.8 870.8 366.5 855.6 294.8"/>
<path class="k3" d="M975.4 669.4 939.9 717.6 890.9 664.3 976.4 689.8 861.9 483.5 930.6 539.0 949.1 595.6 946.5 656.3 921.7 584.7 950.8 523.3 979.2 616.5 895.6 655.8 965.7 512.0 862.3 664.5 973.8 688.0 886.5 663.3 963.4 685.3 970.2 632.9 898.4 667.9 958.7 623.2 965.1 535.4 908.5 682.5 952.9 545.2 947.1 670.1 941.7 584.0 974.7 612.6 912.4 721.9 942.8 537.1 951 645.8 993.1 723.1 923.9 702.3 936.9 661.7 953.2 685.9 922.3 628.7"/>
<path class="k4" d="M1010.7 168.6 1020.3 134.2 1039 108.5 940.6 206.3 997.7 196.9 1047.9 108.1 988.3 169.4 967.3 219.6 1037.2 123.4 926.6 224.3 1034.6 117.5 897.4 242.6 1042 109.5 982.2 250.6 1042.9 114.5 915.5 202.0 1043.5 104.7 1042.4 115.8 899.1 166.1 925.6 210.0 941.2 178.6"/>
<path class="k5" d="M1336 160.0 1226.3 421.7 1254.5 480.7 1058 332.0 1198.4 507.1 1280.5 264.9 1233.5 424.3 1238.1 494.8 1169.9 532.5 1171 527.8 1265.2 291.2 1235.3 497.8 1078.7 327.0 1150.7 489.2 1168.8 551.8 1247.2 493.8 1218.9 542.0 1179.8 515.2 1236.4 221.6 1220.7 404.4 1368.4 429.5 1245.6 441.0 1162.6 490.0 1243.6 522.6 1128 413.0 1251.1 505.7 1238.8 227.6 1314 410.4 1189 543.5 1123.1 559.1 1281.9 227.2 1211.7 456.1"/>
<path class="k6" d="M1140.1 608.5 1094.3 598.9 1014.7 453.2 1122.6 613.8 1046.7 433.3 943.7 604.0 860.2 587.8 996.9 450.9 1002.9 601.3 1029.8 622.4 1041.4 643.1 1006.3 628.2 902 447.2 1018.5 599.2 1157.1 582.7 1033.5 639.7 935.3 538.3 886.3 454.1 975.6 500.1 1027.5 596.0 864 596.4 1079.7 576.3 1115 597.6 1039.4 599.1 1000.8 675.4 989 471.1 902.4 530.9 942.3 487.0 1042 639.6"/>
<path class="k7" d="M867.6 689.5 742.3 563.0 868.5 821.3 862.1 813.7 857 753.3 871.5 750.3 868.5 758.7 827.6 694.7 848.5 737.9 1001.8 742.5 840.3 759.0 940.6 624.1 754.5 567.0 978.7 747.5 842.1 614.3 875 740.8 864.6 713.2 868.9 722.9 764.6 550.0 986.4 743.2 844 744.3 833.4 710.7 1022.3 783.4 873.1 827.5 823.7 621.9 1027 792.2 877.5 827.6 905.7 720.0 966.2 764.4 876.3 723.2 866.4 824.8 906.8 748.0 991.9 744.7"/>
<path class="k8" d="M1064.1 524.0 1037.1 533.1 1010.6 508.8 988.7 405.6 1100.6 480.7 993.3 533.7 974.3 465.4 947.8 347.3 1118.9 506.1 1013.5 500.1 1041.2 405.8 978.8 500.5 1056.4 488.5 1066 533.8 912.1 353.4 935 366.3 1100.5 491.6 1004 537.3"/>
<path class="k9" d="M926.5 227.1 951.6 272.8 951.6 418.4 928.2 385.3 913.8 443.2 863.4 570.5 879.3 229.7 851.6 563.6 843.3 528.6 860.9 593.0 942.8 394.8 924.9 358.6 943.5 353.3 897.4 214.1 1030 237.0 888.4 516.8 905.5 348.2 898.6 588.9 960.1 587.7 874.9 447.8 937 390.5 934.9 502.8 951.6 646.6 903.4 576.3 888.2 514.0 879.2 385.0"/>
<path class="k10" d="M1343.2 631.1 1316.4 618.0 1388 613.1 1335.6 623.8 1364.4 661.2 1379.1 610.5 1302.6 619.2 1323 639.6 1386.8 588.2 1321.9 604.5 1383.4 607.5 1408.3 593.2 1403.4 513.5 1311.9 642.2 1350.3 664.0 1312.4 635.3"/>
<path class="k11" d="M1287.5 561.3 1250.8 576.0 1288.4 598.4 1171.7 605.8 1403.6 490.5 1283.4 617.4 1382.3 510.9 1222 642.4 1388.5 507.8 1244.7 619.3 1221.5 598.9 1236.8 565.1 1244.9 573.8"/>
<path class="k12" d="M945 316.0 937.5 322.5 988.2 276.4 1026 245.0 895.3 435.5 897.1 438.8 846.2 576.3 994.9 417.7 892.9 368.9"/>
<path class="k13" d="M1261.7 459.1 1271.5 475.8 1272.9 482.8 1312.3 452.5 1301.2 475.1 1318.1 442.0 1308 456.1 1250.5 483.1 1304.9 422.8 1297.6 512.1 1301.4 508.0 1281.2 418.7 1287.8 414.9"/>
<path class="k14" d="M1205.9 346.5 1190.5 359.8 1241.3 350.4 1232.8 320.7 1236.9 349.6 1241.1 337.8 1227.7 334.7 1209 319.8"/>
<path class="k15" d="M763.6 483.2 841.5 594.8 820.5 512.7 821.5 551.2 909.6 580.5"/>
<path class="k1" d="M1403 349.8 1448.5 314.0 1278.2 228.8 1313.3 227.1 1469.7 272.2 1333.6 347.8 1369.7 258.8 1272.8 205.9 1333.3 289.1 1245.7 394.6 1290.9 283.8 1323.1 270.9 1315.7 420.2 1335.7 304.1 1378.5 281.2 1357.1 234.8 1400.2 288.9 1360.7 409.3 1354.4 208.8 1299.8 262.8 1180 262.0 1356.8 306.6 1296.9 289.2 1348.4 357.7 1278.6 272.3 1333.3 243.6 1343.7 229.9 1458.2 286.6 1223.7 256.6 1222.5 259.7 1294.8 206.2 1438 301.1 1352.4 189.3 1346.1 474.7 1351.5 481.7 1396.9 343.3 1329.9 409.0 1300.1 355.1 1313.9 364.1 1413.6 399.4 1282.8 269.7 1452.6 288.5 1375.9 388.2 1331.6 434.0 1442.5 246.5 1434.8 228.9 1343.1 276.7 1407 216.3 1373.9 346.4 1353 249.7 1302.1 343.3 1419.3 421.1 1332.1 322.1 1379.3 220.1 1421.9 340.5 1342.7 225.0 1345 372.6 1286.9 347.8 1291.2 316.9 1312.6 187.2 1354.3 302.2 1330.3 326.1 1333.3 341.7 1361.5 360.4 1336.8 302.1 1339.9 282.2 1297.5 198.1 1375.9 493.9 1307.1 350.3 1346.7 464.1 1393.2 448.7 1319.8 256.2 1300.7 309.1 1346.4 370.9"/>
<path class="k2" d="M811.7 363.7 852.4 242.8 844 269.9 827.1 408.9 807 311.1 781.1 307.5 808.3 370.7 811.5 306.4 876.2 280.9 862.1 379.1 892.7 414.5 809.2 307.3 882.6 333.8 810.9 350.3 792 409.7 813.8 394.3 788.3 412.8 863.2 319.6 890.1 319.2 781.8 327.6 903.1 384.8 821.9 409.1 852.2 382.6 843.2 325.3 862.6 283.6 896.6 419.1 790 427.2 827.8 327.5 866.4 353.8 783 359.1 882.2 363.6 859 288.6"/>
<path class="k3" d="M934.9 700.0 933.6 662.9 979.8 589.5 931.9 712.1 931.1 671.6 987.7 539.9 968.1 688.9 928 615.5 969.9 657.4 964.1 616.9 980.4 685.5 944.7 712.3 971.5 727.4 961.4 608.3 866.5 657.2 956.2 714.9 955.9 600.0 970.2 627.6 1006.5 656.5 897.6 671.5 975.9 722.6 841 663.0 908.2 513.8 953.5 562.4 880.6 647.7 938.5 703.3"/>
<path class="k4" d="M922.3 268.3 923.7 214.4 934 258.0 1029.8 190.8 1036.6 110.2 928.2 170.6 996.2 264.1 1051.6 128.9 877.3 228.2 981.9 252.1 941.1 176.7 1044.5 118.3 919.7 203.6 990.4 184.6 908.9 185.1 934.8 139.3 936 209.7 982.2 162.7 930.3 154.2 1048.3 119.7 972.1 158.1 960.1 151.7 920.6 220.2 1037.8 102.4 989.1 251.1 1030.1 110.9 976.3 149.9 1036.8 104.8 926 201.4 927.9 206.2 1045.5 124.0 892.8 203.1 975.5 166.7 929.7 251.9 1045.5 109.2 934.3 162.7 935.9 169.9 1032 117.4 942.1 234.3 945.1 256.5 1058.9 130.8 983.3 223.6 992.3 263.3 1034.1 110.3 960.2 217.6"/>
<path class="k5" d="M1134.1 468.3 1213.8 551.2 1072.3 347.7 1125.6 474.7 1329.7 461.3 1281.7 274.9 1170.1 536.6 1164.9 441.3 1208.4 410.3 1088.5 366.2 1076.7 337.5 1078.4 361.5 1177.7 439.5 1254.6 399.8 1211.2 529.5 1228 517.3 1224.1 453.0"/>
<path class="k6" d="M1059.2 639.9 1119.4 641.5 1005.2 690.9 996.7 549.2 1082.7 628.6 1154.7 643.2 969.5 523.6 1154.7 637.6 1010.9 626.5 922.3 591.9 937 484.4 989 493.6 1018.9 690.4 1073.5 613.7 1042.6 604.6 1007.8 584.0 840 640.3 1075.3 622.7 992.6 596.3 991.3 611.7 1109.8 640.4 893.9 595.2 1018.2 666.2 1068.4 602.2"/>
<path class="k7" d="M850.1 638.7 821.1 586.4 745.3 557.2 818.2 597.3 825.7 692.8 987.4 655.3 824.9 713.7 817.5 718.9 825.4 608.6 833.5 711.2 826.5 622.3 968 634.5 880.4 698.1 1010 786.0 821.7 711.0 885.4 717.4 822.7 741.0 863.9 715.3"/>
<path class="k8" d="M1109.4 495.0 1103.2 517.4 1039 551.5 1058.5 544.3 902.9 586.0 1006.4 447.0 1053.8 507.4 1034.2 519.3 1057.3 478.4 1061.9 493.2 1065.8 367.3 911.2 412.6 1069.9 514.5 1043.7 346.1 1101.8 509.4 1068.9 464.0 1016 548.2 1058.3 511.1 1057 479.8 1035.6 558.2 1009.6 542.9 1038.7 542.4 1076.1 520.0 968.6 511.5 962 301.8"/>
<path class="k9" d="M904.5 196.7 926.8 381.6 901.7 350.9 906.2 433.0 924.9 383.7 884.8 524.5 941.7 346.1 867.7 430.4 862.6 517.3 920.6 451.5 920.4 243.1 861.4 445.0 903.8 302.6 891.1 487.4 919.1 437.5 932.4 347.6 862.7 456.8 943.3 354.1 919.7 390.2 889.3 229.9 916.6 443.9 939.9 262.0 939.3 304.4 884 464.5 889.9 430.4 902.3 307.9"/>
<path class="k10" d="M1289.4 617.9 1441.7 539.6 1311.4 623.6 1332.8 675.8 1288.3 606.9 1294.5 606.8 1335.6 631.1 1372.8 642.6 1352.5 662.9 1284.3 639.1 1411.2 524.4 1278.9 657.5 1424.9 554.3 1445.6 549.1 1381.5 610.4 1386.3 591.2 1060 436.0 1410 573.1 1227 655.0 1296.8 613.3 1266.5 661.6 1400.3 590.9 1374.5 489.9 1372.5 621.2 1252 668.0"/>
<path class="k11" d="M1217.7 593.2 1272.7 528.0 1246.3 617.8 1258.9 627.4 1346.4 532.9 1312.4 541.2 1228.3 641.1 1247.2 642.7 1255.4 605.5 1208.8 605.9 1238.3 598.6 1300.8 547.6 1255.5 577.8 1203.6 619.5 1309.5 535.0"/>
<path class="k12" d="M895.3 474.9 882.9 442.6 888.1 423.1 972.8 423.3 1032.4 397.4 903.9 363.1 913.9 356.1 871.5 506.8 849 557.0 969.6 296.7 928.5 627.1 848.3 300.4 889.1 522.1 1356.8 378.3"/>
<path class="k13" d="M1294.8 489.1 1314.3 465.3 1297.4 453.5 1268 496.9 1283.8 415.7 1278.2 462.6 1286.3 521.1 1278.3 468.4 1259.8 310.5 1284.1 417.6 1270.8 427.9 1284.9 467.4"/>
<path class="k14" d="M1234.5 372.9 1228 343.6 1193.1 387.4 1241.5 348.8 1232.2 333.4"/>
<path class="k15" d="M837.7 580.9 824.1 543.0 848.4 274.4 858.3 549.2 784.9 463.7 840.3 540.4 1062 520.0 814.5 571.2 844.9 550.4"/>
<path class="k1" d="M1340.4 251.8 1411.7 334.9 1462.4 320.4 1315.2 323.3 1436.8 349.3 1349.6 452.2 1339.8 265.6 1317.1 333.1 1400.7 375.4 1352.6 349.4 1313.3 354.6 1308.2 323.6 1416.1 310.2 1343.5 398.0 1313.5 261.0 1394.5 236.7 1422.6 226.5 1425.3 351.4 1256.6 561.4 1409.5 314.5 1290.2 264.1 1265.8 209.2 1429.8 278.5 1343.5 378.3 1389.7 340.7 1254.7 218.7 1392.9 458.8 1438.3 393.3 1287.2 168.9 1368.1 323.1 1250.6 195.3 1439.8 345.2 1378.9 232.0 1331.6 439.3 1336 224.9 1437.3 354.5 1367 371.6 1251.6 182.0 1264.5 200.5 1310.3 264.1 1356.2 222.2 1440.2 361.6 1410.9 269.7 1324.7 427.0 1310 286.7 1357.3 248.2 1395.5 292.0 1446.7 399.4 1364.5 224.4 1317.4 306.6 1340.2 223.1 1408.1 407.4 1305.6 174.9 1335.6 265.8 1348.7 368.2 1342.1 318.1 1453.7 365.4 1363.8 321.6 1397.2 185.2 1395.8 411.8 1404.2 385.5 1247.9 186.5 1341.6 231.4 1319.9 277.1"/>
<path class="k2" d="M831.2 348.4 828.2 410.0 791.9 417.3 836.7 297.0 879.3 321.3 797.4 294.4 828.6 349.8 824.1 387.9 863.5 262.2 865.3 331.3 852.2 233.9 814.5 374.3 788.4 414.0 858.1 227.3 871.1 214.2 820.3 426.0 828.9 338.7 774.9 498.9 821.6 403.3 845.3 264.6 840.2 461.1 839.1 361.0 828.2 347.7 823.7 270.4 851.1 342.3 864.1 250.2 808.4 304.3 807.3 342.0 771.9 370.9 866.6 341.5 877.5 273.2 813.4 315.7 785.4 345.7 835.9 327.8 782 340.4 830.8 284.9 783.5 370.0 857.3 271.7 838.3 276.6 891.8 394.4 810 325.2 847.1 260.7 819.1 274.7 842.1 268.6 857.9 254.4 795 297.2 842 402.5"/>
<path class="k3" d="M967.5 620.7 972.1 626.4 855.1 467.6 901.3 668.0 966.2 701.6 933.8 539.8 924.7 706.9 912 624.8 936.6 509.2 915 668.0 950 719.5 928.1 620.1 961.5 721.2 951.8 541.0 987.5 635.5 905.4 651.2 911.5 662.1 966.7 547.9 926 678.3 966.1 577.9"/>
<path class="k4" d="M1002.5 220.9 892.7 167.0 988.2 236.9 1026.3 107.4 997.7 156.2 1006.9 156.4 952 161.5 962.6 187.7 992.9 127.6 936.6 161.4 994.4 209.4 868.9 214.3 973 133.7 1039.3 118.8 912.1 151.8 1035.7 101.5 958.5 213.7 1028.5 109.4 934.4 237.2 980.2 224.7 966.2 136.5 992.9 153.1 1026.2 163.8 997.8 140.3 1034.5 125.2 953.8 136.0 999.4 123.6 909.5 213.1 920.5 165.8"/>
<path class="k5" d="M1229.4 581.8 1154.7 453.6 1074.2 336.7 1274.8 462.9 1169.5 455.0 1206.6 483.5 1222.3 390.7 1077 338.4 1135.8 468.1 1213.6 525.0 1079.8 354.3 1262 300.2 1081.5 344.4 1232.6 474.0 1235.1 209.9 1152.8 524.4 1146.4 445.5 1198.3 454.3 1195.3 474.6"/>
<path class="k6" d="M1109.7 613.4 1124.5 635.5 1033.5 617.3 994.8 547.1 942.6 586.5 1096.2 578.3 1033.2 615.0 927.3 586.0 1107.9 633.7 964 485.5 1011.2 441.7 978 447.5 951 523.2 1098 436.0 921.9 611.6 981.1 623.0 940.4 458.3 1126.5 639.4 1088.1 607.1 858 446.7 1092 625.0 1007.6 444.9 1123.6 634.8 902.4 583.1 993.8 634.6"/>
<path class="k7" d="M1027.2 757.2 863 763.4 851.1 711.7 854.4 639.2 866.3 733.2 981.8 741.6 835.1 712.3 831.4 582.8 871.5 829.3 764.3 553.6 838.5 586.2 850.1 754.0 822.8 694.6 845.7 734.6 768.1 557.4 764 504.7 866.1 655.5 913.3 737.9 973.3 731.9 988 732.8 965.7 748.4 864.3 714.3 962.3 755.1 951.1 739.1"/>
<path class="k8" d="M1022.3 537.1 1045.6 550.8 988.3 385.4 990.4 521.6 1058 409.3 1132.8 553.6 1078.6 474.0 913.2 464.9 1126.3 553.3 1049.2 535.2 1015.5 543.8 845 563.0 1052.7 467.8 1103.2 510.0 1036.5 550.5 993.5 316.6 1050 521.4 1048 540.1 1099.4 500.6 925.5 538.4 888 530.9 934.2 331.1 960.8 463.2 1030.5 415.3"/>
<path class="k9" d="M865.3 526.8 850.1 491.5 905.4 427.8 860.4 503.9 871.8 416.5 860.3 534.3 873.3 492.0 914.2 401.8 872.2 479.9 911 375.4 939.1 430.0 928 276.7 907 607.8 900.5 527.8 883.5 604.7 894.5 466.7 937.8 411.7 926.4 306.5 947.3 347.7 897.6 437.3 861.6 609.3 934.3 397.2 856.4 446.5 914.8 609.1 856.9 503.7 903.8 440.0 864.4 487.9 949.5 424.1 902.5 337.9 939.6 297.2 895.3 527.1 923.5 451.5 859.1 433.3"/>
<path class="k10" d="M1296.2 613.8 1395.7 567.9 1350.1 661.0 1365.2 617.6 1269.8 639.9 1333.1 671.4 1359 571.8 1300.3 607.7 1400.6 565.7 1445.4 544.3 1433.2 544.0 1295.8 604.1 1330.6 563.9 1397 525.3 1301.7 614.4 1352.7 668.3 1338.3 602.7 1439.7 546.6"/>
<path class="k11" d="M1231.3 624.8 1265 537.2 1208.9 590.2 1253.9 557.9 1253 642.7 1186.4 609.0 1265.6 606.3 1244.2 614.6 1268.5 564.7 1214.6 575.5 1272.4 601.3 1210.6 612.5 1279.2 563.2 1299.8 546.3 1218.1 569.4"/>
<path class="k12" d="M986.2 365.3 1013.6 421.5 941.2 695.9 1009.3 329.1 843.2 532.3 882.1 330.5 959.2 347.7 985.4 376.6 1144 343.0 979.2 395.9 867.8 503.0 787.1 494.0 893.2 605.6 956.1 322.1 904.6 363.5 947 604.1 960.2 347.7 963.8 280.7 803.8 257.0"/>
<path class="k13" d="M1305.5 443.6 1284 510.0 1281.6 511.7 1297 438.4 1278.6 445.3 1257.4 314.8 1314.4 477.5 1288.6 465.0 1311.8 425.7 1287.1 457.7"/>
<path class="k14" d="M1210.2 346.2 1215.5 345.7 1200.2 356.5 1266.8 362.9 1188.2 358.0 1222 311.2 1243.8 334.1 1207.2 368.4 1215 320.6 1246.6 346.9"/>
<path class="k15" d="M871.5 545.2 776.3 508.2 820.2 538.0 889.5 598.6 781.6 471.4 814 243.0 796.1 476.0 860.8 545.4 792.1 481.4 766.6 463.3"/>
<path class="k1" d="M1410.4 437.3 1412 187.6 1283.6 233.1 1348.7 414.8 1400.1 418.0 1388.6 275.2 1425.9 353.6 1395.4 396.4 1352.8 408.5 1360.2 444.7 1406.2 322.2 1423.1 345.8 1407.5 506.8 1321.3 283.2 1364.3 286.5 1314.8 244.8 1335.9 326.4 1375.6 284.8 1471.7 278.4 1370.9 269.4 1393.8 256.9 1343.2 297.7 1420.3 409.3 1340.3 252.8 1382.6 372.0 1267.9 507.7 1397.3 338.6 1274.1 325.2 1421.6 394.1 1073 442.0 1332.1 365.7 1410.6 301.6 1361.3 238.5 1355.9 248.5 1337.3 341.2 1354.4 468.7 1417.3 269.7 1245.4 280.3 1300.2 400.3 1441.6 304.9 1351.9 453.9 1327 298.9 1404.8 241.8 1368.7 386.5 1327 262.4 1365.8 228.6 1328.1 314.3 1452.5 278.1 1323.7 243.8 1282.1 243.7 1318 275.4 1369.5 391.9 1321.7 245.6 1432.3 399.4 1275.4 217.4 1401 384.9 1265.1 193.2"/>
<path class="k2" d="M839.7 373.6 792.7 339.8 872.2 350.0 859 195.0 786 411.3 820.2 397.3 850.1 393.8 810.7 286.8 845.3 257.0 884.4 296.3 798.9 260.0 792.5 299.5 877.4 357.4 812.1 299.8 890 376.1 815.5 336.8 767.9 373.9 869.4 448.1 821.2 320.1 791.9 357.4 835.5 272.4 796 328.8 788.7 296.7 803.2 389.8 815.6 374.3 822.9 388.2 1056 348.0 817.2 317.7 811.2 421.3 794.9 312.9 837.5 353.3 847.7 368.3 784.7 308.0 808.7 387.1 784.9 271.1 820 343.4"/>
<path class="k3" d="M916.4 696.4 939.6 691.8 940.6 625.8 954.1 532.5 962.3 667.4 966.8 617.2 941.7 625.1 931.3 526.2 863.4 658.8 950.8 703.2 829.5 665.0 948.5 715.5 926.9 669.2 928.1 664.0 889.4 670.5 950.8 609.2 868.3 663.7 946.3 654.7 945.9 718.2 921.1 513.7 943.1 659.7 883.1 665.1 951 723.7 951 671.1 976.7 649.5 973 610.3 888.4 469.6 847 662.4 963.4 699.9 956.2 690.6 921.7 675.2 844.3 664.7 912.1 671.9 887.5 660.6 835.8 664.7 918.1 665.6 878.6 673.6"/>
<path class="k4" d="M928.3 215.9 945.1 254.5 1026.2 166.1 997.2 128.3 983.3 214.6 903.8 182.3 909.6 190.6 982.1 231.8 936.4 226.4 993.4 186.5 1005 171.2 914.4 283.0 959.5 166.8 1032.1 127.4 1031.1 105.5 1031.3 97.9 1003.8 247.1 1032.2 105.2 998.4 210.7 884.1 255.6 955.4 129.3 952.8 257.9 897 262.0 1027 114.2 936.7 166.4 975.8 183.1 931.8 218.1 1014.6 114.0 1001.4 220.5 932.5 277.3 1031.1 108.9 1017.6 172.6 996.4 237.1 944.8 213.6 1044.6 105.7 992.7 225.9"/>
<path class="k5" d="M1248.6 436.2 1070.4 350.6 1326.2 454.2 1141 476.6 1140 463.8 1077.7 349.5 1234.9 216.8 1230.1 224.9 1227.2 502.8 1202 505.4 1192.3 477.9 1243.1 457.3 1150 477.1 1070.6 337.9 1204.3 485.1 1080 339.3 1163 434.1 1207.5 543.9 1042 211.0 1252.2 273.8 1168.6 538.3 1230.8 532.0 1262.5 436.4 1173.5 548.3 1067.5 337.2 1122.6 464.1 1160.6 515.4 1212.3 480.6 1211.7 508.5 1139.5 469.9 1241.6 452.4"/>
<path class="k6" d="M917 531.2 888.6 489.6 1035.8 593.5 874.2 594.2 964.9 540.7 999.1 630.7 1034.5 604.2 913.6 479.3 1021.4 650.9 1094.7 620.2 1172.7 644.4 1093.8 630.9 1172 655.3 1073.2 633.4 924.8 492.6 999.9 435.8 1152.5 651.8 918.6 446.8 890.7 458.2 989.7 545.4 865.5 501.4 1152.2 648.1 882.5 584.7 965.8 556.7 895 594.5 1013.3 595.8 964.1 478.2 1018.2 617.4 1005.1 647.1 984.3 481.7 1089.6 622.9 976.9 591.5 1047.7 594.2"/>
<path class="k7" d="M878.3 830.8 980 757.8 872 725.6 741.4 560.6 848.4 758.6 845.6 724.3 849.9 810.5 877.4 826.6 915.2 724.9 835.2 732.0 822.7 760.5 751.2 545.9 878.2 831.4 877.4 726.9 1000.2 733.1 1022.3 796.0 908.6 723.4 824.5 716.7"/>
<path class="k8" d="M1075.3 549.2 1009.5 569.7 885.5 591.9 961.4 606.3 1074.4 502.8 1041 433.9 1026 511.6 1002.8 516.5 978.1 303.4 1022.2 500.1 1075.9 490.5 1044.8 525.2 909.7 583.8 1055.7 520.5 1043 546.3"/>
<path class="k9" d="M886.9 210.7 942.1 287.1 875.4 514.8 918 432.0 928.4 396.3 887 241.1 896 398.6 895.5 527.1 947.8 391.1 849.4 452.6 911.3 321.2 856.7 451.7 917.1 559.4 839 487.8 928.5 522.0 920.9 430.0 923.8 362.1 929.9 366.5 871.6 466.5 898.6 398.2 862 473.3 931 424.5 865.4 478.8 850.8 462.4"/>
<path class="k10" d="M1415.8 555.2 1281.4 611.4 1269.7 657.4 1304.4 600.1 1388 529.2 1320.4 619.0 1392.8 607.6 1342.7 495.6 1389.6 583.2 1397.5 586.2 1354.4 589.1 1268.9 621.5 1447.7 548.1 1309.7 631.9 1364.4 622.4 1285.1 604.5 1345 664.9 1398.9 589.3 1351.9 539.9 1330.3 603.1 1318.6 621.8 1274.1 617.2 1405.9 516.5 1288.8 621.3 1400.6 593.4 1334.3 563.8 1365.7 655.3 1275.3 595.6 1285.9 620.8 1361.8 660.8"/>
<path class="k11" d="M1203.7 623.1 1298 530.8 1272.8 553.6 1292.5 527.9 1255.4 589.7 1227.1 566.8 1337.5 474.9 1211.4 590.1 1324 526.5 1373.6 505.6 1287.8 550.0 1248 618.5 1281.7 598.3 1283.5 603.5 1185 290.0 1243.7 569.4"/>
<path class="k12" d="M988.6 405.8 976 332.9 966.7 393.8 830.8 568.7 901.1 314.8 1009.4 278.6 917.1 329.7 966.9 416.9 810 433.4 829.2 495.6 913.1 258.7 1028.5 420.0 1029 405.4 976.3 671.6 952.7 619.1 970.1 561.6 818 400.2 916.2 317.9 863.2 454.0 946.1 279.9 915.7 552.4"/>
<path class="k13" d="M1305.9 423.5 1255.5 495.7 1290.3 458.3 1277.5 501.3 1293.4 496.3 1285.5 503.5 1280.2 442.6"/>
<path class="k14" d="M1212.1 360.7 1214.6 333.6 1192.1 362.8"/>
<path class="k15" d="M822.4 540.5 824.5 467.5 849.2 574.6 808.5 476.4"/>
</g>
<rect x="700.40" y="64.20" width="809.00" height="808.80" fill="none" stroke="#333" stroke-width="1.5"/>
<line class="tk" x1="708.4" x2="708.4" y1="873.7" y2="881.0"/>
<text class="at" text-anchor="middle" x="708.4" y="905.3">-60</text>
<line class="tk" x1="896.4" x2="896.4" y1="873.7" y2="881.0"/>
<text class="at" text-anchor="middle" x="896.4" y="905.3">-30</text>
<line class="tk" x1="1084.5" x2="1084.5" y1="873.7" y2="881.0"/>
<text class="at" text-anchor="middle" x="1084.5" y="905.3">0</text>
<line class="tk" x1="1272.6" x2="1272.6" y1="873.7" y2="881.0"/>
<text class="at" text-anchor="middle" x="1272.6" y="905.3">30</text>
<line class="tk" x1="1460.6" x2="1460.6" y1="873.7" y2="881.0"/>
<text class="at" text-anchor="middle" x="1460.6" y="905.3">60</text>
<line class="tk" x1="692.4" x2="699.7" y1="659.0" y2="659.0"/>
<text class="at" text-anchor="end" x="686.6" y="667.4">-40</text>
<line class="tk" x1="692.4" x2="699.7" y1="437.8" y2="437.8"/>
<text class="at" text-anchor="end" x="686.6" y="446.2">0</text>
<line class="tk" x1="692.4" x2="699.7" y1="216.6" y2="216.6"/>
<text class="at" text-anchor="end" x="686.6" y="225.0">40</text>
<text class="ti" text-anchor="middle" x="1104.8" y="939">umap1</text>
<text class="ti" text-anchor="middle" transform="translate(638.8 468.8) rotate(-90)">umap2</text>
<text class="ti" x="1553.8" y="103.8">conos1.4</text>
<circle cx="1577.3" cy="144.2" r="10.4" fill="#F8766D"/><text class="lt" x="1615.5" y="152.7">1</text>
<circle cx="1577.3" cy="190.3" r="10.4" fill="#E58700"/><text class="lt" x="1615.5" y="198.8">2</text>
<circle cx="1577.3" cy="236.4" r="10.4" fill="#C99800"/><text class="lt" x="1615.5" y="244.9">3</text>
<circle cx="1577.3" cy="282.4" r="10.4" fill="#A3A500"/><text class="lt" x="1615.5" y="290.9">4</text>
<circle cx="1577.3" cy="328.5" r="10.4" fill="#6BB100"/><text class="lt" x="1615.5" y="337.0">5</text>
<circle cx="1577.3" cy="374.6" r="10.4" fill="#00BA38"/><text class="lt" x="1615.5" y="383.1">6</text>
<circle cx="1577.3" cy="420.7" r="10.4" fill="#00BF7D"/><text class="lt" x="1615.5" y="429.2">7</text>
<circle cx="1577.3" cy="466.8" r="10.4" fill="#00C0AF"/><text class="lt" x="1615.5" y="475.3">8</text>
<circle cx="1577.3" cy="512.8" r="10.4" fill="#00BCD8"/><text class="lt" x="1615.5" y="521.3">9</text>
<circle cx="1577.3" cy="558.9" r="10.4" fill="#00B0F6"/><text class="lt" x="1615.5" y="567.4">10</text>
<circle cx="1577.3" cy="605.0" r="10.4" fill="#619CFF"/><text class="lt" x="1615.5" y="613.5">11</text>
<circle cx="1577.3" cy="651.1" r="10.4" fill="#B983FF"/><text class="lt" x="1615.5" y="659.6">12</text>
<circle cx="1577.3" cy="697.2" r="10.4" fill="#E76BF3"/><text class="lt" x="1615.5" y="705.7">13</text>
<circle cx="1577.3" cy="743.2" r="10.4" fill="#FD61D1"/><text class="lt" x="1615.5" y="751.7">14</text>
<circle cx="1577.3" cy="789.3" r="10.4" fill="#FF67A4"/><text class="lt" x="1615.5" y="797.8">15</text>
</svg>
</body></html>
